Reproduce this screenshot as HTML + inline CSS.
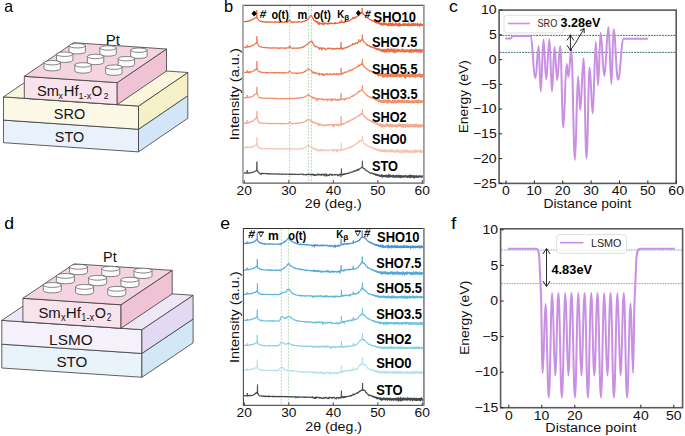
<!DOCTYPE html><html><head><meta charset="utf-8"><style>html,body{margin:0;padding:0;background:#fff;overflow:hidden}svg{display:block}text{font-family:"Liberation Sans",sans-serif}</style></head><body>
<svg width="685" height="436" viewBox="0 0 685 436">
<rect width="685" height="436" fill="#fff"/>
<polygon points="3.50,120.10 138.50,129.28 138.50,151.88 3.50,142.70" fill="#e9f1fb" stroke="#3a3a3a" stroke-width="0.8" stroke-linejoin="round" />
<polygon points="138.50,129.28 187.80,95.68 187.80,118.28 138.50,151.88" fill="#d3e6f8" stroke="#3a3a3a" stroke-width="0.8" stroke-linejoin="round" />
<polygon points="3.50,96.90 138.50,106.08 138.50,129.28 3.50,120.10" fill="#fbf9e6" stroke="#3a3a3a" stroke-width="0.8" stroke-linejoin="round" />
<polygon points="138.50,106.08 187.80,72.48 187.80,95.68 138.50,129.28" fill="#f6f0c8" stroke="#3a3a3a" stroke-width="0.8" stroke-linejoin="round" />
<polygon points="3.50,96.90 138.50,106.08 187.80,72.48 52.80,63.30" fill="#f9f6dc" stroke="#3a3a3a" stroke-width="0.8" stroke-linejoin="round" />
<polygon points="24.30,76.31 117.20,82.63 117.20,104.63 24.30,98.31" fill="#f8e2eb" stroke="#3a3a3a" stroke-width="0.8" stroke-linejoin="round" />
<polygon points="117.20,82.63 166.50,49.03 166.50,71.03 117.20,104.63" fill="#f0c3d4" stroke="#3a3a3a" stroke-width="0.8" stroke-linejoin="round" />
<polygon points="24.30,76.31 117.20,82.63 166.50,49.03 73.60,42.71" fill="#f4d4e0" stroke="#3a3a3a" stroke-width="0.8" stroke-linejoin="round" />
<path d="M69.04,45.74 L69.04,51.74 A8.20,2.20 0 0 0 85.44,51.74 L85.44,45.74 Z" fill="#fbfbfb" stroke="#555" stroke-width="0.7"/>
<ellipse cx="77.24" cy="45.74" rx="8.20" ry="2.20" fill="#ffffff" stroke="#555" stroke-width="0.7"/>
<path d="M99.87,47.97 L99.87,53.97 A8.20,2.20 0 0 0 116.27,53.97 L116.27,47.97 Z" fill="#fbfbfb" stroke="#555" stroke-width="0.7"/>
<ellipse cx="108.07" cy="47.97" rx="8.20" ry="2.20" fill="#ffffff" stroke="#555" stroke-width="0.7"/>
<path d="M130.70,50.20 L130.70,56.20 A8.20,2.20 0 0 0 147.10,56.20 L147.10,50.20 Z" fill="#fbfbfb" stroke="#555" stroke-width="0.7"/>
<ellipse cx="138.90" cy="50.20" rx="8.20" ry="2.20" fill="#ffffff" stroke="#555" stroke-width="0.7"/>
<path d="M56.52,54.22 L56.52,60.22 A8.20,2.20 0 0 0 72.92,60.22 L72.92,54.22 Z" fill="#fbfbfb" stroke="#555" stroke-width="0.7"/>
<ellipse cx="64.72" cy="54.22" rx="8.20" ry="2.20" fill="#ffffff" stroke="#555" stroke-width="0.7"/>
<path d="M87.35,56.45 L87.35,62.45 A8.20,2.20 0 0 0 103.75,62.45 L103.75,56.45 Z" fill="#fbfbfb" stroke="#555" stroke-width="0.7"/>
<ellipse cx="95.55" cy="56.45" rx="8.20" ry="2.20" fill="#ffffff" stroke="#555" stroke-width="0.7"/>
<path d="M118.18,58.68 L118.18,64.68 A8.20,2.20 0 0 0 134.58,64.68 L134.58,58.68 Z" fill="#fbfbfb" stroke="#555" stroke-width="0.7"/>
<ellipse cx="126.38" cy="58.68" rx="8.20" ry="2.20" fill="#ffffff" stroke="#555" stroke-width="0.7"/>
<path d="M44.00,62.70 L44.00,68.70 A8.20,2.20 0 0 0 60.40,68.70 L60.40,62.70 Z" fill="#fbfbfb" stroke="#555" stroke-width="0.7"/>
<ellipse cx="52.20" cy="62.70" rx="8.20" ry="2.20" fill="#ffffff" stroke="#555" stroke-width="0.7"/>
<path d="M74.83,64.93 L74.83,70.93 A8.20,2.20 0 0 0 91.23,70.93 L91.23,64.93 Z" fill="#fbfbfb" stroke="#555" stroke-width="0.7"/>
<ellipse cx="83.03" cy="64.93" rx="8.20" ry="2.20" fill="#ffffff" stroke="#555" stroke-width="0.7"/>
<path d="M105.66,67.16 L105.66,73.16 A8.20,2.20 0 0 0 122.06,73.16 L122.06,67.16 Z" fill="#fbfbfb" stroke="#555" stroke-width="0.7"/>
<ellipse cx="113.86" cy="67.16" rx="8.20" ry="2.20" fill="#ffffff" stroke="#555" stroke-width="0.7"/>
<text x="105.77" y="44.80" font-size="15.5" textLength="14.14" lengthAdjust="spacingAndGlyphs" fill="#111" >Pt</text>
<text x="36.94" y="95.70" font-size="14.5" textLength="21.93" lengthAdjust="spacingAndGlyphs" fill="#151515" >Sm</text>
<text x="58.50" y="98.90" font-size="9.8" textLength="4.39" lengthAdjust="spacingAndGlyphs" fill="#151515" >x</text>
<text x="63.79" y="95.70" font-size="14.5" textLength="14.79" lengthAdjust="spacingAndGlyphs" fill="#151515" >Hf</text>
<text x="78.61" y="98.90" font-size="9.8" textLength="12.59" lengthAdjust="spacingAndGlyphs" fill="#151515" >1-x</text>
<text x="91.55" y="95.70" font-size="14.5" textLength="10.71" lengthAdjust="spacingAndGlyphs" fill="#151515" >O</text>
<text x="103.67" y="98.90" font-size="9.8" textLength="4.76" lengthAdjust="spacingAndGlyphs" fill="#151515" >2</text>
<text x="53.84" y="119.00" font-size="15" textLength="31.35" lengthAdjust="spacingAndGlyphs" fill="#151515" >SRO</text>
<text x="54.85" y="142.20" font-size="14.5" textLength="29.33" lengthAdjust="spacingAndGlyphs" fill="#151515" >STO</text>
<text x="4.23" y="11.80" font-size="16.5" textLength="8.77" lengthAdjust="spacingAndGlyphs" fill="#000" >a</text>
<polygon points="1.80,344.20 141.90,353.45 141.90,377.25 1.80,368.00" fill="#e9f3fa" stroke="#3a3a3a" stroke-width="0.8" stroke-linejoin="round" />
<polygon points="141.90,353.45 193.10,319.05 193.10,342.85 141.90,377.25" fill="#d3e8f7" stroke="#3a3a3a" stroke-width="0.8" stroke-linejoin="round" />
<polygon points="1.80,320.40 141.90,329.65 141.90,353.45 1.80,344.20" fill="#f5f1fa" stroke="#3a3a3a" stroke-width="0.8" stroke-linejoin="round" />
<polygon points="141.90,329.65 193.10,295.25 193.10,319.05 141.90,353.45" fill="#e3d9f5" stroke="#3a3a3a" stroke-width="0.8" stroke-linejoin="round" />
<polygon points="1.80,320.40 141.90,329.65 193.10,295.25 53.00,286.00" fill="#ede7f8" stroke="#3a3a3a" stroke-width="0.8" stroke-linejoin="round" />
<polygon points="22.90,298.29 121.00,304.77 121.00,328.27 22.90,321.79" fill="#f8e2eb" stroke="#3a3a3a" stroke-width="0.8" stroke-linejoin="round" />
<polygon points="121.00,304.77 172.20,270.37 172.20,293.87 121.00,328.27" fill="#f0c3d4" stroke="#3a3a3a" stroke-width="0.8" stroke-linejoin="round" />
<polygon points="22.90,298.29 121.00,304.77 172.20,270.37 74.10,263.89" fill="#f4d4e0" stroke="#3a3a3a" stroke-width="0.8" stroke-linejoin="round" />
<path d="M69.50,266.80 L69.50,272.30 A9.00,2.40 0 0 0 87.50,272.30 L87.50,266.80 Z" fill="#fbfbfb" stroke="#555" stroke-width="0.7"/>
<ellipse cx="78.50" cy="266.80" rx="9.00" ry="2.40" fill="#ffffff" stroke="#555" stroke-width="0.7"/>
<path d="M101.75,268.70 L101.75,274.20 A9.00,2.40 0 0 0 119.75,274.20 L119.75,268.70 Z" fill="#fbfbfb" stroke="#555" stroke-width="0.7"/>
<ellipse cx="110.75" cy="268.70" rx="9.00" ry="2.40" fill="#ffffff" stroke="#555" stroke-width="0.7"/>
<path d="M134.00,270.60 L134.00,276.10 A9.00,2.40 0 0 0 152.00,276.10 L152.00,270.60 Z" fill="#fbfbfb" stroke="#555" stroke-width="0.7"/>
<ellipse cx="143.00" cy="270.60" rx="9.00" ry="2.40" fill="#ffffff" stroke="#555" stroke-width="0.7"/>
<path d="M56.40,275.90 L56.40,281.40 A9.00,2.40 0 0 0 74.40,281.40 L74.40,275.90 Z" fill="#fbfbfb" stroke="#555" stroke-width="0.7"/>
<ellipse cx="65.40" cy="275.90" rx="9.00" ry="2.40" fill="#ffffff" stroke="#555" stroke-width="0.7"/>
<path d="M88.65,277.80 L88.65,283.30 A9.00,2.40 0 0 0 106.65,283.30 L106.65,277.80 Z" fill="#fbfbfb" stroke="#555" stroke-width="0.7"/>
<ellipse cx="97.65" cy="277.80" rx="9.00" ry="2.40" fill="#ffffff" stroke="#555" stroke-width="0.7"/>
<path d="M120.90,279.70 L120.90,285.20 A9.00,2.40 0 0 0 138.90,285.20 L138.90,279.70 Z" fill="#fbfbfb" stroke="#555" stroke-width="0.7"/>
<ellipse cx="129.90" cy="279.70" rx="9.00" ry="2.40" fill="#ffffff" stroke="#555" stroke-width="0.7"/>
<path d="M43.30,285.00 L43.30,290.50 A9.00,2.40 0 0 0 61.30,290.50 L61.30,285.00 Z" fill="#fbfbfb" stroke="#555" stroke-width="0.7"/>
<ellipse cx="52.30" cy="285.00" rx="9.00" ry="2.40" fill="#ffffff" stroke="#555" stroke-width="0.7"/>
<path d="M75.55,286.90 L75.55,292.40 A9.00,2.40 0 0 0 93.55,292.40 L93.55,286.90 Z" fill="#fbfbfb" stroke="#555" stroke-width="0.7"/>
<ellipse cx="84.55" cy="286.90" rx="9.00" ry="2.40" fill="#ffffff" stroke="#555" stroke-width="0.7"/>
<path d="M107.80,288.80 L107.80,294.30 A9.00,2.40 0 0 0 125.80,294.30 L125.80,288.80 Z" fill="#fbfbfb" stroke="#555" stroke-width="0.7"/>
<ellipse cx="116.80" cy="288.80" rx="9.00" ry="2.40" fill="#ffffff" stroke="#555" stroke-width="0.7"/>
<text x="103.12" y="262.10" font-size="15.5" textLength="13.58" lengthAdjust="spacingAndGlyphs" fill="#111" >Pt</text>
<text x="38.42" y="318.30" font-size="15" textLength="22.36" lengthAdjust="spacingAndGlyphs" fill="#151515" >Sm</text>
<text x="60.90" y="321.40" font-size="10.2" textLength="4.60" lengthAdjust="spacingAndGlyphs" fill="#151515" >x</text>
<text x="65.85" y="318.30" font-size="15" textLength="15.23" lengthAdjust="spacingAndGlyphs" fill="#151515" >Hf</text>
<text x="81.30" y="321.40" font-size="10.2" textLength="12.80" lengthAdjust="spacingAndGlyphs" fill="#151515" >1-x</text>
<text x="94.82" y="318.30" font-size="15" textLength="11.17" lengthAdjust="spacingAndGlyphs" fill="#151515" >O</text>
<text x="106.68" y="321.40" font-size="10.2" textLength="4.64" lengthAdjust="spacingAndGlyphs" fill="#151515" >2</text>
<text x="49.14" y="345.40" font-size="15" textLength="43.49" lengthAdjust="spacingAndGlyphs" fill="#151515" >LSMO</text>
<text x="56.42" y="366.70" font-size="14.5" textLength="30.90" lengthAdjust="spacingAndGlyphs" fill="#151515" >STO</text>
<text x="4.26" y="229.00" font-size="16.5" textLength="9.77" lengthAdjust="spacingAndGlyphs" fill="#000" >d</text>
<line x1="289.69" y1="6.10" x2="289.69" y2="182.60" stroke="#8cc68c" stroke-width="0.7" stroke-dasharray="1.8,1.4"/>
<line x1="308.38" y1="6.10" x2="308.38" y2="182.60" stroke="#8cc68c" stroke-width="0.7" stroke-dasharray="1.8,1.4"/>
<line x1="311.41" y1="6.10" x2="311.41" y2="182.60" stroke="#8cc68c" stroke-width="0.7" stroke-dasharray="1.8,1.4"/>
<path d="M244.00,21.40 L244.35,21.68 L244.70,21.55 L245.05,21.59 L245.40,21.84 L245.75,21.42 L246.10,21.18 L246.45,21.45 L246.80,21.49 L247.15,21.35 L247.50,21.35 L247.85,20.94 L248.20,20.78 L248.55,20.87 L248.90,20.69 L249.25,20.59 L249.60,21.05 L249.95,20.54 L250.30,20.27 L250.65,20.47 L251.00,20.13 L251.35,20.15 L251.70,19.83 L252.05,19.74 L252.40,19.48 L252.75,19.37 L253.10,19.18 L253.45,18.91 L253.80,18.44 L254.15,18.52 L254.50,18.24 L254.85,18.16 L255.20,18.04 L255.55,17.93 L255.90,17.89 L256.25,17.76 L256.40,17.63 L256.80,17.60 L257.20,17.86 L257.30,17.90 L257.65,18.80 L258.00,19.15 L258.35,19.40 L258.70,20.08 L259.05,20.20 L259.40,20.57 L259.75,20.60 L260.10,21.19 L260.45,21.29 L260.80,21.30 L261.15,21.35 L261.50,21.64 L261.85,21.43 L262.20,21.63 L262.55,21.64 L262.90,21.83 L263.25,21.95 L263.60,21.73 L263.95,22.07 L264.30,22.07 L264.65,21.85 L265.00,22.05 L265.35,22.23 L265.70,21.86 L266.05,22.03 L266.40,21.79 L266.75,22.00 L267.10,21.89 L267.45,21.97 L267.80,22.23 L268.15,21.96 L268.50,21.83 L268.85,22.01 L269.20,22.05 L269.55,21.89 L269.90,22.11 L270.25,22.11 L270.60,22.04 L270.95,22.23 L271.30,22.03 L271.65,22.09 L272.00,22.06 L272.35,22.09 L272.70,21.94 L273.05,22.20 L273.40,22.20 L273.75,22.23 L274.10,22.00 L274.45,21.82 L274.80,21.83 L275.15,22.25 L275.50,21.90 L275.85,22.26 L276.20,22.05 L276.55,21.98 L276.90,22.13 L277.25,21.91 L277.60,22.13 L277.95,22.05 L278.30,22.22 L278.65,21.84 L279.00,21.98 L279.35,22.19 L279.70,21.93 L280.05,22.21 L280.40,21.99 L280.75,22.15 L281.10,22.28 L281.45,22.16 L281.80,21.91 L282.15,21.93 L282.50,22.11 L282.85,22.01 L283.20,21.97 L283.55,22.11 L283.90,22.24 L284.25,22.09 L284.60,21.86 L284.95,22.23 L285.30,22.21 L285.65,22.12 L286.00,22.01 L286.35,21.94 L286.70,21.96 L287.05,22.10 L287.40,22.05 L287.75,22.12 L288.10,21.46 L288.45,21.05 L288.80,21.06 L289.15,20.52 L289.50,19.84 L289.85,19.89 L290.20,20.18 L290.55,20.88 L290.90,21.71 L291.25,21.85 L291.60,21.89 L291.95,22.48 L292.30,21.98 L292.65,22.04 L293.00,21.87 L293.35,22.28 L293.70,21.89 L294.05,22.12 L294.40,22.09 L294.75,22.14 L295.10,22.09 L295.45,21.95 L295.80,21.97 L296.15,22.04 L296.50,22.13 L296.85,22.02 L297.20,21.99 L297.55,22.22 L297.90,21.98 L298.25,22.09 L298.60,22.11 L298.95,21.85 L299.30,21.88 L299.65,21.87 L300.00,22.13 L300.35,22.19 L300.70,22.20 L301.05,22.01 L301.40,21.78 L301.75,21.77 L302.10,22.07 L302.45,21.70 L302.80,21.71 L303.15,21.52 L303.50,21.36 L303.85,21.21 L304.20,21.50 L304.55,21.39 L304.90,21.21 L305.25,20.83 L305.60,20.67 L305.95,20.72 L306.30,20.23 L306.65,20.33 L307.00,19.95 L307.35,19.64 L307.70,19.30 L308.05,18.85 L308.40,18.72 L308.75,18.20 L309.10,17.73 L309.45,17.21 L309.80,16.69 L310.15,16.27 L310.50,15.77 L310.90,15.60 L311.30,15.75 L311.55,15.83 L311.90,16.51 L312.25,17.13 L312.60,18.14 L312.95,18.48 L313.30,18.74 L313.65,19.69 L314.00,20.54 L314.35,20.60 L314.70,20.57 L315.05,20.37 L315.40,21.55 L315.75,21.54 L316.10,21.33 L316.45,22.00 L316.80,22.34 L317.15,22.65 L317.50,21.78 L317.85,21.97 L318.20,24.04 L318.55,22.88 L318.90,22.74 L319.25,24.93 L319.60,23.36 L319.95,22.77 L320.30,23.76 L320.65,23.61 L321.00,23.52 L321.35,23.29 L321.70,24.00 L322.05,23.79 L322.40,22.96 L322.75,22.91 L323.10,25.08 L323.45,23.81 L323.80,23.06 L324.15,22.74 L324.50,24.44 L324.85,23.51 L325.20,22.99 L325.55,23.42 L325.90,23.47 L326.25,23.59 L326.60,23.75 L326.95,23.40 L327.30,23.80 L327.65,23.42 L328.00,24.51 L328.35,22.82 L328.70,23.36 L329.05,23.63 L329.40,22.81 L329.75,23.37 L330.10,23.27 L330.45,24.10 L330.80,23.18 L331.15,23.10 L331.50,23.46 L331.85,23.40 L332.20,23.32 L332.55,23.31 L332.90,23.60 L333.25,23.79 L333.60,23.58 L333.95,23.45 L334.30,22.87 L334.65,23.26 L335.00,23.62 L335.35,22.98 L335.70,23.53 L336.05,23.35 L336.40,23.34 L336.75,23.31 L337.10,23.16 L337.45,22.82 L337.80,23.08 L338.15,23.24 L338.50,23.19 L338.85,22.94 L339.20,22.46 L339.55,23.21 L339.90,22.23 L340.25,22.61 L340.60,22.00 L340.80,22.37 L341.20,22.31 L341.60,22.25 L341.65,22.76 L342.00,22.20 L342.35,21.71 L342.70,22.86 L343.05,22.10 L343.40,22.31 L343.75,21.73 L344.10,23.26 L344.45,22.02 L344.80,21.95 L345.15,21.56 L345.50,21.82 L345.85,21.48 L346.20,21.38 L346.55,21.26 L346.90,21.58 L347.25,21.10 L347.60,21.29 L347.95,20.77 L348.30,21.01 L348.65,20.78 L349.00,20.86 L349.35,20.62 L349.70,20.66 L350.05,20.44 L350.40,20.05 L350.75,19.78 L351.10,19.33 L351.45,19.24 L351.80,18.95 L352.15,19.02 L352.50,18.61 L352.90,18.40 L353.30,18.22 L353.55,17.97 L353.90,18.22 L354.25,17.67 L354.60,18.04 L354.95,17.39 L355.30,17.72 L355.65,17.44 L356.00,17.97 L356.35,16.74 L356.70,16.73 L357.05,16.27 L357.40,16.36 L357.75,15.91 L358.10,15.67 L358.45,15.27 L358.80,15.86 L359.15,14.80 L359.50,14.21 L359.85,14.26 L360.20,13.98 L360.55,13.31 L360.90,12.97 L361.25,13.43 L361.60,12.59 L361.70,12.68 L362.10,12.60 L362.50,12.77 L362.65,13.20 L363.00,13.83 L363.35,13.59 L363.70,14.08 L364.05,14.71 L364.40,15.07 L364.75,15.39 L365.10,15.70 L365.45,16.03 L365.80,16.00 L366.15,16.63 L366.50,16.94 L366.85,17.48 L367.20,17.39 L367.55,17.94 L367.90,18.06 L368.25,18.35 L368.60,18.60 L368.95,18.98 L369.30,19.18 L369.65,19.45 L370.00,19.58 L370.35,19.53 L370.70,19.54 L371.05,19.98 L371.40,20.14 L371.75,21.05 L372.10,20.46 L372.38,20.61 L372.66,20.81 L372.94,20.83 L373.22,21.13 L373.50,21.10 L373.78,21.18 L374.06,21.33 L374.34,21.68 L374.62,21.70 L374.90,21.87 L375.18,22.21 L375.46,22.24 L375.74,22.13 L376.02,22.50 L376.30,21.94 L376.58,22.43 L376.86,22.33 L377.14,21.97 L377.42,22.88 L377.70,22.51 L377.98,22.63 L378.26,22.97 L378.54,22.47 L378.82,22.85 L379.10,22.40 L379.38,23.25 L379.66,24.06 L379.94,23.98 L380.22,24.25 L380.50,22.78 L380.78,23.79 L381.06,24.28 L381.34,24.29 L381.62,24.76 L381.90,23.69 L382.18,24.98 L382.46,23.15 L382.74,24.43 L383.02,24.91 L383.30,23.85 L383.58,22.88 L383.86,24.21 L384.14,23.11 L384.42,24.45 L384.70,23.07 L384.98,24.96 L385.26,23.40 L385.54,22.92 L385.82,25.01 L386.10,23.75 L386.38,24.51 L386.66,25.15 L386.94,24.71 L387.22,25.29 L387.50,24.85 L387.78,25.42 L388.06,23.63 L388.34,24.98 L388.62,24.37 L388.90,25.23 L389.18,25.67 L389.46,24.33 L389.74,23.95 L390.02,23.04 L390.30,23.97 L390.58,24.99 L390.86,24.55 L391.14,24.57 L391.42,24.56 L391.70,25.44 L391.98,24.76 L392.26,24.00 L392.54,24.68 L392.82,25.50 L393.10,24.80 L393.38,25.02 L393.66,24.19 L393.94,25.44 L394.22,24.89 L394.50,25.43 L394.78,24.24 L395.06,25.17 L395.34,25.08 L395.62,24.14 L395.90,23.55 L396.18,24.56 L396.46,23.96 L396.74,24.75 L397.02,25.61 L397.30,24.59 L397.58,24.98 L397.86,25.17 L398.14,25.04 L398.42,25.58 L398.70,23.51 L398.98,25.58 L399.26,23.28 L399.54,24.54 L399.82,24.35 L400.10,25.32 L400.38,24.85 L400.66,24.71 L400.94,24.24 L401.22,25.61 L401.50,24.73 L401.78,25.00 L402.06,24.05 L402.34,24.57 L402.62,25.40 L402.90,25.02 L403.18,24.37 L403.46,24.14 L403.74,25.51 L404.02,25.41 L404.30,24.37 L404.58,23.90 L404.86,24.45 L405.14,25.70 L405.42,24.64 L405.70,24.76 L405.98,25.23 L406.26,25.86 L406.54,25.01 L406.82,25.67 L407.10,24.76 L407.38,25.24 L407.66,24.00 L407.94,25.13 L408.22,23.73 L408.50,24.82 L408.78,25.67 L409.06,24.93 L409.34,24.48 L409.62,25.12 L409.90,23.98 L410.18,24.62 L410.46,24.93 L410.74,25.52 L411.02,25.18 L411.30,25.12 L411.58,25.38 L411.86,24.26 L412.14,24.30 L412.42,23.79 L412.70,23.63 L412.98,25.16 L413.26,25.12 L413.54,23.96 L413.82,25.54 L414.10,23.69 L414.38,24.98 L414.66,24.04 L414.94,25.75 L415.22,24.95 L415.50,23.41 L415.78,23.80 L416.06,25.32 L416.34,23.48 L416.62,25.22 L416.90,24.29 L417.18,23.69 L417.46,24.49 L417.74,25.04 L418.02,25.13 L418.30,24.76 L418.58,25.69 L418.86,25.39 L419.14,25.48 L419.42,25.53 L419.70,25.13 L419.98,24.80 L420.26,24.82 L420.54,25.59 L420.82,25.48 L421.10,23.92 L421.38,24.58 L421.66,24.13 L421.94,24.80 L422.22,24.51 L422.50,24.44 L422.78,24.84" fill="none" stroke="#e9623a" stroke-width="1.15" stroke-linejoin="miter" stroke-miterlimit="2"/>
<path d="M372.00,20.41 L372.30,20.59 L372.60,20.76 L372.90,20.82 L373.20,20.99 L373.50,21.21 L373.80,21.19 L374.10,21.57 L374.40,21.40 L374.70,21.85 L375.00,21.64 L375.30,22.11 L375.60,22.24 L375.90,22.02 L376.20,22.53 L376.50,22.09 L376.80,22.75 L377.10,22.45 L377.40,22.60 L377.70,22.37 L378.00,22.95 L378.30,22.68 L378.60,23.22 L378.90,23.47 L379.20,23.32 L379.50,22.63 L379.80,23.97 L380.10,24.02 L380.40,23.71 L380.70,23.39 L381.00,23.74 L381.30,24.34 L381.60,23.72 L381.90,24.34 L382.20,24.07 L382.50,23.79 L382.80,24.71 L383.10,23.82 L383.40,24.19 L383.70,23.25 L384.00,24.01 L384.30,23.27 L384.60,24.46 L384.90,23.26 L385.20,23.35 L385.50,23.49 L385.80,23.56 L386.10,24.23 L386.40,23.98 L386.70,23.85 L387.00,25.11 L387.30,25.00 L387.60,24.57 L387.90,24.84 L388.20,24.88 L388.50,23.89 L388.80,24.88 L389.10,23.90 L389.40,24.47 L389.70,24.12 L390.00,23.78 L390.30,24.87 L390.60,25.11 L390.90,24.07 L391.20,25.06 L391.50,24.13 L391.80,24.68 L392.10,25.28 L392.40,24.89 L392.70,23.65 L393.00,24.31 L393.30,24.22 L393.60,24.08 L393.90,25.00 L394.20,24.34 L394.50,24.80 L394.80,24.69 L395.10,24.50 L395.40,23.69 L395.70,24.77 L396.00,25.16 L396.30,23.91 L396.60,24.73 L396.90,24.47 L397.20,24.22 L397.50,24.87 L397.80,25.33 L398.10,23.67 L398.40,25.21 L398.70,24.31 L399.00,25.10 L399.30,23.95 L399.60,24.91 L399.90,23.83 L400.20,24.25 L400.50,25.36 L400.80,24.82 L401.10,25.04 L401.40,24.48 L401.70,24.50 L402.00,24.54 L402.30,25.04 L402.60,24.95 L402.90,24.03 L403.20,24.47 L403.50,24.65 L403.80,24.70 L404.10,25.33 L404.40,25.18 L404.70,23.97 L405.00,24.37 L405.30,23.91 L405.60,23.76 L405.90,23.85 L406.20,24.04 L406.50,25.07 L406.80,24.90 L407.10,25.13 L407.40,24.24 L407.70,24.01 L408.00,25.44 L408.30,25.19 L408.60,25.40 L408.90,23.78 L409.20,24.44 L409.50,24.86 L409.80,25.04 L410.10,25.35 L410.40,24.70 L410.70,24.44 L411.00,23.77 L411.30,25.17 L411.60,25.48 L411.90,25.35 L412.20,24.93 L412.50,24.37 L412.80,24.19 L413.10,25.13 L413.40,25.41 L413.70,25.46 L414.00,24.09 L414.30,24.80 L414.60,24.68 L414.90,24.53 L415.20,25.17 L415.50,25.42 L415.80,25.05 L416.10,25.01 L416.40,25.00 L416.70,24.93 L417.00,24.73 L417.30,24.23 L417.60,25.16 L417.90,24.00 L418.20,24.92 L418.50,24.47 L418.80,24.78 L419.10,24.92 L419.40,24.63 L419.70,25.51 L420.00,24.22 L420.30,23.82 L420.60,25.47 L420.90,24.34 L421.20,24.29 L421.50,24.53 L421.80,24.84 L422.10,25.53 L422.40,25.04 L422.70,24.36" fill="none" stroke="#e9623a" stroke-width="1.2"/>
<path d="M256.45,17.92 L256.80,10.10 L257.15,18.10 M340.85,22.66 L341.20,19.80 L341.55,22.56 M352.55,18.88 L352.90,17.00 L353.25,18.54 M361.75,12.96 L362.10,8.10 L362.45,13.03 M310.55,16.03 L310.90,15.00 L311.25,16.02 " fill="none" stroke="#e9623a" stroke-width="0.85" stroke-linejoin="miter" stroke-miterlimit="10"/>
<path d="M244.00,47.28 L244.35,47.27 L244.70,47.11 L245.05,47.19 L245.40,47.36 L245.75,47.04 L246.10,47.32 L246.45,47.18 L246.80,47.02 L246.80,47.02 L247.20,46.97 L247.60,46.92 L247.85,46.84 L248.20,46.79 L248.55,46.68 L248.90,46.66 L249.25,46.85 L249.60,46.51 L249.95,46.74 L250.30,46.52 L250.65,46.25 L251.00,46.07 L251.35,45.91 L251.70,45.89 L252.05,45.80 L252.40,45.59 L252.75,45.26 L253.10,45.09 L253.45,45.21 L253.80,44.94 L254.15,44.63 L254.50,44.26 L254.85,44.10 L255.20,43.64 L255.55,43.53 L255.90,43.21 L256.25,42.87 L256.50,42.84 L256.90,42.81 L257.30,43.11 L257.65,43.82 L258.00,44.43 L258.35,45.00 L258.70,45.69 L259.05,45.84 L259.40,46.18 L259.75,46.55 L260.10,46.67 L260.45,46.87 L260.80,46.91 L261.15,46.71 L261.50,46.90 L261.85,47.07 L262.20,47.25 L262.55,47.32 L262.90,47.50 L263.25,47.52 L263.60,47.52 L263.95,47.34 L264.30,47.63 L264.65,47.55 L265.00,47.36 L265.35,47.74 L265.70,47.82 L266.05,47.48 L266.40,47.48 L266.75,47.69 L267.10,47.78 L267.45,47.77 L267.80,47.65 L268.15,47.97 L268.50,47.94 L268.85,48.01 L269.20,48.00 L269.55,47.70 L269.90,48.08 L270.25,48.09 L270.60,47.83 L270.95,48.02 L271.30,47.96 L271.65,48.08 L272.00,48.10 L272.35,48.10 L272.70,47.89 L273.05,47.85 L273.40,47.98 L273.75,47.84 L274.10,48.08 L274.45,47.92 L274.80,48.09 L275.15,47.79 L275.50,47.75 L275.85,47.90 L276.20,48.00 L276.55,48.02 L276.90,48.05 L277.25,47.97 L277.60,48.24 L277.95,47.93 L278.30,48.19 L278.65,47.84 L279.00,48.02 L279.35,48.24 L279.70,48.11 L280.05,48.09 L280.40,47.93 L280.75,48.06 L281.10,48.09 L281.45,47.89 L281.80,47.94 L282.15,47.95 L282.50,47.94 L282.85,47.95 L283.20,48.16 L283.55,48.22 L283.90,48.20 L284.25,47.98 L284.60,48.22 L284.95,48.04 L285.30,48.37 L285.65,48.18 L286.00,47.86 L286.35,48.14 L286.70,48.03 L287.05,47.93 L287.40,47.90 L287.75,47.90 L288.10,47.91 L288.45,47.97 L288.80,47.48 L289.15,46.65 L289.50,46.26 L289.85,46.34 L290.20,47.37 L290.55,47.13 L290.90,47.56 L291.25,47.96 L291.60,48.16 L291.95,48.12 L292.30,48.03 L292.65,48.24 L293.00,48.35 L293.35,48.15 L293.70,47.97 L294.05,48.21 L294.40,48.10 L294.75,48.05 L295.10,48.07 L295.45,48.24 L295.80,48.24 L296.15,48.10 L296.50,48.05 L296.85,48.08 L297.20,48.01 L297.55,48.16 L297.90,48.00 L298.25,48.11 L298.60,47.85 L298.95,48.27 L299.30,48.09 L299.65,47.87 L300.00,48.06 L300.35,47.89 L300.70,47.75 L301.05,47.64 L301.40,47.39 L301.75,47.60 L302.10,47.15 L302.45,47.26 L302.80,47.23 L303.15,46.71 L303.50,46.93 L303.85,46.35 L304.20,46.53 L304.55,45.99 L304.90,45.98 L305.25,45.79 L305.60,45.48 L305.95,45.12 L306.30,44.99 L306.65,44.91 L307.00,44.38 L307.35,44.34 L307.70,44.12 L308.05,43.79 L308.40,43.41 L308.75,43.35 L309.10,42.66 L309.45,42.42 L309.80,42.45 L310.15,41.82 L310.50,41.50 L310.85,41.31 L311.20,41.02 L311.55,41.17 L311.90,41.09 L312.25,41.88 L312.60,42.86 L312.95,43.93 L313.30,43.90 L313.65,44.27 L314.00,45.38 L314.35,46.28 L314.70,45.54 L315.05,46.52 L315.40,46.85 L315.75,46.43 L316.10,46.43 L316.45,46.71 L316.80,46.80 L317.15,46.88 L317.50,47.03 L317.85,47.42 L318.20,47.79 L318.55,47.84 L318.90,47.37 L319.25,49.79 L319.60,48.39 L319.95,48.40 L320.30,47.45 L320.65,47.91 L321.00,48.11 L321.35,48.83 L321.70,50.36 L322.05,48.76 L322.40,48.13 L322.75,48.35 L323.10,47.88 L323.45,48.13 L323.80,48.49 L324.15,48.78 L324.50,49.06 L324.85,48.50 L325.20,49.02 L325.55,49.13 L325.90,49.54 L326.25,49.10 L326.60,49.14 L326.95,48.93 L327.30,48.54 L327.65,48.46 L328.00,47.97 L328.35,48.16 L328.70,49.08 L329.05,48.14 L329.40,48.76 L329.75,48.05 L330.10,48.25 L330.45,48.17 L330.80,48.35 L331.15,48.66 L331.50,49.14 L331.85,49.17 L332.20,48.64 L332.55,48.89 L332.90,48.41 L333.25,48.61 L333.60,49.06 L333.95,48.76 L334.30,48.39 L334.65,49.67 L335.00,48.74 L335.35,48.22 L335.70,49.05 L336.05,48.47 L336.40,48.01 L336.75,49.03 L337.10,48.12 L337.45,49.10 L337.80,48.24 L338.15,48.61 L338.50,48.65 L338.85,48.65 L339.20,49.08 L339.55,48.56 L339.90,48.41 L340.25,48.04 L340.60,48.92 L340.70,48.38 L341.10,48.35 L341.50,48.31 L341.65,48.11 L342.00,48.92 L342.35,48.54 L342.70,49.99 L343.05,47.88 L343.40,48.31 L343.75,48.37 L344.10,47.45 L344.45,48.08 L344.80,47.76 L345.15,47.81 L345.50,47.82 L345.85,47.88 L346.20,47.70 L346.55,47.34 L346.90,47.51 L347.25,47.45 L347.60,46.83 L347.95,46.98 L348.30,46.50 L348.65,46.73 L349.00,46.73 L349.35,46.37 L349.70,45.86 L350.05,45.81 L350.40,45.66 L350.75,45.32 L351.10,45.19 L351.45,45.13 L351.80,44.86 L352.15,44.97 L352.40,44.57 L352.80,44.40 L353.20,44.24 L353.20,44.18 L353.55,44.05 L353.90,43.80 L354.25,44.00 L354.60,44.09 L354.95,43.76 L355.30,43.31 L355.65,43.52 L356.00,43.16 L356.35,42.96 L356.70,43.28 L357.05,43.06 L357.40,43.31 L357.75,42.54 L358.10,42.41 L358.40,42.18 L358.80,41.89 L359.20,41.55 L359.50,41.64 L359.85,41.35 L360.20,40.98 L360.55,41.34 L360.90,40.35 L361.25,40.42 L361.60,39.78 L361.95,39.67 L362.00,39.66 L362.40,39.60 L362.80,39.85 L363.00,40.45 L363.35,40.67 L363.70,41.34 L364.05,41.88 L364.40,42.30 L364.75,42.66 L365.10,42.84 L365.45,43.04 L365.80,43.45 L366.15,44.10 L366.50,44.39 L366.85,44.80 L367.20,45.69 L367.55,44.88 L367.90,45.30 L368.25,45.49 L368.60,45.42 L368.95,46.16 L369.30,45.97 L369.65,46.36 L370.00,46.40 L370.35,46.65 L370.70,47.58 L371.05,46.59 L371.40,46.84 L371.75,47.14 L372.10,47.04 L372.38,47.17 L372.66,47.31 L372.94,47.54 L373.22,47.55 L373.50,47.50 L373.78,47.86 L374.06,48.11 L374.34,47.99 L374.62,47.77 L374.90,47.78 L375.18,48.23 L375.46,48.51 L375.74,48.51 L376.02,48.42 L376.30,48.52 L376.58,48.38 L376.86,48.90 L377.14,49.15 L377.42,48.86 L377.70,50.02 L377.98,49.61 L378.26,49.09 L378.54,49.47 L378.82,49.40 L379.10,49.04 L379.38,49.05 L379.66,49.22 L379.94,50.89 L380.22,49.56 L380.50,49.66 L380.78,50.42 L381.06,49.97 L381.34,51.28 L381.62,49.49 L381.90,51.04 L382.18,49.38 L382.46,51.68 L382.74,50.84 L383.02,51.53 L383.30,48.98 L383.58,50.19 L383.86,49.89 L384.14,51.50 L384.42,50.30 L384.70,50.71 L384.98,52.03 L385.26,49.40 L385.54,50.77 L385.82,51.26 L386.10,51.95 L386.38,49.50 L386.66,49.51 L386.94,49.36 L387.22,49.41 L387.50,50.17 L387.78,51.32 L388.06,49.46 L388.34,49.61 L388.62,50.72 L388.90,51.97 L389.18,50.84 L389.46,49.51 L389.74,49.49 L390.02,50.26 L390.30,50.68 L390.58,51.90 L390.86,49.77 L391.14,48.86 L391.42,49.09 L391.70,49.72 L391.98,51.71 L392.26,49.41 L392.54,49.39 L392.82,52.22 L393.10,51.25 L393.38,49.56 L393.66,50.31 L393.94,50.52 L394.22,50.95 L394.50,49.23 L394.78,49.01 L395.06,50.67 L395.34,52.41 L395.62,52.49 L395.90,51.67 L396.18,51.88 L396.46,51.31 L396.74,51.66 L397.02,49.17 L397.30,51.40 L397.58,51.09 L397.86,51.84 L398.14,51.26 L398.42,49.85 L398.70,50.15 L398.98,49.08 L399.26,51.73 L399.54,50.63 L399.82,51.17 L400.10,50.98 L400.38,52.15 L400.66,51.00 L400.94,52.07 L401.22,50.80 L401.50,50.67 L401.78,51.15 L402.06,50.45 L402.34,49.48 L402.62,49.51 L402.90,49.41 L403.18,52.08 L403.46,50.25 L403.74,51.11 L404.02,51.55 L404.30,50.15 L404.58,50.69 L404.86,52.33 L405.14,52.26 L405.42,51.00 L405.70,49.78 L405.98,50.76 L406.26,49.82 L406.54,51.38 L406.82,51.41 L407.10,51.47 L407.38,50.84 L407.66,50.28 L407.94,49.70 L408.22,52.06 L408.50,50.12 L408.78,51.78 L409.06,50.27 L409.34,52.36 L409.62,51.96 L409.90,51.61 L410.18,51.05 L410.46,52.31 L410.74,51.73 L411.02,49.35 L411.30,49.07 L411.58,52.27 L411.86,51.13 L412.14,51.49 L412.42,51.35 L412.70,52.18 L412.98,51.27 L413.26,51.21 L413.54,50.07 L413.82,49.26 L414.10,50.30 L414.38,49.78 L414.66,52.02 L414.94,50.47 L415.22,51.14 L415.50,49.67 L415.78,50.11 L416.06,50.17 L416.34,49.15 L416.62,50.23 L416.90,50.74 L417.18,49.88 L417.46,49.22 L417.74,51.91 L418.02,51.98 L418.30,50.48 L418.58,52.37 L418.86,50.04 L419.14,50.52 L419.42,50.37 L419.70,50.15 L419.98,52.34 L420.26,49.57 L420.54,52.12 L420.82,49.02 L421.10,51.78 L421.38,52.39 L421.66,51.84 L421.94,51.88 L422.22,50.82 L422.50,49.67 L422.78,51.40" fill="none" stroke="#ec6e46" stroke-width="1.15" stroke-linejoin="miter" stroke-miterlimit="2"/>
<path d="M372.00,46.98 L372.30,47.12 L372.60,47.27 L372.90,47.32 L373.20,47.47 L373.50,47.69 L373.80,47.66 L374.10,47.84 L374.40,48.11 L374.70,48.21 L375.00,48.55 L375.30,48.33 L375.60,48.54 L375.90,48.53 L376.20,48.97 L376.50,48.96 L376.80,49.43 L377.10,48.59 L377.40,48.65 L377.70,48.95 L378.00,49.49 L378.30,49.63 L378.60,49.04 L378.90,49.22 L379.20,49.85 L379.50,49.34 L379.80,50.46 L380.10,49.16 L380.40,50.56 L380.70,49.35 L381.00,50.61 L381.30,50.85 L381.60,51.31 L381.90,51.32 L382.20,49.27 L382.50,50.80 L382.80,51.41 L383.10,51.09 L383.40,50.36 L383.70,51.08 L384.00,49.98 L384.30,51.23 L384.60,50.30 L384.90,51.65 L385.20,49.42 L385.50,50.75 L385.80,49.69 L386.10,51.21 L386.40,51.71 L386.70,50.58 L387.00,51.42 L387.30,49.98 L387.60,49.50 L387.90,51.35 L388.20,50.43 L388.50,49.66 L388.80,51.06 L389.10,51.61 L389.40,49.67 L389.70,50.93 L390.00,50.31 L390.30,49.58 L390.60,49.66 L390.90,49.60 L391.20,50.22 L391.50,50.23 L391.80,50.78 L392.10,50.98 L392.40,51.53 L392.70,51.55 L393.00,49.92 L393.30,51.01 L393.60,51.61 L393.90,50.12 L394.20,50.96 L394.50,51.88 L394.80,51.04 L395.10,51.21 L395.40,50.28 L395.70,51.91 L396.00,51.52 L396.30,50.32 L396.60,50.27 L396.90,49.57 L397.20,50.70 L397.50,51.64 L397.80,51.43 L398.10,49.92 L398.40,50.14 L398.70,49.96 L399.00,50.19 L399.30,50.06 L399.60,49.97 L399.90,50.90 L400.20,51.76 L400.50,51.62 L400.80,51.07 L401.10,50.34 L401.40,51.76 L401.70,50.10 L402.00,49.69 L402.30,50.12 L402.60,51.48 L402.90,51.27 L403.20,50.35 L403.50,50.13 L403.80,51.13 L404.10,50.83 L404.40,51.51 L404.70,50.68 L405.00,49.82 L405.30,49.79 L405.60,50.17 L405.90,50.87 L406.20,51.33 L406.50,50.95 L406.80,49.66 L407.10,51.90 L407.40,50.73 L407.70,50.92 L408.00,50.10 L408.30,50.22 L408.60,50.15 L408.90,51.09 L409.20,51.81 L409.50,50.28 L409.80,50.48 L410.10,50.33 L410.40,49.72 L410.70,49.68 L411.00,51.51 L411.30,51.98 L411.60,49.76 L411.90,49.84 L412.20,50.73 L412.50,50.38 L412.80,50.25 L413.10,51.73 L413.40,50.12 L413.70,50.13 L414.00,51.82 L414.30,51.15 L414.60,51.30 L414.90,51.26 L415.20,49.73 L415.50,52.00 L415.80,49.74 L416.10,50.21 L416.40,50.80 L416.70,51.67 L417.00,51.93 L417.30,49.70 L417.60,50.00 L417.90,49.71 L418.20,50.00 L418.50,51.85 L418.80,49.88 L419.10,50.96 L419.40,50.14 L419.70,49.70 L420.00,50.34 L420.30,50.29 L420.60,50.97 L420.90,51.76 L421.20,50.94 L421.50,50.95 L421.80,50.34 L422.10,50.11 L422.40,50.82 L422.70,50.62" fill="none" stroke="#ec6e46" stroke-width="1.2"/>
<path d="M246.85,47.32 L247.20,44.90 L247.55,47.22 M256.55,43.13 L256.90,36.30 L257.25,43.36 M340.75,48.68 L341.10,42.00 L341.45,48.62 M352.45,44.85 L352.80,43.20 L353.15,44.56 M358.45,42.45 L358.80,39.30 L359.15,41.89 M362.05,39.95 L362.40,34.60 L362.75,40.09 " fill="none" stroke="#ec6e46" stroke-width="0.85" stroke-linejoin="miter" stroke-miterlimit="10"/>
<path d="M244.00,72.65 L244.35,72.25 L244.70,72.38 L245.05,72.40 L245.40,72.54 L245.75,72.56 L246.10,72.20 L246.45,72.20 L246.80,72.29 L246.80,72.27 L247.20,72.23 L247.60,72.19 L247.85,72.02 L248.20,72.28 L248.55,72.68 L248.90,71.95 L249.25,72.06 L249.60,71.80 L249.95,71.73 L250.30,72.55 L250.65,72.34 L251.00,71.74 L251.35,71.83 L251.70,71.77 L252.05,71.77 L252.40,71.63 L252.75,71.24 L253.10,71.14 L253.45,71.07 L253.80,70.86 L254.15,70.67 L254.50,70.46 L254.85,69.95 L255.20,69.62 L255.55,69.65 L255.90,69.26 L256.25,69.38 L256.50,69.22 L256.90,69.21 L257.30,69.44 L257.65,70.00 L258.00,70.39 L258.35,70.99 L258.70,71.17 L259.05,71.47 L259.40,71.57 L259.75,71.82 L260.10,71.64 L260.45,72.01 L260.80,72.02 L261.15,72.33 L261.50,72.17 L261.85,72.35 L262.20,72.24 L262.55,72.28 L262.90,72.55 L263.25,72.50 L263.60,72.54 L263.95,72.72 L264.30,72.60 L264.65,72.39 L265.00,72.50 L265.35,72.65 L265.70,72.38 L266.05,72.49 L266.40,72.54 L266.75,73.04 L267.10,72.58 L267.45,72.51 L267.80,72.83 L268.15,72.69 L268.50,72.80 L268.85,72.85 L269.20,72.87 L269.55,72.81 L269.90,72.76 L270.25,72.68 L270.60,72.60 L270.95,72.49 L271.30,72.80 L271.65,72.66 L272.00,72.70 L272.35,72.70 L272.70,72.92 L273.05,72.61 L273.40,72.80 L273.75,72.73 L274.10,72.65 L274.45,72.89 L274.80,73.01 L275.15,72.62 L275.50,72.57 L275.85,72.86 L276.20,72.51 L276.55,72.56 L276.90,72.68 L277.25,72.55 L277.60,72.81 L277.95,72.54 L278.30,72.73 L278.65,72.61 L279.00,72.57 L279.35,72.92 L279.70,72.70 L280.05,72.89 L280.40,72.69 L280.75,72.85 L281.10,72.73 L281.45,72.60 L281.80,72.97 L282.15,72.56 L282.50,72.97 L282.85,72.97 L283.20,72.86 L283.55,72.59 L283.90,72.96 L284.25,72.82 L284.60,72.86 L284.95,72.68 L285.30,72.60 L285.65,72.76 L286.00,72.56 L286.35,72.71 L286.70,72.95 L287.05,72.81 L287.40,72.93 L287.75,72.95 L288.10,72.80 L288.45,72.59 L288.80,71.80 L289.15,71.19 L289.50,70.99 L289.85,70.99 L290.20,71.60 L290.55,71.86 L290.90,72.37 L291.25,72.85 L291.60,72.98 L291.95,72.85 L292.30,73.13 L292.65,73.19 L293.00,73.25 L293.35,73.04 L293.70,73.19 L294.05,73.24 L294.40,73.15 L294.75,72.87 L295.10,73.04 L295.45,73.14 L295.80,73.17 L296.15,73.87 L296.50,73.19 L296.85,73.19 L297.20,73.61 L297.55,73.21 L297.90,73.12 L298.25,72.92 L298.60,73.17 L298.95,73.28 L299.30,73.15 L299.65,73.02 L300.00,73.03 L300.35,72.91 L300.70,73.24 L301.05,73.15 L301.40,72.91 L301.75,72.87 L302.10,72.68 L302.45,72.72 L302.80,72.60 L303.15,72.42 L303.50,72.12 L303.85,71.85 L304.20,72.00 L304.55,71.59 L304.90,71.60 L305.25,71.22 L305.60,71.30 L305.95,70.62 L306.30,70.26 L306.65,70.22 L307.00,69.88 L307.35,69.62 L307.70,69.30 L308.05,69.04 L308.40,69.14 L308.75,69.18 L309.10,69.16 L309.45,69.41 L309.80,69.71 L310.15,69.94 L310.50,70.08 L310.85,70.13 L311.20,70.36 L311.55,70.71 L311.90,71.25 L312.25,73.16 L312.60,71.40 L312.95,72.41 L313.30,72.81 L313.65,72.36 L314.00,72.17 L314.35,73.04 L314.70,72.76 L315.05,72.65 L315.40,72.66 L315.75,73.36 L316.10,73.73 L316.45,72.87 L316.80,73.33 L317.15,73.51 L317.50,73.55 L317.85,73.20 L318.20,73.28 L318.55,74.14 L318.90,74.05 L319.25,75.53 L319.60,73.48 L319.95,73.71 L320.30,74.06 L320.65,74.09 L321.00,73.46 L321.35,74.37 L321.70,74.28 L322.05,73.53 L322.40,74.56 L322.75,74.18 L323.10,74.62 L323.45,74.32 L323.80,75.86 L324.15,74.33 L324.50,74.50 L324.85,74.70 L325.20,73.89 L325.55,74.48 L325.90,74.21 L326.25,74.67 L326.60,73.80 L326.95,73.54 L327.30,74.54 L327.65,74.06 L328.00,74.90 L328.35,74.68 L328.70,74.43 L329.05,74.14 L329.40,74.00 L329.75,73.53 L330.10,74.21 L330.45,74.06 L330.80,74.09 L331.15,74.46 L331.50,74.62 L331.85,73.72 L332.20,74.71 L332.55,74.47 L332.90,74.29 L333.25,73.62 L333.60,73.86 L333.95,73.85 L334.30,74.19 L334.65,73.79 L335.00,74.48 L335.35,73.64 L335.70,74.32 L336.05,74.53 L336.40,73.66 L336.75,73.50 L337.10,74.71 L337.45,74.12 L337.80,75.11 L338.15,74.36 L338.50,73.46 L338.85,73.91 L339.20,74.37 L339.55,74.29 L339.90,73.66 L340.25,74.41 L340.60,74.20 L340.70,73.84 L341.10,73.76 L341.50,73.65 L341.65,74.17 L342.00,73.94 L342.35,74.12 L342.70,73.59 L343.05,73.15 L343.40,73.72 L343.75,73.03 L344.10,72.37 L344.45,72.07 L344.80,72.35 L345.15,72.40 L345.50,72.38 L345.85,72.51 L346.20,71.97 L346.55,71.90 L346.90,71.99 L347.25,71.64 L347.60,71.24 L347.95,70.96 L348.30,70.95 L348.65,70.70 L349.00,70.55 L349.35,70.41 L349.70,70.33 L350.05,71.21 L350.40,70.41 L350.75,70.18 L351.10,69.85 L351.45,69.93 L351.80,69.80 L352.15,70.55 L352.50,69.36 L352.85,69.44 L353.20,69.13 L353.55,69.04 L353.90,68.83 L354.25,68.45 L354.60,68.27 L354.95,68.02 L355.30,67.97 L355.65,67.86 L356.00,67.89 L356.35,67.19 L356.70,67.09 L357.05,66.89 L357.40,66.96 L357.75,66.55 L358.10,66.42 L358.40,66.23 L358.80,66.00 L359.20,65.74 L359.50,65.83 L359.85,65.60 L360.20,65.26 L360.55,64.99 L360.90,64.38 L361.25,64.49 L361.60,63.88 L361.95,63.96 L362.00,63.85 L362.40,63.80 L362.80,64.09 L363.00,64.65 L363.35,65.66 L363.70,65.54 L364.05,66.42 L364.40,66.94 L364.75,67.09 L365.10,67.58 L365.45,67.69 L365.80,68.15 L366.15,68.29 L366.50,68.97 L366.85,69.17 L367.20,69.16 L367.55,69.36 L367.90,69.60 L368.25,70.13 L368.60,70.31 L368.95,70.13 L369.30,70.54 L369.65,70.91 L370.00,71.10 L370.35,70.79 L370.70,71.22 L371.05,71.01 L371.40,71.63 L371.75,71.94 L372.10,71.52 L372.38,71.69 L372.66,71.75 L372.94,71.78 L373.22,72.18 L373.50,72.05 L373.78,72.54 L374.06,72.10 L374.34,72.33 L374.62,72.47 L374.90,72.95 L375.18,73.02 L375.46,73.64 L375.74,73.31 L376.02,72.66 L376.30,72.93 L376.58,73.46 L376.86,73.81 L377.14,74.52 L377.42,73.10 L377.70,74.48 L377.98,74.00 L378.26,73.98 L378.54,76.51 L378.82,75.49 L379.10,74.41 L379.38,74.49 L379.66,73.65 L379.94,74.67 L380.22,73.90 L380.50,74.19 L380.78,73.50 L381.06,74.76 L381.34,76.11 L381.62,73.44 L381.90,75.87 L382.18,74.51 L382.46,73.18 L382.74,74.62 L383.02,73.71 L383.30,76.07 L383.58,77.63 L383.86,75.23 L384.14,75.03 L384.42,75.62 L384.70,76.81 L384.98,73.21 L385.26,76.83 L385.54,74.19 L385.82,73.41 L386.10,73.92 L386.38,74.12 L386.66,74.42 L386.94,76.00 L387.22,73.63 L387.50,76.48 L387.78,73.46 L388.06,76.88 L388.34,74.12 L388.62,76.93 L388.90,76.05 L389.18,76.48 L389.46,75.79 L389.74,74.42 L390.02,74.34 L390.30,76.32 L390.58,76.29 L390.86,73.80 L391.14,74.21 L391.42,75.12 L391.70,75.60 L391.98,76.17 L392.26,76.88 L392.54,74.95 L392.82,74.29 L393.10,76.60 L393.38,75.50 L393.66,74.96 L393.94,75.91 L394.22,76.47 L394.50,74.79 L394.78,76.28 L395.06,74.45 L395.34,74.90 L395.62,74.02 L395.90,75.38 L396.18,73.60 L396.46,75.61 L396.74,77.03 L397.02,74.60 L397.30,73.46 L397.58,75.23 L397.86,76.80 L398.14,75.13 L398.42,75.26 L398.70,75.61 L398.98,74.97 L399.26,76.49 L399.54,76.94 L399.82,76.96 L400.10,75.03 L400.38,77.14 L400.66,75.77 L400.94,74.25 L401.22,74.18 L401.50,77.08 L401.78,74.18 L402.06,76.83 L402.34,73.66 L402.62,75.03 L402.90,76.70 L403.18,75.44 L403.46,76.32 L403.74,74.18 L404.02,75.10 L404.30,74.85 L404.58,77.59 L404.86,76.77 L405.14,76.56 L405.42,78.70 L405.70,74.67 L405.98,76.63 L406.26,77.10 L406.54,76.79 L406.82,74.42 L407.10,74.01 L407.38,75.02 L407.66,74.16 L407.94,75.83 L408.22,76.62 L408.50,76.61 L408.78,75.40 L409.06,76.93 L409.34,74.07 L409.62,76.28 L409.90,76.03 L410.18,75.41 L410.46,76.21 L410.74,75.27 L411.02,75.02 L411.30,75.99 L411.58,76.95 L411.86,76.45 L412.14,74.17 L412.42,74.63 L412.70,76.23 L412.98,74.49 L413.26,76.06 L413.54,77.20 L413.82,74.80 L414.10,77.09 L414.38,75.87 L414.66,74.73 L414.94,73.86 L415.22,77.19 L415.50,76.49 L415.78,75.90 L416.06,77.26 L416.34,75.42 L416.62,76.42 L416.90,75.79 L417.18,76.37 L417.46,75.12 L417.74,75.77 L418.02,75.88 L418.30,74.69 L418.58,75.72 L418.86,76.21 L419.14,75.09 L419.42,74.67 L419.70,76.46 L419.98,76.92 L420.26,76.12 L420.54,77.48 L420.82,74.99 L421.10,77.16 L421.38,74.98 L421.66,74.93 L421.94,77.16 L422.22,76.40 L422.50,74.58 L422.78,74.74" fill="none" stroke="#ee7d56" stroke-width="1.15" stroke-linejoin="miter" stroke-miterlimit="2"/>
<path d="M372.00,71.46 L372.30,71.66 L372.60,71.72 L372.90,71.86 L373.20,72.17 L373.50,72.18 L373.80,72.36 L374.10,72.58 L374.40,72.41 L374.70,72.70 L375.00,72.52 L375.30,72.58 L375.60,73.56 L375.90,73.47 L376.20,73.51 L376.50,73.14 L376.80,73.35 L377.10,74.30 L377.40,74.56 L377.70,74.18 L378.00,74.75 L378.30,74.00 L378.60,74.88 L378.90,74.79 L379.20,73.93 L379.50,75.39 L379.80,73.62 L380.10,74.20 L380.40,74.75 L380.70,75.85 L381.00,74.55 L381.30,74.01 L381.60,75.62 L381.90,75.57 L382.20,74.14 L382.50,75.66 L382.80,74.87 L383.10,74.96 L383.40,76.35 L383.70,76.07 L384.00,76.46 L384.30,75.74 L384.60,74.91 L384.90,74.88 L385.20,74.27 L385.50,74.08 L385.80,75.27 L386.10,74.34 L386.40,75.47 L386.70,74.49 L387.00,75.27 L387.30,76.33 L387.60,75.18 L387.90,76.41 L388.20,74.76 L388.50,74.32 L388.80,75.85 L389.10,75.13 L389.40,75.76 L389.70,75.53 L390.00,75.15 L390.30,74.96 L390.60,74.58 L390.90,76.65 L391.20,74.56 L391.50,75.25 L391.80,76.40 L392.10,76.20 L392.40,76.65 L392.70,75.70 L393.00,74.80 L393.30,76.36 L393.60,74.23 L393.90,76.57 L394.20,75.26 L394.50,75.88 L394.80,76.45 L395.10,75.46 L395.40,76.27 L395.70,76.32 L396.00,75.45 L396.30,76.52 L396.60,74.76 L396.90,74.52 L397.20,75.99 L397.50,76.30 L397.80,75.21 L398.10,74.20 L398.40,75.27 L398.70,74.73 L399.00,74.32 L399.30,74.57 L399.60,75.74 L399.90,75.15 L400.20,76.26 L400.50,74.73 L400.80,75.76 L401.10,74.87 L401.40,74.91 L401.70,74.56 L402.00,76.14 L402.30,74.92 L402.60,75.95 L402.90,76.01 L403.20,75.65 L403.50,75.94 L403.80,76.00 L404.10,74.44 L404.40,76.24 L404.70,75.57 L405.00,76.36 L405.30,74.49 L405.60,74.35 L405.90,75.92 L406.20,75.02 L406.50,76.82 L406.80,75.02 L407.10,75.41 L407.40,75.13 L407.70,75.70 L408.00,74.78 L408.30,76.77 L408.60,74.95 L408.90,76.67 L409.20,76.84 L409.50,75.12 L409.80,76.40 L410.10,76.61 L410.40,74.32 L410.70,76.81 L411.00,75.25 L411.30,75.14 L411.60,76.37 L411.90,74.68 L412.20,74.31 L412.50,76.81 L412.80,74.29 L413.10,75.94 L413.40,75.76 L413.70,75.36 L414.00,76.44 L414.30,76.42 L414.60,74.31 L414.90,75.89 L415.20,76.53 L415.50,75.28 L415.80,74.58 L416.10,75.78 L416.40,74.30 L416.70,75.27 L417.00,75.58 L417.30,74.83 L417.60,75.81 L417.90,76.46 L418.20,75.51 L418.50,75.70 L418.80,74.76 L419.10,74.28 L419.40,75.51 L419.70,74.92 L420.00,75.94 L420.30,74.53 L420.60,75.46 L420.90,75.63 L421.20,76.34 L421.50,74.40 L421.80,76.63 L422.10,74.67 L422.40,76.70 L422.70,76.42" fill="none" stroke="#ee7d56" stroke-width="1.2"/>
<path d="M246.85,72.56 L247.20,70.10 L247.55,72.49 M256.55,69.52 L256.90,61.00 L257.25,69.70 M340.75,74.13 L341.10,67.80 L341.45,73.96 M358.45,66.50 L358.80,64.40 L359.15,66.08 M362.05,64.14 L362.40,59.30 L362.75,64.32 " fill="none" stroke="#ee7d56" stroke-width="0.85" stroke-linejoin="miter" stroke-miterlimit="10"/>
<path d="M244.00,98.04 L244.35,97.68 L244.70,97.90 L245.05,97.91 L245.40,97.68 L245.75,97.96 L246.10,97.57 L246.45,97.63 L246.80,97.48 L246.80,97.61 L247.20,97.55 L247.60,97.49 L247.85,97.66 L248.20,97.39 L248.55,97.40 L248.90,97.17 L249.25,97.59 L249.60,97.24 L249.95,97.25 L250.30,96.89 L250.65,96.76 L251.00,96.84 L251.35,96.79 L251.70,96.67 L252.05,96.63 L252.40,96.32 L252.75,96.29 L253.10,96.18 L253.45,95.82 L253.80,95.24 L254.15,95.14 L254.50,94.70 L254.85,94.30 L255.20,94.25 L255.55,93.92 L255.90,93.85 L256.25,93.67 L256.50,93.43 L256.90,93.42 L257.30,93.87 L257.65,94.80 L258.00,95.59 L258.35,96.17 L258.70,96.81 L259.05,97.31 L259.40,97.63 L259.75,97.60 L260.10,97.55 L260.45,97.92 L260.80,97.72 L261.15,98.01 L261.50,98.16 L261.85,97.82 L262.20,98.07 L262.55,97.87 L262.90,97.95 L263.25,98.13 L263.60,98.29 L263.95,98.24 L264.30,98.26 L264.65,98.41 L265.00,97.99 L265.35,98.04 L265.70,98.30 L266.05,98.27 L266.40,98.44 L266.75,98.44 L267.10,98.15 L267.45,98.13 L267.80,98.27 L268.15,98.50 L268.50,98.25 L268.85,98.22 L269.20,98.24 L269.55,98.48 L269.90,98.54 L270.25,98.50 L270.60,98.58 L270.95,98.19 L271.30,98.36 L271.65,98.21 L272.00,98.35 L272.35,98.18 L272.70,98.40 L273.05,98.29 L273.40,98.45 L273.75,98.44 L274.10,98.50 L274.45,98.54 L274.80,98.55 L275.15,98.26 L275.50,98.68 L275.85,98.26 L276.20,98.58 L276.55,98.62 L276.90,98.53 L277.25,98.56 L277.60,98.36 L277.95,98.39 L278.30,98.51 L278.65,98.64 L279.00,98.67 L279.35,98.67 L279.70,98.58 L280.05,98.74 L280.40,98.48 L280.75,98.67 L281.10,98.48 L281.45,98.76 L281.80,98.69 L282.15,98.46 L282.50,98.64 L282.85,98.48 L283.20,98.64 L283.55,98.71 L283.90,98.71 L284.25,98.77 L284.60,98.36 L284.95,98.42 L285.30,98.51 L285.65,98.78 L286.00,98.77 L286.35,98.70 L286.70,98.50 L287.05,98.68 L287.40,98.76 L287.75,98.35 L288.10,98.52 L288.45,98.37 L288.80,98.57 L289.15,98.56 L289.50,98.53 L289.85,98.73 L290.20,98.43 L290.55,98.50 L290.90,98.41 L291.25,98.38 L291.60,98.41 L291.95,98.32 L292.30,98.70 L292.65,98.33 L293.00,98.24 L293.35,98.27 L293.70,98.40 L294.05,98.39 L294.40,98.64 L294.75,98.48 L295.10,98.30 L295.45,98.26 L295.80,98.05 L296.15,98.04 L296.50,98.76 L296.85,98.05 L297.20,97.99 L297.55,98.12 L297.90,97.89 L298.25,98.23 L298.60,97.98 L298.95,98.12 L299.30,97.90 L299.65,97.81 L300.00,97.68 L300.35,97.89 L300.70,98.00 L301.05,97.90 L301.40,97.69 L301.75,97.49 L302.10,97.76 L302.45,97.61 L302.80,97.52 L303.15,97.30 L303.50,97.23 L303.85,97.11 L304.20,97.19 L304.55,96.84 L304.90,96.96 L305.25,96.74 L305.60,96.63 L305.95,96.48 L306.30,95.90 L306.65,95.86 L307.00,95.68 L307.35,95.17 L307.70,95.19 L308.05,95.22 L308.40,94.94 L308.75,94.94 L309.10,95.36 L309.45,95.22 L309.80,95.77 L310.15,95.75 L310.50,96.27 L310.85,96.41 L311.20,96.64 L311.55,96.97 L311.90,97.24 L312.25,98.03 L312.60,97.59 L312.95,97.14 L313.30,97.60 L313.65,98.05 L314.00,97.40 L314.35,97.98 L314.70,97.93 L315.05,98.75 L315.40,98.77 L315.75,97.93 L316.10,98.91 L316.45,100.34 L316.80,98.31 L317.15,100.92 L317.50,98.46 L317.85,99.00 L318.20,98.75 L318.55,98.22 L318.90,99.35 L319.25,98.48 L319.60,98.98 L319.95,98.75 L320.30,99.43 L320.65,98.74 L321.00,99.29 L321.35,99.41 L321.70,99.19 L322.05,98.70 L322.40,99.27 L322.75,99.16 L323.10,99.33 L323.45,100.37 L323.80,99.87 L324.15,100.42 L324.50,99.69 L324.85,98.89 L325.20,99.81 L325.55,98.87 L325.90,99.92 L326.25,99.30 L326.60,99.03 L326.95,99.47 L327.30,101.14 L327.65,98.91 L328.00,99.58 L328.35,99.26 L328.70,99.81 L329.05,99.33 L329.40,99.31 L329.75,99.55 L330.10,99.34 L330.45,99.87 L330.80,99.56 L331.15,101.44 L331.50,98.96 L331.85,98.75 L332.20,98.80 L332.55,100.55 L332.90,99.27 L333.25,99.70 L333.60,99.88 L333.95,99.25 L334.30,99.12 L334.65,99.48 L335.00,98.93 L335.35,99.05 L335.70,100.73 L336.05,99.38 L336.40,99.77 L336.75,100.07 L337.10,99.06 L337.45,99.86 L337.80,99.97 L338.15,100.79 L338.50,99.81 L338.85,99.81 L339.20,98.91 L339.55,99.48 L339.90,99.22 L340.25,99.88 L340.60,99.71 L340.70,99.19 L341.10,99.18 L341.50,99.17 L341.65,98.82 L342.00,99.26 L342.35,99.55 L342.70,99.22 L343.05,99.25 L343.40,99.03 L343.75,98.79 L344.10,98.83 L344.45,100.61 L344.80,99.45 L345.15,99.27 L345.50,98.65 L345.85,98.89 L346.20,98.85 L346.55,98.41 L346.90,98.43 L347.25,98.24 L347.60,98.32 L347.95,98.42 L348.30,98.00 L348.65,97.95 L349.00,97.94 L349.35,97.95 L349.70,98.13 L350.05,97.42 L350.40,97.26 L350.75,97.27 L351.10,96.74 L351.45,96.37 L351.80,96.34 L352.15,96.02 L352.50,96.23 L352.85,95.84 L353.20,96.10 L353.55,95.37 L353.90,95.31 L354.25,95.11 L354.60,94.88 L354.95,94.79 L355.30,94.70 L355.65,94.41 L356.00,93.76 L356.35,93.65 L356.70,93.66 L357.05,93.41 L357.40,92.98 L357.75,92.68 L358.10,92.23 L358.40,92.14 L358.80,91.90 L359.20,91.65 L359.50,91.47 L359.85,91.43 L360.20,91.18 L360.55,90.81 L360.90,90.41 L361.25,90.55 L361.60,90.04 L361.95,90.12 L362.00,90.04 L362.40,90.00 L362.80,90.27 L363.00,90.73 L363.35,91.22 L363.70,91.84 L364.05,92.22 L364.40,92.76 L364.75,93.10 L365.10,93.68 L365.45,93.73 L365.80,94.24 L366.15,94.41 L366.50,94.81 L366.85,95.06 L367.20,95.54 L367.55,95.76 L367.90,96.42 L368.25,96.10 L368.60,96.25 L368.95,96.39 L369.30,96.51 L369.65,96.63 L370.00,97.22 L370.35,97.12 L370.70,97.51 L371.05,97.88 L371.40,97.29 L371.75,97.79 L372.10,97.69 L372.38,97.78 L372.66,97.92 L372.94,98.00 L373.22,98.20 L373.50,98.17 L373.78,98.23 L374.06,98.54 L374.34,98.83 L374.62,98.95 L374.90,98.57 L375.18,99.14 L375.46,98.89 L375.74,99.66 L376.02,99.55 L376.30,99.64 L376.58,99.99 L376.86,99.45 L377.14,100.32 L377.42,99.45 L377.70,99.99 L377.98,100.16 L378.26,101.16 L378.54,101.23 L378.82,100.78 L379.10,101.37 L379.38,101.18 L379.66,101.73 L379.94,100.62 L380.22,101.37 L380.50,102.47 L380.78,99.97 L381.06,102.26 L381.34,101.92 L381.62,102.43 L381.90,101.40 L382.18,100.82 L382.46,102.54 L382.74,102.14 L383.02,102.53 L383.30,100.88 L383.58,99.90 L383.86,102.68 L384.14,100.58 L384.42,101.87 L384.70,102.67 L384.98,102.23 L385.26,101.15 L385.54,100.91 L385.82,100.85 L386.10,99.55 L386.38,102.19 L386.66,100.00 L386.94,100.50 L387.22,102.78 L387.50,103.57 L387.78,101.09 L388.06,101.94 L388.34,102.72 L388.62,101.49 L388.90,99.84 L389.18,102.20 L389.46,100.51 L389.74,102.36 L390.02,100.76 L390.30,102.04 L390.58,100.82 L390.86,102.85 L391.14,102.47 L391.42,102.12 L391.70,101.56 L391.98,102.95 L392.26,102.21 L392.54,102.59 L392.82,102.67 L393.10,100.06 L393.38,103.26 L393.66,102.12 L393.94,100.88 L394.22,101.70 L394.50,102.72 L394.78,101.67 L395.06,103.53 L395.34,102.08 L395.62,99.79 L395.90,101.20 L396.18,102.10 L396.46,102.56 L396.74,101.44 L397.02,103.03 L397.30,100.03 L397.58,102.39 L397.86,102.45 L398.14,102.01 L398.42,100.97 L398.70,101.83 L398.98,103.00 L399.26,101.90 L399.54,100.05 L399.82,101.72 L400.10,101.02 L400.38,100.41 L400.66,101.22 L400.94,100.66 L401.22,99.81 L401.50,101.93 L401.78,101.06 L402.06,102.65 L402.34,101.94 L402.62,101.25 L402.90,102.97 L403.18,102.03 L403.46,100.72 L403.74,102.01 L404.02,101.47 L404.30,100.65 L404.58,102.13 L404.86,102.94 L405.14,101.84 L405.42,100.10 L405.70,101.96 L405.98,101.15 L406.26,101.45 L406.54,99.76 L406.82,102.96 L407.10,100.40 L407.38,102.66 L407.66,102.19 L407.94,100.85 L408.22,101.98 L408.50,101.33 L408.78,102.70 L409.06,100.98 L409.34,101.37 L409.62,102.99 L409.90,100.59 L410.18,103.06 L410.46,101.72 L410.74,102.92 L411.02,103.17 L411.30,101.24 L411.58,102.34 L411.86,100.82 L412.14,103.16 L412.42,100.97 L412.70,102.35 L412.98,103.02 L413.26,101.01 L413.54,101.28 L413.82,101.71 L414.10,100.73 L414.38,101.83 L414.66,100.85 L414.94,101.50 L415.22,102.52 L415.50,101.78 L415.78,100.31 L416.06,101.39 L416.34,100.77 L416.62,102.48 L416.90,102.79 L417.18,102.50 L417.46,100.36 L417.74,102.29 L418.02,102.63 L418.30,102.80 L418.58,101.50 L418.86,100.91 L419.14,102.80 L419.42,102.30 L419.70,101.73 L419.98,100.02 L420.26,101.44 L420.54,100.75 L420.82,100.86 L421.10,101.22 L421.38,102.85 L421.66,102.29 L421.94,102.00 L422.22,102.28 L422.50,101.14 L422.78,101.42" fill="none" stroke="#f0906c" stroke-width="1.15" stroke-linejoin="miter" stroke-miterlimit="2"/>
<path d="M372.00,97.63 L372.30,97.80 L372.60,97.97 L372.90,98.11 L373.20,98.26 L373.50,98.22 L373.80,98.42 L374.10,98.44 L374.40,98.75 L374.70,98.85 L375.00,98.94 L375.30,99.52 L375.60,99.20 L375.90,99.74 L376.20,99.34 L376.50,99.34 L376.80,99.64 L377.10,99.77 L377.40,100.02 L377.70,99.56 L378.00,100.42 L378.30,101.02 L378.60,99.81 L378.90,101.03 L379.20,100.39 L379.50,99.99 L379.80,101.25 L380.10,101.72 L380.40,101.33 L380.70,101.57 L381.00,101.75 L381.30,101.78 L381.60,101.06 L381.90,101.16 L382.20,100.23 L382.50,101.84 L382.80,102.21 L383.10,102.33 L383.40,102.33 L383.70,101.17 L384.00,101.88 L384.30,101.01 L384.60,102.12 L384.90,100.56 L385.20,100.26 L385.50,100.59 L385.80,100.79 L386.10,100.56 L386.40,101.32 L386.70,101.92 L387.00,101.41 L387.30,102.34 L387.60,100.54 L387.90,100.20 L388.20,100.91 L388.50,101.84 L388.80,100.63 L389.10,100.25 L389.40,100.89 L389.70,102.34 L390.00,100.89 L390.30,100.63 L390.60,100.94 L390.90,101.44 L391.20,102.13 L391.50,101.83 L391.80,102.31 L392.10,101.32 L392.40,100.76 L392.70,100.72 L393.00,100.39 L393.30,101.71 L393.60,101.06 L393.90,101.13 L394.20,101.20 L394.50,100.40 L394.80,101.24 L395.10,100.67 L395.40,100.67 L395.70,102.44 L396.00,100.74 L396.30,101.97 L396.60,101.42 L396.90,101.15 L397.20,102.64 L397.50,101.56 L397.80,102.53 L398.10,100.86 L398.40,101.64 L398.70,100.92 L399.00,102.26 L399.30,100.51 L399.60,100.93 L399.90,102.62 L400.20,101.64 L400.50,101.47 L400.80,101.17 L401.10,102.70 L401.40,102.70 L401.70,101.55 L402.00,101.55 L402.30,100.70 L402.60,101.40 L402.90,100.84 L403.20,101.73 L403.50,101.30 L403.80,102.48 L404.10,102.01 L404.40,102.32 L404.70,102.07 L405.00,100.99 L405.30,101.57 L405.60,101.23 L405.90,101.48 L406.20,100.61 L406.50,102.47 L406.80,102.73 L407.10,102.67 L407.40,100.81 L407.70,100.56 L408.00,101.56 L408.30,102.47 L408.60,101.89 L408.90,101.97 L409.20,100.54 L409.50,100.53 L409.80,102.67 L410.10,101.58 L410.40,101.54 L410.70,101.56 L411.00,101.47 L411.30,101.42 L411.60,100.70 L411.90,101.14 L412.20,101.01 L412.50,100.71 L412.80,101.48 L413.10,102.04 L413.40,102.62 L413.70,102.26 L414.00,102.36 L414.30,101.20 L414.60,101.97 L414.90,100.80 L415.20,101.21 L415.50,101.21 L415.80,101.87 L416.10,102.82 L416.40,100.56 L416.70,100.94 L417.00,101.58 L417.30,102.20 L417.60,102.48 L417.90,101.01 L418.20,100.48 L418.50,102.70 L418.80,100.74 L419.10,101.49 L419.40,101.08 L419.70,100.81 L420.00,102.14 L420.30,101.68 L420.60,101.37 L420.90,101.30 L421.20,102.64 L421.50,102.54 L421.80,100.60 L422.10,102.48 L422.40,100.87 L422.70,101.03" fill="none" stroke="#f0906c" stroke-width="1.2"/>
<path d="M246.85,97.90 L247.20,94.90 L247.55,97.80 M256.55,93.72 L256.90,86.90 L257.25,94.09 M340.75,99.49 L341.10,93.20 L341.45,99.47 M358.45,92.41 L358.80,90.50 L359.15,91.98 M362.05,90.33 L362.40,85.40 L362.75,90.51 " fill="none" stroke="#f0906c" stroke-width="0.85" stroke-linejoin="miter" stroke-miterlimit="10"/>
<path d="M244.00,123.06 L244.35,123.08 L244.70,123.27 L245.05,123.09 L245.40,123.23 L245.75,122.95 L246.10,123.49 L246.45,122.89 L246.80,123.02 L246.80,122.78 L247.20,122.71 L247.60,122.64 L247.85,122.57 L248.20,122.80 L248.55,122.70 L248.90,122.37 L249.25,122.56 L249.60,122.26 L249.95,122.11 L250.30,122.28 L250.65,121.78 L251.00,121.78 L251.35,121.67 L251.70,121.75 L252.05,121.71 L252.40,121.41 L252.75,121.03 L253.10,120.91 L253.45,120.61 L253.80,120.31 L254.15,119.98 L254.50,119.74 L254.85,119.28 L255.20,118.99 L255.55,118.79 L255.90,118.47 L256.25,117.99 L256.50,118.03 L256.90,118.02 L257.30,118.55 L257.65,119.64 L258.00,120.88 L258.35,121.31 L258.70,121.99 L259.05,122.64 L259.40,122.77 L259.75,122.54 L260.10,122.88 L260.45,123.14 L260.80,122.97 L261.15,123.02 L261.50,123.04 L261.85,123.40 L262.20,123.39 L262.55,123.25 L262.90,123.40 L263.25,123.18 L263.60,123.27 L263.95,123.54 L264.30,123.31 L264.65,123.49 L265.00,123.54 L265.35,123.50 L265.70,123.19 L266.05,123.29 L266.40,123.28 L266.75,123.28 L267.10,123.34 L267.45,123.41 L267.80,123.54 L268.15,123.23 L268.50,123.52 L268.85,123.32 L269.20,123.50 L269.55,123.47 L269.90,123.56 L270.25,123.56 L270.60,123.46 L270.95,123.66 L271.30,123.30 L271.65,123.61 L272.00,123.36 L272.35,123.61 L272.70,123.67 L273.05,123.65 L273.40,123.57 L273.75,123.59 L274.10,123.36 L274.45,123.57 L274.80,123.49 L275.15,123.73 L275.50,123.59 L275.85,123.41 L276.20,123.38 L276.55,123.34 L276.90,123.35 L277.25,123.62 L277.60,123.45 L277.95,123.56 L278.30,123.46 L278.65,123.54 L279.00,123.40 L279.35,123.64 L279.70,123.57 L280.05,123.35 L280.40,123.62 L280.75,123.54 L281.10,123.99 L281.45,123.37 L281.80,123.41 L282.15,123.59 L282.50,123.64 L282.85,123.56 L283.20,123.72 L283.55,123.56 L283.90,123.73 L284.25,123.42 L284.60,123.38 L284.95,123.75 L285.30,123.60 L285.65,123.60 L286.00,123.54 L286.35,123.54 L286.70,123.58 L287.05,123.48 L287.40,123.72 L287.75,124.33 L288.10,123.65 L288.45,123.46 L288.80,122.87 L289.15,122.35 L289.50,122.02 L289.85,121.93 L290.20,122.18 L290.55,122.71 L290.90,123.39 L291.25,123.77 L291.60,123.50 L291.95,123.59 L292.30,123.47 L292.65,123.87 L293.00,123.60 L293.35,123.75 L293.70,123.73 L294.05,123.76 L294.40,123.37 L294.75,123.36 L295.10,123.47 L295.45,123.44 L295.80,123.58 L296.15,123.57 L296.50,123.31 L296.85,123.35 L297.20,123.47 L297.55,123.19 L297.90,123.42 L298.25,123.07 L298.60,123.26 L298.95,123.07 L299.30,123.13 L299.65,122.94 L300.00,122.99 L300.35,122.96 L300.70,122.78 L301.05,122.71 L301.40,123.03 L301.75,122.72 L302.10,122.40 L302.45,122.59 L302.80,122.36 L303.15,122.25 L303.50,122.04 L303.85,122.15 L304.20,121.69 L304.55,121.70 L304.90,121.50 L305.25,121.27 L305.60,121.19 L305.95,121.19 L306.30,120.79 L306.65,120.41 L307.00,120.27 L307.35,119.75 L307.70,119.81 L308.05,119.65 L308.40,119.79 L308.75,119.92 L309.10,119.77 L309.45,119.74 L309.80,120.25 L310.15,120.29 L310.50,120.39 L310.85,120.69 L311.20,121.15 L311.55,121.17 L311.90,121.16 L312.25,121.34 L312.60,122.81 L312.95,121.63 L313.30,122.62 L313.65,122.57 L314.00,122.21 L314.35,122.50 L314.70,123.02 L315.05,122.54 L315.40,122.74 L315.75,122.75 L316.10,123.93 L316.45,123.10 L316.80,124.10 L317.15,123.41 L317.50,123.32 L317.85,123.82 L318.20,123.74 L318.55,126.08 L318.90,124.11 L319.25,123.86 L319.60,124.68 L319.95,124.43 L320.30,124.26 L320.65,124.51 L321.00,124.24 L321.35,124.54 L321.70,124.68 L322.05,125.18 L322.40,125.99 L322.75,124.59 L323.10,125.01 L323.45,125.26 L323.80,126.01 L324.15,125.44 L324.50,125.54 L324.85,125.62 L325.20,124.57 L325.55,125.40 L325.90,124.99 L326.25,124.74 L326.60,125.21 L326.95,125.29 L327.30,125.33 L327.65,124.66 L328.00,124.82 L328.35,124.80 L328.70,124.82 L329.05,125.21 L329.40,124.40 L329.75,125.54 L330.10,124.85 L330.45,124.35 L330.80,124.49 L331.15,125.01 L331.50,124.91 L331.85,125.02 L332.20,124.97 L332.55,125.20 L332.90,126.89 L333.25,124.55 L333.60,124.72 L333.95,126.62 L334.30,124.35 L334.65,124.36 L335.00,124.92 L335.35,124.83 L335.70,124.79 L336.05,124.49 L336.40,125.15 L336.75,124.89 L337.10,124.56 L337.45,124.95 L337.80,124.45 L338.15,125.13 L338.50,124.67 L338.85,125.46 L339.20,125.02 L339.55,124.78 L339.90,124.88 L340.25,125.39 L340.60,124.90 L340.70,124.72 L341.10,124.62 L341.50,124.48 L341.65,125.00 L342.00,124.37 L342.35,123.99 L342.70,124.63 L343.05,123.97 L343.40,123.38 L343.75,123.31 L344.10,123.65 L344.45,123.21 L344.80,123.52 L345.15,123.15 L345.50,122.77 L345.85,122.50 L346.20,122.27 L346.55,122.28 L346.90,122.09 L347.25,121.98 L347.60,121.76 L347.95,122.44 L348.30,121.48 L348.65,121.41 L349.00,120.94 L349.35,121.09 L349.70,120.74 L350.05,120.60 L350.40,120.37 L350.75,120.27 L351.10,119.85 L351.45,119.78 L351.80,120.04 L352.15,119.88 L352.50,119.29 L352.85,119.06 L353.20,119.13 L353.55,119.11 L353.90,118.45 L354.25,118.44 L354.60,118.46 L354.95,117.87 L355.30,117.92 L355.65,117.39 L356.00,117.63 L356.35,117.00 L356.70,117.01 L357.05,116.66 L357.40,116.55 L357.75,116.37 L358.10,116.03 L358.45,115.75 L358.80,115.97 L359.15,115.30 L359.50,115.04 L359.85,115.55 L360.20,115.05 L360.55,114.25 L360.90,114.30 L361.25,113.80 L361.60,113.68 L361.95,113.92 L362.00,113.65 L362.40,113.60 L362.80,113.89 L363.00,114.35 L363.35,115.06 L363.70,115.92 L364.05,115.91 L364.40,116.78 L364.75,116.60 L365.10,117.37 L365.45,117.46 L365.80,117.83 L366.15,117.97 L366.50,118.53 L366.85,118.71 L367.20,118.74 L367.55,118.99 L367.90,119.70 L368.25,119.82 L368.60,119.71 L368.95,120.14 L369.30,120.41 L369.65,120.40 L370.00,120.74 L370.35,120.57 L370.70,121.12 L371.05,120.87 L371.40,121.35 L371.75,122.12 L372.10,121.39 L372.38,121.60 L372.66,121.58 L372.94,121.68 L373.22,122.11 L373.50,121.97 L373.78,122.43 L374.06,122.07 L374.34,122.63 L374.62,122.97 L374.90,122.82 L375.18,123.01 L375.46,123.57 L375.74,122.75 L376.02,122.95 L376.30,123.54 L376.58,123.45 L376.86,123.54 L377.14,123.87 L377.42,123.43 L377.70,124.49 L377.98,124.55 L378.26,123.76 L378.54,124.70 L378.82,124.67 L379.10,123.88 L379.38,124.94 L379.66,124.18 L379.94,123.72 L380.22,124.72 L380.50,125.75 L380.78,125.90 L381.06,123.92 L381.34,124.67 L381.62,124.34 L381.90,126.71 L382.18,125.80 L382.46,124.76 L382.74,125.40 L383.02,124.29 L383.30,125.60 L383.58,125.97 L383.86,125.22 L384.14,126.73 L384.42,125.24 L384.70,125.49 L384.98,126.15 L385.26,126.34 L385.54,124.45 L385.82,126.08 L386.10,124.90 L386.38,124.19 L386.66,123.91 L386.94,125.05 L387.22,124.16 L387.50,123.96 L387.78,125.33 L388.06,125.40 L388.34,125.63 L388.62,125.82 L388.90,124.10 L389.18,125.58 L389.46,125.11 L389.74,124.47 L390.02,125.58 L390.30,126.54 L390.58,126.36 L390.86,126.33 L391.14,124.65 L391.42,124.60 L391.70,125.63 L391.98,125.46 L392.26,124.67 L392.54,125.01 L392.82,126.56 L393.10,126.11 L393.38,124.55 L393.66,125.41 L393.94,126.45 L394.22,125.84 L394.50,125.13 L394.78,126.89 L395.06,126.41 L395.34,126.45 L395.62,126.21 L395.90,124.97 L396.18,126.00 L396.46,125.52 L396.74,126.93 L397.02,125.29 L397.30,126.47 L397.58,126.68 L397.86,125.90 L398.14,125.74 L398.42,125.08 L398.70,124.81 L398.98,124.43 L399.26,125.03 L399.54,124.18 L399.82,125.25 L400.10,126.54 L400.38,125.73 L400.66,124.25 L400.94,125.68 L401.22,125.51 L401.50,125.64 L401.78,124.33 L402.06,125.41 L402.34,126.38 L402.62,127.16 L402.90,126.66 L403.18,126.82 L403.46,124.40 L403.74,124.97 L404.02,124.04 L404.30,125.61 L404.58,125.31 L404.86,124.37 L405.14,125.08 L405.42,127.09 L405.70,126.77 L405.98,125.42 L406.26,126.59 L406.54,126.45 L406.82,126.33 L407.10,127.12 L407.38,124.83 L407.66,124.97 L407.94,126.52 L408.22,126.36 L408.50,126.80 L408.78,126.86 L409.06,126.72 L409.34,124.48 L409.62,124.32 L409.90,124.93 L410.18,125.52 L410.46,125.20 L410.74,126.95 L411.02,124.57 L411.30,124.66 L411.58,125.40 L411.86,126.14 L412.14,125.94 L412.42,125.67 L412.70,125.95 L412.98,127.21 L413.26,125.19 L413.54,125.32 L413.82,124.51 L414.10,124.71 L414.38,125.25 L414.66,127.03 L414.94,126.26 L415.22,126.93 L415.50,127.10 L415.78,124.32 L416.06,123.99 L416.34,125.24 L416.62,126.31 L416.90,125.46 L417.18,127.17 L417.46,126.80 L417.74,126.56 L418.02,125.86 L418.30,126.03 L418.58,124.32 L418.86,125.88 L419.14,124.49 L419.42,126.57 L419.70,124.09 L419.98,127.24 L420.26,127.20 L420.54,126.53 L420.82,125.60 L421.10,126.47 L421.38,126.40 L421.66,125.85 L421.94,126.38 L422.22,124.23 L422.50,126.75 L422.78,126.33" fill="none" stroke="#f2a88c" stroke-width="1.15" stroke-linejoin="miter" stroke-miterlimit="2"/>
<path d="M372.00,121.32 L372.30,121.49 L372.60,121.60 L372.90,121.83 L373.20,121.90 L373.50,121.98 L373.80,122.30 L374.10,122.26 L374.40,122.61 L374.70,122.69 L375.00,123.03 L375.30,122.81 L375.60,123.46 L375.90,123.34 L376.20,123.74 L376.50,123.77 L376.80,123.31 L377.10,123.54 L377.40,123.78 L377.70,124.03 L378.00,124.02 L378.30,124.73 L378.60,124.78 L378.90,123.77 L379.20,125.35 L379.50,125.13 L379.80,124.93 L380.10,125.51 L380.40,124.00 L380.70,125.10 L381.00,125.59 L381.30,125.98 L381.60,124.74 L381.90,126.29 L382.20,125.58 L382.50,126.42 L382.80,125.42 L383.10,126.25 L383.40,125.50 L383.70,125.34 L384.00,126.17 L384.30,125.79 L384.60,125.48 L384.90,125.37 L385.20,125.31 L385.50,125.02 L385.80,125.18 L386.10,125.81 L386.40,124.48 L386.70,126.16 L387.00,126.13 L387.30,124.75 L387.60,125.91 L387.90,125.68 L388.20,125.66 L388.50,124.44 L388.80,126.61 L389.10,124.83 L389.40,126.35 L389.70,126.62 L390.00,126.17 L390.30,125.22 L390.60,124.47 L390.90,124.48 L391.20,126.13 L391.50,126.40 L391.80,126.42 L392.10,126.12 L392.40,125.04 L392.70,126.42 L393.00,125.74 L393.30,126.02 L393.60,124.66 L393.90,126.39 L394.20,125.23 L394.50,125.51 L394.80,126.13 L395.10,125.41 L395.40,126.08 L395.70,126.52 L396.00,126.62 L396.30,124.53 L396.60,126.20 L396.90,126.74 L397.20,126.48 L397.50,126.03 L397.80,124.91 L398.10,124.68 L398.40,125.88 L398.70,126.23 L399.00,125.92 L399.30,124.57 L399.60,124.96 L399.90,126.49 L400.20,124.67 L400.50,125.45 L400.80,125.16 L401.10,125.51 L401.40,126.67 L401.70,126.60 L402.00,125.59 L402.30,124.71 L402.60,125.04 L402.90,124.63 L403.20,125.51 L403.50,126.50 L403.80,125.58 L404.10,124.98 L404.40,125.02 L404.70,124.79 L405.00,126.19 L405.30,125.42 L405.60,126.72 L405.90,126.16 L406.20,125.82 L406.50,125.88 L406.80,124.62 L407.10,125.24 L407.40,125.43 L407.70,124.67 L408.00,126.90 L408.30,125.59 L408.60,125.46 L408.90,126.17 L409.20,126.51 L409.50,125.69 L409.80,126.27 L410.10,126.34 L410.40,124.88 L410.70,126.32 L411.00,126.39 L411.30,126.66 L411.60,125.11 L411.90,125.42 L412.20,125.63 L412.50,126.26 L412.80,126.43 L413.10,124.77 L413.40,124.86 L413.70,125.36 L414.00,126.83 L414.30,126.51 L414.60,125.48 L414.90,124.84 L415.20,125.35 L415.50,125.67 L415.80,125.03 L416.10,125.97 L416.40,125.88 L416.70,125.11 L417.00,126.89 L417.30,125.41 L417.60,126.03 L417.90,126.00 L418.20,125.60 L418.50,126.96 L418.80,126.17 L419.10,125.53 L419.40,125.97 L419.70,125.53 L420.00,125.31 L420.30,125.48 L420.60,126.59 L420.90,124.98 L421.20,125.90 L421.50,125.35 L421.80,126.65 L422.10,124.88 L422.40,125.79 L422.70,125.47" fill="none" stroke="#f2a88c" stroke-width="1.2"/>
<path d="M246.85,123.07 L247.20,120.10 L247.55,122.95 M256.55,118.32 L256.90,111.00 L257.25,118.75 M340.75,125.01 L341.10,116.10 L341.45,124.80 M362.05,113.94 L362.40,109.30 L362.75,114.13 " fill="none" stroke="#f2a88c" stroke-width="0.85" stroke-linejoin="miter" stroke-miterlimit="10"/>
<path d="M244.00,147.72 L244.35,147.84 L244.70,147.97 L245.05,147.55 L245.40,147.77 L245.75,147.57 L246.10,147.64 L246.45,147.61 L246.80,147.67 L246.80,147.56 L247.20,147.52 L247.60,147.48 L247.85,147.48 L248.20,147.36 L248.55,147.37 L248.90,147.16 L249.25,147.42 L249.60,147.40 L249.95,147.41 L250.30,147.77 L250.65,146.93 L251.00,146.84 L251.35,146.98 L251.70,146.97 L252.05,146.94 L252.40,146.57 L252.75,147.16 L253.10,146.56 L253.45,146.38 L253.80,146.40 L254.15,146.16 L254.50,145.69 L254.85,145.41 L255.20,145.48 L255.55,145.16 L255.90,145.28 L256.25,145.21 L256.50,144.92 L256.90,144.92 L257.30,145.24 L257.65,145.83 L258.00,146.63 L258.35,147.13 L258.70,147.70 L259.05,148.26 L259.40,147.76 L259.75,148.07 L260.10,148.04 L260.45,148.34 L260.80,148.18 L261.15,148.48 L261.50,148.79 L261.85,148.20 L262.20,148.57 L262.55,148.61 L262.90,148.71 L263.25,148.86 L263.60,148.71 L263.95,148.58 L264.30,148.64 L264.65,148.73 L265.00,148.69 L265.35,148.60 L265.70,148.71 L266.05,148.50 L266.40,148.81 L266.75,148.55 L267.10,148.51 L267.45,148.46 L267.80,148.78 L268.15,148.61 L268.50,148.71 L268.85,148.49 L269.20,148.54 L269.55,149.35 L269.90,148.73 L270.25,148.70 L270.60,148.76 L270.95,148.82 L271.30,148.74 L271.65,148.85 L272.00,148.64 L272.35,148.66 L272.70,148.67 L273.05,148.77 L273.40,148.60 L273.75,148.96 L274.10,149.00 L274.45,148.73 L274.80,148.89 L275.15,148.97 L275.50,149.03 L275.85,148.81 L276.20,148.98 L276.55,148.78 L276.90,148.68 L277.25,148.93 L277.60,148.94 L277.95,149.06 L278.30,148.67 L278.65,149.06 L279.00,148.96 L279.35,148.99 L279.70,148.86 L280.05,148.79 L280.40,148.69 L280.75,148.76 L281.10,148.67 L281.45,148.68 L281.80,148.97 L282.15,148.94 L282.50,149.04 L282.85,149.09 L283.20,149.09 L283.55,149.10 L283.90,148.76 L284.25,149.00 L284.60,148.99 L284.95,148.76 L285.30,149.08 L285.65,148.80 L286.00,148.97 L286.35,148.97 L286.70,148.85 L287.05,149.12 L287.40,148.96 L287.75,149.09 L288.10,149.11 L288.45,149.05 L288.80,148.87 L289.15,149.10 L289.50,149.14 L289.85,148.88 L290.20,148.75 L290.55,148.87 L290.90,148.86 L291.25,149.15 L291.60,149.02 L291.95,148.94 L292.30,149.01 L292.65,148.73 L293.00,148.74 L293.35,148.90 L293.70,149.33 L294.05,148.83 L294.40,148.82 L294.75,148.83 L295.10,149.07 L295.45,149.13 L295.80,148.98 L296.15,149.15 L296.50,148.75 L296.85,148.75 L297.20,149.15 L297.55,148.93 L297.90,149.06 L298.25,149.19 L298.60,149.14 L298.95,149.19 L299.30,149.09 L299.65,148.74 L300.00,148.80 L300.35,148.87 L300.70,148.73 L301.05,148.65 L301.40,148.60 L301.75,148.68 L302.10,148.65 L302.45,148.46 L302.80,148.43 L303.15,148.35 L303.50,148.10 L303.85,147.90 L304.20,147.86 L304.55,147.83 L304.90,147.75 L305.25,147.51 L305.60,147.39 L305.95,147.16 L306.30,146.72 L306.65,146.47 L307.00,145.92 L307.35,145.70 L307.70,145.67 L308.10,145.60 L308.50,145.63 L308.75,145.96 L309.10,145.68 L309.45,145.91 L309.80,146.23 L310.15,146.44 L310.50,146.52 L310.85,146.75 L311.20,146.73 L311.55,146.81 L311.90,147.07 L312.25,147.38 L312.60,147.59 L312.95,148.01 L313.30,149.45 L313.65,148.22 L314.00,149.15 L314.35,149.30 L314.70,149.49 L315.05,148.45 L315.40,149.41 L315.75,148.67 L316.10,148.74 L316.45,149.38 L316.80,149.55 L317.15,151.18 L317.50,150.17 L317.85,149.67 L318.20,149.57 L318.55,149.84 L318.90,151.36 L319.25,149.87 L319.60,150.41 L319.95,150.19 L320.30,150.19 L320.65,149.41 L321.00,150.14 L321.35,151.74 L321.70,149.47 L322.05,149.57 L322.40,149.84 L322.75,149.64 L323.10,149.69 L323.45,150.41 L323.80,150.84 L324.15,150.11 L324.50,150.20 L324.85,150.33 L325.20,150.33 L325.55,151.19 L325.90,149.77 L326.25,150.23 L326.60,149.87 L326.95,150.56 L327.30,149.67 L327.65,150.56 L328.00,150.30 L328.35,150.61 L328.70,150.65 L329.05,150.59 L329.40,150.21 L329.75,150.07 L330.10,150.28 L330.45,150.18 L330.80,150.10 L331.15,150.42 L331.50,150.43 L331.85,150.37 L332.20,149.77 L332.55,149.66 L332.90,151.22 L333.25,151.08 L333.60,150.94 L333.95,149.81 L334.30,150.07 L334.65,149.85 L335.00,150.55 L335.35,149.75 L335.70,149.53 L336.05,150.38 L336.40,151.87 L336.75,149.62 L337.10,149.65 L337.45,152.53 L337.80,149.70 L338.15,150.87 L338.50,150.58 L338.85,149.92 L339.20,150.36 L339.55,150.05 L339.90,149.88 L340.25,149.47 L340.60,151.10 L340.95,149.71 L341.00,149.84 L341.40,149.78 L341.80,149.71 L342.00,150.49 L342.35,150.09 L342.70,149.89 L343.05,149.46 L343.40,149.56 L343.75,149.04 L344.10,149.09 L344.45,149.53 L344.80,148.84 L345.15,148.84 L345.50,148.68 L345.85,148.73 L346.20,148.58 L346.55,148.39 L346.90,148.57 L347.25,148.60 L347.60,148.40 L347.95,147.98 L348.30,148.05 L348.65,147.92 L349.00,148.18 L349.35,147.30 L349.70,147.67 L350.05,147.08 L350.40,146.99 L350.75,147.22 L351.10,147.39 L351.45,146.78 L351.80,147.26 L352.15,146.24 L352.40,146.10 L352.80,145.90 L353.20,145.69 L353.20,146.23 L353.55,145.57 L353.90,145.20 L354.25,145.14 L354.60,145.04 L354.95,144.47 L355.30,144.64 L355.65,144.35 L356.00,143.86 L356.35,143.78 L356.70,143.10 L357.05,143.09 L357.40,142.88 L357.75,142.76 L358.10,142.53 L358.40,142.14 L358.80,141.90 L359.20,141.65 L359.50,141.36 L359.85,141.53 L360.20,141.09 L360.55,141.08 L360.90,140.30 L361.25,140.58 L361.60,140.08 L361.95,139.93 L362.00,140.04 L362.40,140.00 L362.80,140.37 L363.00,140.79 L363.35,141.39 L363.70,142.70 L364.05,143.30 L364.40,143.87 L364.75,143.74 L365.10,143.89 L365.45,145.01 L365.80,144.86 L366.15,144.95 L366.50,144.89 L366.85,145.54 L367.20,145.38 L367.55,145.46 L367.90,146.20 L368.25,146.14 L368.60,146.29 L368.95,146.52 L369.30,146.90 L369.65,146.76 L370.00,146.67 L370.35,147.19 L370.70,146.99 L371.05,147.19 L371.40,147.40 L371.75,147.47 L372.10,147.64 L372.38,147.79 L372.66,147.89 L372.94,147.91 L373.22,148.16 L373.50,148.30 L373.78,148.28 L374.06,148.59 L374.34,148.63 L374.62,148.87 L374.90,148.75 L375.18,149.03 L375.46,148.72 L375.74,149.31 L376.02,148.87 L376.30,149.46 L376.58,149.53 L376.86,150.02 L377.14,150.22 L377.42,149.79 L377.70,149.73 L377.98,150.11 L378.26,149.69 L378.54,150.78 L378.82,150.29 L379.10,150.37 L379.38,150.28 L379.66,151.10 L379.94,149.58 L380.22,149.94 L380.50,151.36 L380.78,150.44 L381.06,150.70 L381.34,151.42 L381.62,150.08 L381.90,149.55 L382.18,150.84 L382.46,150.85 L382.74,149.94 L383.02,150.52 L383.30,150.72 L383.58,150.32 L383.86,151.77 L384.14,149.69 L384.42,150.18 L384.70,151.48 L384.98,151.37 L385.26,151.36 L385.54,151.33 L385.82,151.12 L386.10,150.82 L386.38,150.30 L386.66,151.22 L386.94,151.11 L387.22,151.89 L387.50,151.13 L387.78,151.78 L388.06,151.79 L388.34,150.26 L388.62,151.43 L388.90,151.30 L389.18,150.30 L389.46,151.76 L389.74,150.89 L390.02,150.92 L390.30,150.00 L390.58,151.14 L390.86,149.73 L391.14,151.91 L391.42,151.31 L391.70,150.39 L391.98,149.86 L392.26,151.38 L392.54,150.21 L392.82,152.09 L393.10,151.75 L393.38,150.01 L393.66,151.05 L393.94,151.31 L394.22,150.66 L394.50,151.31 L394.78,150.64 L395.06,152.09 L395.34,150.34 L395.62,151.37 L395.90,152.18 L396.18,150.95 L396.46,150.38 L396.74,152.19 L397.02,150.59 L397.30,150.34 L397.58,150.13 L397.86,151.61 L398.14,151.25 L398.42,152.19 L398.70,150.08 L398.98,150.32 L399.26,152.01 L399.54,151.17 L399.82,150.59 L400.10,151.29 L400.38,151.16 L400.66,150.74 L400.94,151.28 L401.22,152.08 L401.50,151.33 L401.78,151.30 L402.06,151.53 L402.34,151.37 L402.62,152.28 L402.90,152.08 L403.18,151.72 L403.46,150.49 L403.74,151.27 L404.02,150.69 L404.30,151.32 L404.58,151.08 L404.86,152.03 L405.14,150.72 L405.42,150.36 L405.70,152.05 L405.98,151.93 L406.26,150.62 L406.54,150.49 L406.82,152.08 L407.10,151.26 L407.38,150.53 L407.66,151.11 L407.94,152.26 L408.22,152.13 L408.50,151.55 L408.78,151.86 L409.06,152.55 L409.34,152.25 L409.62,151.11 L409.90,150.61 L410.18,152.12 L410.46,151.25 L410.74,151.44 L411.02,151.95 L411.30,151.56 L411.58,152.21 L411.86,150.47 L412.14,151.78 L412.42,151.63 L412.70,151.66 L412.98,153.31 L413.26,152.25 L413.54,151.14 L413.82,151.59 L414.10,150.29 L414.38,152.05 L414.66,152.25 L414.94,152.09 L415.22,151.83 L415.50,150.35 L415.78,152.11 L416.06,151.02 L416.34,152.39 L416.62,151.17 L416.90,150.29 L417.18,151.65 L417.46,152.14 L417.74,150.96 L418.02,152.32 L418.30,151.75 L418.58,150.65 L418.86,150.97 L419.14,152.23 L419.42,150.35 L419.70,151.26 L419.98,150.65 L420.26,151.24 L420.54,150.91 L420.82,150.29 L421.10,150.46 L421.38,151.12 L421.66,151.74 L421.94,150.81 L422.22,151.83 L422.50,151.63 L422.78,150.92" fill="none" stroke="#f5c4b2" stroke-width="1.15" stroke-linejoin="miter" stroke-miterlimit="2"/>
<path d="M372.00,147.60 L372.30,147.73 L372.60,147.92 L372.90,147.95 L373.20,148.14 L373.50,148.34 L373.80,148.24 L374.10,148.47 L374.40,148.70 L374.70,148.71 L375.00,149.06 L375.30,148.76 L375.60,149.31 L375.90,149.17 L376.20,149.57 L376.50,149.40 L376.80,149.47 L377.10,149.29 L377.40,149.48 L377.70,150.05 L378.00,149.68 L378.30,149.73 L378.60,150.40 L378.90,150.55 L379.20,149.96 L379.50,150.22 L379.80,150.68 L380.10,150.28 L380.40,150.66 L380.70,150.05 L381.00,150.87 L381.30,151.36 L381.60,151.21 L381.90,150.36 L382.20,150.37 L382.50,151.30 L382.80,151.42 L383.10,150.10 L383.40,151.63 L383.70,150.34 L384.00,150.74 L384.30,151.29 L384.60,151.47 L384.90,150.57 L385.20,151.62 L385.50,150.77 L385.80,150.20 L386.10,150.37 L386.40,151.68 L386.70,150.47 L387.00,150.68 L387.30,151.48 L387.60,151.06 L387.90,151.72 L388.20,151.48 L388.50,150.40 L388.80,150.89 L389.10,151.44 L389.40,151.41 L389.70,151.80 L390.00,150.21 L390.30,150.59 L390.60,150.69 L390.90,150.35 L391.20,151.69 L391.50,150.53 L391.80,150.98 L392.10,150.58 L392.40,150.26 L392.70,151.53 L393.00,151.63 L393.30,151.01 L393.60,150.99 L393.90,151.32 L394.20,150.97 L394.50,150.89 L394.80,151.85 L395.10,150.41 L395.40,151.75 L395.70,151.38 L396.00,150.94 L396.30,150.46 L396.60,151.71 L396.90,151.58 L397.20,150.89 L397.50,150.97 L397.80,151.13 L398.10,151.88 L398.40,151.40 L398.70,151.70 L399.00,150.56 L399.30,150.68 L399.60,151.57 L399.90,150.36 L400.20,152.01 L400.50,151.55 L400.80,151.89 L401.10,151.17 L401.40,150.94 L401.70,151.84 L402.00,150.52 L402.30,150.72 L402.60,151.54 L402.90,151.42 L403.20,151.30 L403.50,151.75 L403.80,150.81 L404.10,151.58 L404.40,150.55 L404.70,151.71 L405.00,152.01 L405.30,151.10 L405.60,151.83 L405.90,151.34 L406.20,150.67 L406.50,151.18 L406.80,150.80 L407.10,150.94 L407.40,151.35 L407.70,151.67 L408.00,150.64 L408.30,151.34 L408.60,151.09 L408.90,151.64 L409.20,151.82 L409.50,152.11 L409.80,151.87 L410.10,150.50 L410.40,151.64 L410.70,150.50 L411.00,152.04 L411.30,151.06 L411.60,150.52 L411.90,151.23 L412.20,151.67 L412.50,151.22 L412.80,151.30 L413.10,151.37 L413.40,151.14 L413.70,151.72 L414.00,150.89 L414.30,150.60 L414.60,152.04 L414.90,151.78 L415.20,151.00 L415.50,151.57 L415.80,150.56 L416.10,151.54 L416.40,151.01 L416.70,150.83 L417.00,151.19 L417.30,150.87 L417.60,150.95 L417.90,150.48 L418.20,150.83 L418.50,151.16 L418.80,150.98 L419.10,151.16 L419.40,151.30 L419.70,151.48 L420.00,151.78 L420.30,150.51 L420.60,151.23 L420.90,152.03 L421.20,151.20 L421.50,151.82 L421.80,150.85 L422.10,151.09 L422.40,151.21 L422.70,152.08" fill="none" stroke="#f5c4b2" stroke-width="1.2"/>
<path d="M246.85,147.86 L247.20,145.90 L247.55,147.79 M256.55,145.21 L256.90,137.30 L257.25,145.48 M307.75,145.95 L308.10,144.70 L308.45,145.92 M341.05,150.13 L341.40,142.90 L341.75,150.02 M352.45,146.37 L352.80,145.30 L353.15,146.02 M358.45,142.41 L358.80,139.90 L359.15,141.98 M362.05,140.33 L362.40,135.80 L362.75,140.59 " fill="none" stroke="#f5c4b2" stroke-width="0.85" stroke-linejoin="miter" stroke-miterlimit="10"/>
<path d="M244.00,173.24 L244.35,173.19 L244.70,172.95 L245.05,173.27 L245.40,172.94 L245.75,172.94 L246.10,172.94 L246.45,172.99 L246.80,172.93 L246.80,173.03 L247.20,173.00 L247.60,172.98 L247.85,172.93 L248.20,173.53 L248.55,172.89 L248.90,173.04 L249.25,173.08 L249.60,172.90 L249.95,172.92 L250.30,172.94 L250.65,172.82 L251.00,172.92 L251.35,172.80 L251.70,172.74 L252.05,172.34 L252.40,172.49 L252.75,172.44 L253.10,172.18 L253.45,172.15 L253.80,172.09 L254.15,171.68 L254.50,171.46 L254.85,171.30 L255.20,171.09 L255.55,171.02 L255.90,170.94 L256.25,170.76 L256.50,170.63 L256.90,170.61 L257.30,170.81 L257.65,171.26 L258.00,171.58 L258.35,172.22 L258.70,172.38 L259.05,172.99 L259.40,173.00 L259.75,173.41 L260.10,173.99 L260.45,173.45 L260.80,173.52 L261.15,174.05 L261.50,173.47 L261.85,173.53 L262.20,173.70 L262.55,173.32 L262.90,173.42 L263.25,173.42 L263.60,173.68 L263.95,173.54 L264.30,173.51 L264.65,173.53 L265.00,173.55 L265.35,173.46 L265.70,173.69 L266.05,173.55 L266.40,173.70 L266.75,173.82 L267.10,173.79 L267.45,173.72 L267.80,173.95 L268.15,173.72 L268.50,173.57 L268.85,173.63 L269.20,173.61 L269.55,174.01 L269.90,173.92 L270.25,173.95 L270.60,174.08 L270.95,173.66 L271.30,173.80 L271.65,173.97 L272.00,173.81 L272.35,173.81 L272.70,173.87 L273.05,174.09 L273.40,173.85 L273.75,173.98 L274.10,174.00 L274.45,173.97 L274.80,174.19 L275.15,173.93 L275.50,174.03 L275.85,174.05 L276.20,174.00 L276.55,173.94 L276.90,174.03 L277.25,174.22 L277.60,173.98 L277.95,174.06 L278.30,174.23 L278.65,174.18 L279.00,174.34 L279.35,173.94 L279.70,174.01 L280.05,174.01 L280.40,173.98 L280.75,174.10 L281.10,173.94 L281.45,173.90 L281.80,174.30 L282.15,174.23 L282.50,174.28 L282.85,174.08 L283.20,174.12 L283.55,174.15 L283.90,174.16 L284.25,174.20 L284.60,174.10 L284.95,174.26 L285.30,174.14 L285.65,174.03 L286.00,173.98 L286.35,174.25 L286.70,174.40 L287.05,174.31 L287.40,174.23 L287.75,174.05 L288.10,174.30 L288.45,174.35 L288.80,174.27 L289.15,174.07 L289.50,174.09 L289.85,174.45 L290.20,174.24 L290.55,174.29 L290.90,174.12 L291.25,174.19 L291.60,174.43 L291.95,174.11 L292.30,174.18 L292.65,174.15 L293.00,174.51 L293.35,174.43 L293.70,174.29 L294.05,174.35 L294.40,174.53 L294.75,174.33 L295.10,174.31 L295.45,174.18 L295.80,174.35 L296.15,174.33 L296.50,174.44 L296.85,174.49 L297.20,174.50 L297.55,174.41 L297.90,174.44 L298.25,174.53 L298.60,174.32 L298.95,174.39 L299.30,174.43 L299.65,174.48 L300.00,174.22 L300.35,174.22 L300.70,174.20 L301.05,174.40 L301.40,174.23 L301.75,174.19 L302.10,174.19 L302.45,174.23 L302.80,174.52 L303.15,174.35 L303.50,174.63 L303.85,174.26 L304.20,174.44 L304.55,174.67 L304.90,174.63 L305.25,174.54 L305.60,174.59 L305.95,174.96 L306.30,174.32 L306.65,174.31 L307.00,174.34 L307.35,174.56 L307.70,174.40 L308.05,174.59 L308.40,174.27 L308.75,174.51 L309.10,174.33 L309.45,174.54 L309.80,174.53 L310.15,174.26 L310.50,174.83 L310.85,174.50 L311.20,174.55 L311.55,174.70 L311.90,174.45 L312.25,175.26 L312.60,174.30 L312.95,174.20 L313.30,174.57 L313.65,174.82 L314.00,175.14 L314.35,175.77 L314.70,174.20 L315.05,174.57 L315.40,175.31 L315.75,175.03 L316.10,175.28 L316.45,174.77 L316.80,175.64 L317.15,174.35 L317.50,174.14 L317.85,175.06 L318.20,174.14 L318.55,174.68 L318.90,174.09 L319.25,175.21 L319.60,174.31 L319.95,174.34 L320.30,174.56 L320.65,174.96 L321.00,174.58 L321.35,175.00 L321.70,175.24 L322.05,174.14 L322.40,174.14 L322.75,174.35 L323.10,174.89 L323.45,175.06 L323.80,174.77 L324.15,174.12 L324.50,174.27 L324.85,176.48 L325.20,174.40 L325.55,174.13 L325.90,174.39 L326.25,174.17 L326.60,176.32 L326.95,175.07 L327.30,174.85 L327.65,175.00 L328.00,175.31 L328.35,175.93 L328.70,174.79 L329.05,174.84 L329.40,175.23 L329.75,174.26 L330.10,174.48 L330.45,174.18 L330.80,174.37 L331.15,174.94 L331.50,175.38 L331.85,174.19 L332.20,175.39 L332.55,174.72 L332.90,175.26 L333.25,174.36 L333.60,175.41 L333.95,174.30 L334.30,175.44 L334.65,174.21 L335.00,175.30 L335.35,174.15 L335.70,175.38 L336.05,174.46 L336.40,174.76 L336.75,174.73 L337.10,174.77 L337.45,175.32 L337.80,174.87 L338.15,174.43 L338.50,176.09 L338.85,175.07 L339.20,175.09 L339.55,174.34 L339.90,174.37 L340.25,174.43 L340.60,174.26 L340.95,176.97 L341.00,174.56 L341.40,174.52 L341.80,174.47 L342.00,174.40 L342.35,174.96 L342.70,174.68 L343.05,174.77 L343.40,173.96 L343.75,174.26 L344.10,174.09 L344.45,173.89 L344.80,174.74 L345.15,173.87 L345.50,173.69 L345.85,173.68 L346.20,173.75 L346.55,173.50 L346.90,173.39 L347.25,173.58 L347.60,173.48 L347.95,173.08 L348.30,173.38 L348.65,173.22 L349.00,173.08 L349.35,173.15 L349.70,172.85 L350.05,172.37 L350.40,172.41 L350.75,172.31 L351.10,172.10 L351.45,172.10 L351.80,172.00 L352.15,172.10 L352.50,171.81 L352.85,171.80 L353.20,171.53 L353.55,171.36 L353.90,171.91 L354.25,170.94 L354.60,171.21 L354.95,170.88 L355.30,170.96 L355.65,170.77 L356.00,170.93 L356.35,170.08 L356.70,170.85 L357.05,169.93 L357.40,170.11 L357.75,169.64 L358.10,169.31 L358.45,170.53 L358.80,169.39 L359.15,169.19 L359.50,168.82 L359.85,168.89 L360.20,168.65 L360.55,168.34 L360.90,167.96 L361.25,167.70 L361.60,167.47 L361.95,167.35 L362.00,167.54 L362.40,167.50 L362.80,167.62 L363.00,168.13 L363.35,168.23 L363.70,168.47 L364.05,168.58 L364.40,168.75 L364.75,169.35 L365.10,169.27 L365.45,170.12 L365.80,170.25 L366.15,170.35 L366.50,170.82 L366.85,170.92 L367.20,171.18 L367.55,171.19 L367.90,171.52 L368.25,171.55 L368.60,171.74 L368.95,172.28 L369.30,172.46 L369.65,172.62 L370.00,172.81 L370.35,173.42 L370.70,173.16 L371.05,173.40 L371.40,172.96 L371.75,173.01 L372.10,173.29 L372.38,173.37 L372.66,173.47 L372.94,173.69 L373.22,173.72 L373.50,173.83 L373.78,173.78 L374.06,173.99 L374.34,174.00 L374.62,174.06 L374.90,174.51 L375.18,174.39 L375.46,174.64 L375.74,174.36 L376.02,174.89 L376.30,174.53 L376.58,174.93 L376.86,174.82 L377.14,174.77 L377.42,175.46 L377.70,174.74 L377.98,175.17 L378.26,175.17 L378.54,175.35 L378.82,175.79 L379.10,175.85 L379.38,175.38 L379.66,175.38 L379.94,175.97 L380.22,175.35 L380.50,176.26 L380.78,175.21 L381.06,176.32 L381.34,175.70 L381.62,176.22 L381.90,176.50 L382.18,176.82 L382.46,175.69 L382.74,175.61 L383.02,176.24 L383.30,175.12 L383.58,176.85 L383.86,176.42 L384.14,175.61 L384.42,176.49 L384.70,175.82 L384.98,176.92 L385.26,175.91 L385.54,176.21 L385.82,176.45 L386.10,176.63 L386.38,176.83 L386.66,175.14 L386.94,175.19 L387.22,175.84 L387.50,176.68 L387.78,176.14 L388.06,176.46 L388.34,176.65 L388.62,175.57 L388.90,176.50 L389.18,176.80 L389.46,175.67 L389.74,175.47 L390.02,176.43 L390.30,176.01 L390.58,176.70 L390.86,176.01 L391.14,176.46 L391.42,176.66 L391.70,176.08 L391.98,175.42 L392.26,176.00 L392.54,176.25 L392.82,176.00 L393.10,176.01 L393.38,175.37 L393.66,175.91 L393.94,176.12 L394.22,176.18 L394.50,176.74 L394.78,176.67 L395.06,176.11 L395.34,176.04 L395.62,176.08 L395.90,175.59 L396.18,176.84 L396.46,175.52 L396.74,177.08 L397.02,176.98 L397.30,175.87 L397.58,175.85 L397.86,176.26 L398.14,175.32 L398.42,176.83 L398.70,176.68 L398.98,176.03 L399.26,176.94 L399.54,177.15 L399.82,175.52 L400.10,176.90 L400.38,176.26 L400.66,176.22 L400.94,175.52 L401.22,176.64 L401.50,176.39 L401.78,177.05 L402.06,176.51 L402.34,175.96 L402.62,177.07 L402.90,175.89 L403.18,176.58 L403.46,176.01 L403.74,176.24 L404.02,176.36 L404.30,176.51 L404.58,177.03 L404.86,176.96 L405.14,176.08 L405.42,175.57 L405.70,175.99 L405.98,176.19 L406.26,176.69 L406.54,176.36 L406.82,176.60 L407.10,176.40 L407.38,177.87 L407.66,175.89 L407.94,177.02 L408.22,176.71 L408.50,175.73 L408.78,176.38 L409.06,176.60 L409.34,175.89 L409.62,175.64 L409.90,176.80 L410.18,176.41 L410.46,176.39 L410.74,176.21 L411.02,175.66 L411.30,177.13 L411.58,176.91 L411.86,176.31 L412.14,177.16 L412.42,176.59 L412.70,176.81 L412.98,176.14 L413.26,176.83 L413.54,175.62 L413.82,176.32 L414.10,178.04 L414.38,178.05 L414.66,176.18 L414.94,175.43 L415.22,176.82 L415.50,176.73 L415.78,176.31 L416.06,176.74 L416.34,177.28 L416.62,175.69 L416.90,176.28 L417.18,175.80 L417.46,177.07 L417.74,176.69 L418.02,176.64 L418.30,176.89 L418.58,177.17 L418.86,176.71 L419.14,175.96 L419.42,176.25 L419.70,176.64 L419.98,177.25 L420.26,175.59 L420.54,176.43 L420.82,176.86 L421.10,176.08 L421.38,176.68 L421.66,176.43 L421.94,175.76 L422.22,176.90 L422.50,177.06 L422.78,176.86" fill="none" stroke="#464b4e" stroke-width="1.15" stroke-linejoin="miter" stroke-miterlimit="2"/>
<path d="M372.00,173.24 L372.30,173.37 L372.60,173.51 L372.90,173.59 L373.20,173.79 L373.50,173.75 L373.80,173.91 L374.10,174.03 L374.40,174.16 L374.70,174.23 L375.00,174.20 L375.30,174.63 L375.60,174.66 L375.90,174.42 L376.20,174.89 L376.50,174.90 L376.80,174.93 L377.10,175.26 L377.40,175.09 L377.70,174.91 L378.00,175.44 L378.30,175.34 L378.60,175.09 L378.90,175.66 L379.20,175.60 L379.50,176.08 L379.80,175.63 L380.10,176.00 L380.40,176.01 L380.70,175.45 L381.00,175.95 L381.30,175.40 L381.60,176.48 L381.90,176.56 L382.20,175.45 L382.50,175.88 L382.80,176.54 L383.10,175.69 L383.40,176.19 L383.70,176.26 L384.00,176.56 L384.30,175.98 L384.60,176.30 L384.90,175.66 L385.20,175.69 L385.50,175.57 L385.80,175.99 L386.10,176.57 L386.40,176.28 L386.70,175.85 L387.00,176.74 L387.30,175.63 L387.60,175.84 L387.90,176.65 L388.20,176.69 L388.50,175.50 L388.80,176.40 L389.10,175.56 L389.40,176.71 L389.70,176.40 L390.00,176.21 L390.30,175.65 L390.60,176.71 L390.90,176.49 L391.20,176.14 L391.50,175.97 L391.80,175.89 L392.10,176.34 L392.40,175.86 L392.70,176.81 L393.00,176.44 L393.30,176.71 L393.60,175.80 L393.90,176.67 L394.20,176.72 L394.50,175.98 L394.80,175.82 L395.10,176.87 L395.40,176.23 L395.70,176.50 L396.00,176.83 L396.30,176.50 L396.60,175.64 L396.90,176.08 L397.20,175.69 L397.50,176.62 L397.80,176.06 L398.10,176.27 L398.40,176.30 L398.70,176.34 L399.00,175.74 L399.30,176.90 L399.60,176.93 L399.90,175.85 L400.20,175.74 L400.50,176.91 L400.80,176.17 L401.10,176.72 L401.40,176.00 L401.70,176.02 L402.00,176.66 L402.30,176.17 L402.60,176.34 L402.90,176.85 L403.20,176.36 L403.50,176.14 L403.80,176.78 L404.10,176.26 L404.40,176.08 L404.70,176.24 L405.00,176.46 L405.30,175.83 L405.60,176.00 L405.90,176.20 L406.20,175.83 L406.50,175.97 L406.80,176.38 L407.10,176.39 L407.40,176.59 L407.70,176.30 L408.00,176.22 L408.30,176.72 L408.60,176.06 L408.90,176.43 L409.20,175.98 L409.50,176.88 L409.80,176.37 L410.10,176.51 L410.40,176.99 L410.70,175.81 L411.00,176.61 L411.30,175.81 L411.60,176.04 L411.90,175.93 L412.20,176.53 L412.50,176.02 L412.80,176.66 L413.10,175.95 L413.40,176.28 L413.70,176.77 L414.00,176.35 L414.30,177.03 L414.60,176.94 L414.90,176.41 L415.20,176.49 L415.50,176.51 L415.80,176.72 L416.10,177.10 L416.40,176.83 L416.70,176.12 L417.00,176.86 L417.30,176.45 L417.60,176.84 L417.90,177.00 L418.20,177.06 L418.50,176.47 L418.80,175.97 L419.10,176.10 L419.40,176.06 L419.70,176.25 L420.00,176.58 L420.30,176.61 L420.60,176.22 L420.90,176.72 L421.20,176.74 L421.50,177.06 L421.80,176.47 L422.10,175.97 L422.40,176.24 L422.70,176.14" fill="none" stroke="#464b4e" stroke-width="1.2"/>
<path d="M246.85,173.32 L247.20,170.00 L247.55,173.28 M256.55,170.92 L256.90,161.70 L257.25,171.07 M341.05,174.85 L341.40,168.60 L341.75,174.78 M362.05,167.83 L362.40,160.80 L362.75,167.89 " fill="none" stroke="#464b4e" stroke-width="0.85" stroke-linejoin="miter" stroke-miterlimit="10"/>
<line x1="242.90" y1="5.30" x2="423.90" y2="5.30" stroke="#333" stroke-width="1.0" />
<line x1="242.90" y1="183.10" x2="423.90" y2="183.10" stroke="#333" stroke-width="1.0" />
<line x1="243.00" y1="4.80" x2="243.00" y2="183.60" stroke="#a6a6a6" stroke-width="1.8" />
<line x1="423.90" y1="4.80" x2="423.90" y2="183.60" stroke="#9a9a9a" stroke-width="1.8" />
<line x1="244.30" y1="183.10" x2="244.30" y2="180.10" stroke="#333" stroke-width="0.9" />
<line x1="288.80" y1="183.10" x2="288.80" y2="180.10" stroke="#333" stroke-width="0.9" />
<line x1="333.30" y1="183.10" x2="333.30" y2="180.10" stroke="#333" stroke-width="0.9" />
<line x1="377.80" y1="183.10" x2="377.80" y2="180.10" stroke="#333" stroke-width="0.9" />
<line x1="422.30" y1="183.10" x2="422.30" y2="180.10" stroke="#333" stroke-width="0.9" />
<text x="236.58" y="194.60" font-size="12.5" textLength="15.29" lengthAdjust="spacingAndGlyphs" fill="#111" >20</text>
<text x="281.16" y="194.60" font-size="12.5" textLength="15.29" lengthAdjust="spacingAndGlyphs" fill="#111" >30</text>
<text x="325.76" y="194.60" font-size="12.5" textLength="15.29" lengthAdjust="spacingAndGlyphs" fill="#111" >40</text>
<text x="370.15" y="194.60" font-size="12.5" textLength="15.29" lengthAdjust="spacingAndGlyphs" fill="#111" >50</text>
<text x="414.57" y="194.60" font-size="12.5" textLength="15.29" lengthAdjust="spacingAndGlyphs" fill="#111" >60</text>
<text x="304.89" y="208.40" font-size="12.5" textLength="56.79" lengthAdjust="spacingAndGlyphs" fill="#111" >2θ (deg.)</text>
<text transform="translate(238.70,138.90) rotate(-90)" x="-1.34" y="0" font-size="12" textLength="91.94" lengthAdjust="spacingAndGlyphs" fill="#111">Intensity (a.u.)</text>
<text x="373.53" y="21.50" font-size="13.8" font-weight="bold" textLength="42.40" lengthAdjust="spacingAndGlyphs" fill="#000" >SHO10</text>
<text x="372.03" y="47.00" font-size="13.8" font-weight="bold" textLength="45.32" lengthAdjust="spacingAndGlyphs" fill="#000" >SHO7.5</text>
<text x="372.03" y="73.60" font-size="13.8" font-weight="bold" textLength="45.52" lengthAdjust="spacingAndGlyphs" fill="#000" >SHO5.5</text>
<text x="372.03" y="98.70" font-size="13.8" font-weight="bold" textLength="45.52" lengthAdjust="spacingAndGlyphs" fill="#000" >SHO3.5</text>
<text x="372.03" y="121.70" font-size="13.8" font-weight="bold" textLength="34.57" lengthAdjust="spacingAndGlyphs" fill="#000" >SHO2</text>
<text x="372.03" y="144.20" font-size="13.8" font-weight="bold" textLength="34.59" lengthAdjust="spacingAndGlyphs" fill="#000" >SHO0</text>
<text x="372.04" y="171.20" font-size="13.8" font-weight="bold" textLength="26.00" lengthAdjust="spacingAndGlyphs" fill="#000" >STO</text>
<text x="224.04" y="11.70" font-size="16.5" textLength="9.15" lengthAdjust="spacingAndGlyphs" fill="#000" >b</text>
<path d="M254.2,10.6 L256.9,13.5 L254.2,16.4 L251.5,13.5 Z" fill="#000"/>
<path d="M358.4,10.1 L360.9,13.0 L358.4,15.9 L355.9,13.0 Z" fill="#000"/>
<text x="259.80" y="18.10" font-size="11.5" font-weight="bold" textLength="6.49" lengthAdjust="spacingAndGlyphs" fill="#000" transform="skewX(-8) translate(2.05,0)">#</text>
<text x="364.82" y="17.80" font-size="11.5" font-weight="bold" textLength="5.96" lengthAdjust="spacingAndGlyphs" fill="#000" transform="skewX(-8) translate(2.01,0)">#</text>
<text x="271.38" y="19.30" font-size="12" font-weight="bold" textLength="17.36" lengthAdjust="spacingAndGlyphs" fill="#000" >o(t)</text>
<text x="297.47" y="19.30" font-size="12" font-weight="bold" textLength="9.81" lengthAdjust="spacingAndGlyphs" fill="#000" >m</text>
<text x="313.48" y="19.30" font-size="12" font-weight="bold" textLength="17.46" lengthAdjust="spacingAndGlyphs" fill="#000" >o(t)</text>
<text x="337.26" y="18.20" font-size="10.8" font-weight="bold" textLength="6.93" lengthAdjust="spacingAndGlyphs" fill="#000" >K</text>
<text x="344.34" y="19.90" font-size="6.5" font-weight="bold" textLength="4.93" lengthAdjust="spacingAndGlyphs" fill="#000" >β</text>
<line x1="281.24" y1="229.30" x2="281.24" y2="404.80" stroke="#8cc68c" stroke-width="0.7" stroke-dasharray="1.8,1.4"/>
<line x1="288.36" y1="229.30" x2="288.36" y2="404.80" stroke="#8cc68c" stroke-width="0.7" stroke-dasharray="1.8,1.4"/>
<path d="M244.00,243.77 L244.35,243.36 L244.70,243.71 L245.05,243.62 L245.40,243.57 L245.75,243.53 L246.10,243.43 L246.45,243.53 L246.80,243.59 L246.80,243.32 L247.20,243.27 L247.60,243.21 L247.85,243.21 L248.20,243.26 L248.55,243.04 L248.90,243.23 L249.25,243.01 L249.60,242.70 L249.95,242.68 L250.30,242.99 L250.65,242.54 L251.00,242.74 L251.35,242.71 L251.70,242.57 L252.05,242.57 L252.40,242.10 L252.75,242.23 L253.10,242.01 L253.45,242.04 L253.80,241.83 L254.15,241.67 L254.50,241.28 L254.85,241.27 L255.20,240.86 L255.55,240.55 L255.90,240.11 L256.25,239.75 L256.60,239.58 L256.90,239.74 L257.30,240.24 L257.70,240.85 L258.00,241.36 L258.35,241.58 L258.70,241.90 L259.05,241.98 L259.40,242.51 L259.75,242.30 L260.10,242.76 L260.45,242.68 L260.80,242.78 L261.15,243.03 L261.50,243.44 L261.85,243.41 L262.20,243.41 L262.55,243.80 L262.90,244.04 L263.25,243.64 L263.60,243.65 L263.95,243.65 L264.30,243.66 L264.65,244.04 L265.00,243.77 L265.35,244.49 L265.70,243.99 L266.05,244.00 L266.40,243.79 L266.75,243.76 L267.10,244.10 L267.45,244.17 L267.80,244.17 L268.15,244.00 L268.50,244.10 L268.85,243.85 L269.20,244.21 L269.55,244.09 L269.90,244.07 L270.25,244.27 L270.60,244.12 L270.95,243.87 L271.30,243.93 L271.65,243.89 L272.00,243.92 L272.35,244.11 L272.70,244.31 L273.05,244.00 L273.40,244.01 L273.75,244.19 L274.10,244.23 L274.45,244.10 L274.80,244.18 L275.15,243.97 L275.50,244.03 L275.85,244.01 L276.20,244.03 L276.55,244.14 L276.90,244.22 L277.25,244.34 L277.60,244.27 L277.95,244.17 L278.30,243.96 L278.65,244.18 L279.00,243.98 L279.35,244.11 L279.70,244.36 L280.05,244.07 L280.40,244.51 L280.75,243.87 L281.10,244.09 L281.45,243.57 L281.80,243.58 L282.15,243.30 L282.50,243.05 L282.85,242.99 L283.20,242.67 L283.55,242.50 L283.90,242.35 L284.25,242.25 L284.60,241.68 L284.95,241.37 L285.30,241.33 L285.65,241.47 L286.00,240.79 L286.35,240.33 L286.70,239.91 L287.05,239.39 L287.40,239.07 L287.75,238.85 L288.10,238.59 L288.45,238.16 L288.80,238.20 L289.15,238.60 L289.50,238.91 L289.85,239.13 L290.20,240.00 L290.55,240.19 L290.90,240.40 L291.25,241.07 L291.60,240.94 L291.95,241.23 L292.30,241.67 L292.65,241.82 L293.00,242.05 L293.35,242.34 L293.70,242.42 L294.05,242.48 L294.40,242.73 L294.75,242.84 L295.10,243.13 L295.45,242.95 L295.80,243.01 L296.15,243.50 L296.50,243.43 L296.85,243.48 L297.20,243.81 L297.55,243.69 L297.90,243.72 L298.25,243.95 L298.60,244.11 L298.95,244.08 L299.30,244.17 L299.65,244.51 L300.00,244.32 L300.35,244.34 L300.70,244.11 L301.05,244.47 L301.40,244.59 L301.75,244.27 L302.10,244.60 L302.45,244.61 L302.80,244.39 L303.15,244.39 L303.50,244.55 L303.85,244.64 L304.20,244.50 L304.55,244.77 L304.90,244.83 L305.25,244.81 L305.60,244.80 L305.95,244.64 L306.30,244.55 L306.65,244.90 L307.00,244.91 L307.35,244.78 L307.70,244.97 L308.05,244.69 L308.40,244.82 L308.75,245.15 L309.10,245.11 L309.45,244.94 L309.80,244.91 L310.15,244.86 L310.50,244.96 L310.85,245.16 L311.20,245.14 L311.55,245.07 L311.90,245.09 L312.25,246.75 L312.60,245.03 L312.95,245.64 L313.30,245.36 L313.65,244.86 L314.00,244.87 L314.35,247.31 L314.70,245.08 L315.05,245.85 L315.40,244.83 L315.75,245.00 L316.10,245.83 L316.45,245.47 L316.80,245.51 L317.15,244.91 L317.50,245.16 L317.85,245.72 L318.20,245.74 L318.55,245.22 L318.90,245.16 L319.25,245.93 L319.60,245.63 L319.95,245.71 L320.30,245.88 L320.65,245.74 L321.00,245.15 L321.35,245.66 L321.70,245.31 L322.05,246.05 L322.40,245.44 L322.75,245.07 L323.10,245.64 L323.45,245.32 L323.80,246.01 L324.15,245.44 L324.50,245.19 L324.85,245.40 L325.20,245.73 L325.55,245.33 L325.90,245.05 L326.25,245.20 L326.60,245.49 L326.95,245.40 L327.30,245.28 L327.65,245.41 L328.00,246.25 L328.35,246.10 L328.70,246.02 L329.05,245.69 L329.40,245.46 L329.75,245.82 L330.10,246.34 L330.45,245.66 L330.80,245.47 L331.15,245.84 L331.50,245.77 L331.85,246.36 L332.20,245.68 L332.55,245.97 L332.90,246.39 L333.25,246.32 L333.60,246.86 L333.95,246.34 L334.30,245.57 L334.65,245.31 L335.00,245.25 L335.35,247.61 L335.70,245.45 L336.05,245.86 L336.40,246.16 L336.75,246.34 L337.10,245.82 L337.45,246.28 L337.80,245.78 L338.15,245.68 L338.50,245.18 L338.85,245.54 L339.20,246.07 L339.55,245.78 L339.90,245.91 L340.25,244.72 L340.60,245.25 L340.70,244.85 L341.10,244.69 L341.50,244.53 L341.65,244.50 L342.00,244.45 L342.35,244.30 L342.70,244.75 L343.05,244.25 L343.40,244.59 L343.75,243.85 L344.10,244.43 L344.45,243.52 L344.80,243.72 L345.15,244.02 L345.50,244.02 L345.85,244.05 L346.20,243.63 L346.55,244.08 L346.90,244.09 L347.25,243.61 L347.60,243.84 L347.95,244.07 L348.30,244.01 L348.65,243.61 L349.00,243.90 L349.35,243.53 L349.70,243.67 L350.05,243.53 L350.40,243.51 L350.75,243.25 L351.10,243.27 L351.45,243.16 L351.80,243.28 L352.15,243.19 L352.50,242.90 L352.85,243.10 L352.90,242.88 L353.30,242.76 L353.70,242.64 L353.90,242.63 L354.25,242.45 L354.60,242.27 L354.95,242.28 L355.30,242.14 L355.65,241.91 L356.00,241.95 L356.35,241.58 L356.70,241.68 L357.05,241.52 L357.40,241.05 L357.75,241.64 L358.10,240.63 L358.45,240.47 L358.80,240.47 L359.15,240.05 L359.50,240.50 L359.85,239.30 L360.20,239.24 L360.55,238.39 L360.90,238.32 L361.25,237.57 L361.60,237.56 L361.80,237.20 L362.20,237.20 L362.60,237.20 L362.65,237.17 L363.00,237.55 L363.35,237.41 L363.70,237.34 L364.05,237.31 L364.40,237.76 L364.75,237.36 L365.10,237.81 L365.45,238.52 L365.80,238.65 L366.15,238.94 L366.50,239.60 L366.85,239.79 L367.20,241.15 L367.55,240.76 L367.90,240.88 L368.25,241.36 L368.60,241.62 L368.95,241.92 L369.30,241.70 L369.65,241.96 L370.00,242.27 L370.35,242.63 L370.70,243.47 L371.05,242.65 L371.40,243.02 L371.75,243.10 L372.10,243.28 L372.38,243.41 L372.66,243.60 L372.94,243.61 L373.22,243.78 L373.50,243.97 L373.78,244.17 L374.06,244.39 L374.34,244.55 L374.62,244.58 L374.90,244.64 L375.18,244.58 L375.46,244.62 L375.74,244.95 L376.02,244.45 L376.30,245.28 L376.58,245.17 L376.86,245.58 L377.14,245.46 L377.42,245.19 L377.70,244.91 L377.98,244.89 L378.26,245.38 L378.54,245.59 L378.82,246.20 L379.10,245.76 L379.38,246.32 L379.66,245.75 L379.94,245.72 L380.22,246.07 L380.50,245.92 L380.78,246.75 L381.06,246.36 L381.34,246.34 L381.62,246.64 L381.90,247.09 L382.18,246.44 L382.46,246.22 L382.74,246.21 L383.02,245.81 L383.30,247.16 L383.58,246.92 L383.86,247.01 L384.14,246.52 L384.42,246.78 L384.70,246.84 L384.98,247.08 L385.26,246.78 L385.54,246.57 L385.82,247.29 L386.10,246.38 L386.38,247.23 L386.66,246.83 L386.94,245.78 L387.22,246.80 L387.50,247.38 L387.78,246.39 L388.06,247.07 L388.34,246.35 L388.62,246.33 L388.90,246.92 L389.18,246.46 L389.46,247.47 L389.74,246.47 L390.02,246.78 L390.30,246.92 L390.58,247.34 L390.86,246.96 L391.14,245.67 L391.42,245.88 L391.70,246.42 L391.98,247.09 L392.26,247.27 L392.54,245.81 L392.82,246.51 L393.10,246.60 L393.38,246.13 L393.66,247.42 L393.94,246.67 L394.22,247.52 L394.50,246.97 L394.78,246.18 L395.06,246.06 L395.34,247.31 L395.62,247.14 L395.90,246.32 L396.18,246.88 L396.46,247.35 L396.74,246.12 L397.02,247.30 L397.30,246.22 L397.58,246.25 L397.86,246.93 L398.14,246.09 L398.42,246.73 L398.70,246.14 L398.98,247.14 L399.26,247.39 L399.54,247.30 L399.82,246.22 L400.10,245.66 L400.38,247.29 L400.66,246.18 L400.94,248.27 L401.22,246.44 L401.50,246.77 L401.78,247.61 L402.06,247.36 L402.34,246.74 L402.62,245.90 L402.90,246.80 L403.18,247.37 L403.46,247.36 L403.74,245.81 L404.02,246.27 L404.30,246.08 L404.58,246.79 L404.86,245.86 L405.14,247.35 L405.42,246.33 L405.70,247.11 L405.98,247.13 L406.26,246.17 L406.54,245.84 L406.82,246.05 L407.10,246.89 L407.38,247.69 L407.66,247.09 L407.94,247.67 L408.22,246.28 L408.50,246.47 L408.78,247.28 L409.06,247.34 L409.34,247.31 L409.62,247.21 L409.90,246.50 L410.18,247.13 L410.46,246.11 L410.74,247.59 L411.02,247.51 L411.30,246.53 L411.58,247.57 L411.86,246.05 L412.14,247.04 L412.42,246.38 L412.70,246.06 L412.98,246.80 L413.26,247.20 L413.54,246.61 L413.82,247.20 L414.10,246.30 L414.38,247.89 L414.66,246.70 L414.94,247.40 L415.22,246.48 L415.50,247.63 L415.78,247.51 L416.06,246.29 L416.34,247.15 L416.62,247.00 L416.90,246.94 L417.18,246.86 L417.46,246.12 L417.74,246.64 L418.02,247.06 L418.30,246.47 L418.58,246.63 L418.86,246.21 L419.14,247.69 L419.42,246.28 L419.70,246.12 L419.98,247.23 L420.26,247.28 L420.54,247.12 L420.82,246.72 L421.10,246.25 L421.38,246.49 L421.66,246.42 L421.94,247.49 L422.22,246.79 L422.50,247.54 L422.78,247.78" fill="none" stroke="#4892d3" stroke-width="1.15" stroke-linejoin="miter" stroke-miterlimit="2"/>
<path d="M372.00,243.23 L372.30,243.37 L372.60,243.53 L372.90,243.67 L373.20,243.81 L373.50,243.89 L373.80,243.94 L374.10,244.01 L374.40,244.41 L374.70,244.52 L375.00,244.47 L375.30,244.40 L375.60,244.86 L375.90,244.79 L376.20,244.87 L376.50,245.07 L376.80,244.85 L377.10,244.96 L377.40,245.49 L377.70,245.52 L378.00,245.82 L378.30,245.44 L378.60,246.01 L378.90,246.02 L379.20,245.72 L379.50,246.19 L379.80,245.47 L380.10,245.41 L380.40,246.33 L380.70,245.58 L381.00,246.09 L381.30,246.43 L381.60,246.42 L381.90,245.85 L382.20,246.67 L382.50,245.65 L382.80,246.39 L383.10,246.88 L383.40,246.41 L383.70,246.08 L384.00,247.07 L384.30,246.71 L384.60,246.82 L384.90,246.98 L385.20,247.05 L385.50,246.56 L385.80,246.92 L386.10,246.48 L386.40,246.15 L386.70,246.20 L387.00,246.18 L387.30,245.86 L387.60,246.71 L387.90,246.41 L388.20,247.13 L388.50,245.94 L388.80,246.97 L389.10,246.15 L389.40,246.34 L389.70,246.30 L390.00,247.24 L390.30,246.81 L390.60,246.56 L390.90,246.17 L391.20,245.99 L391.50,246.44 L391.80,247.29 L392.10,246.56 L392.40,246.89 L392.70,247.18 L393.00,246.02 L393.30,246.40 L393.60,246.55 L393.90,246.28 L394.20,246.51 L394.50,246.93 L394.80,246.17 L395.10,246.96 L395.40,246.40 L395.70,246.91 L396.00,246.24 L396.30,247.11 L396.60,246.59 L396.90,247.17 L397.20,247.37 L397.50,246.83 L397.80,246.05 L398.10,246.54 L398.40,247.40 L398.70,246.95 L399.00,247.10 L399.30,246.71 L399.60,247.36 L399.90,247.32 L400.20,246.91 L400.50,246.88 L400.80,246.21 L401.10,246.08 L401.40,246.36 L401.70,247.08 L402.00,247.26 L402.30,247.16 L402.60,247.32 L402.90,246.13 L403.20,246.13 L403.50,246.45 L403.80,246.12 L404.10,246.92 L404.40,247.40 L404.70,247.36 L405.00,246.26 L405.30,247.04 L405.60,247.05 L405.90,247.04 L406.20,246.70 L406.50,246.45 L406.80,247.37 L407.10,247.39 L407.40,247.13 L407.70,246.89 L408.00,246.18 L408.30,246.53 L408.60,246.48 L408.90,246.48 L409.20,246.45 L409.50,247.08 L409.80,247.10 L410.10,246.40 L410.40,247.42 L410.70,246.16 L411.00,247.50 L411.30,246.98 L411.60,247.07 L411.90,246.56 L412.20,247.13 L412.50,247.40 L412.80,246.46 L413.10,246.36 L413.40,247.28 L413.70,246.52 L414.00,246.32 L414.30,246.87 L414.60,246.44 L414.90,246.48 L415.20,246.58 L415.50,246.30 L415.80,247.33 L416.10,246.98 L416.40,247.10 L416.70,246.60 L417.00,247.27 L417.30,247.54 L417.60,247.59 L417.90,246.25 L418.20,246.63 L418.50,246.32 L418.80,246.86 L419.10,247.12 L419.40,247.05 L419.70,246.69 L420.00,247.55 L420.30,247.07 L420.60,247.59 L420.90,246.79 L421.20,247.10 L421.50,246.34 L421.80,246.95 L422.10,247.10 L422.40,246.53 L422.70,247.07" fill="none" stroke="#4892d3" stroke-width="1.2"/>
<path d="M246.85,243.61 L247.20,241.50 L247.55,243.52 M256.95,240.09 L257.30,232.60 L257.65,241.07 M340.75,245.13 L341.10,238.90 L341.45,244.84 M352.95,243.16 L353.30,240.40 L353.65,242.95 M361.85,237.50 L362.20,230.40 L362.55,237.50 " fill="none" stroke="#4892d3" stroke-width="0.85" stroke-linejoin="miter" stroke-miterlimit="10"/>
<path d="M244.00,269.79 L244.35,270.01 L244.70,269.81 L245.05,269.90 L245.40,269.91 L245.75,269.85 L246.10,269.73 L246.45,269.85 L246.80,269.59 L246.80,269.75 L247.20,269.70 L247.60,269.64 L247.85,269.46 L248.20,269.51 L248.55,269.74 L248.90,269.34 L249.25,269.19 L249.60,269.16 L249.95,269.30 L250.30,269.38 L250.65,269.20 L251.00,269.20 L251.35,269.07 L251.70,268.94 L252.05,268.77 L252.40,268.78 L252.75,268.66 L253.10,268.52 L253.45,268.36 L253.80,267.94 L254.15,268.17 L254.50,267.85 L254.85,267.76 L255.20,267.57 L255.55,267.05 L255.90,266.87 L256.25,266.86 L256.60,266.43 L256.90,266.62 L257.30,267.02 L257.70,267.51 L258.00,268.02 L258.35,268.34 L258.70,268.41 L259.05,268.50 L259.40,268.60 L259.75,268.83 L260.10,269.06 L260.45,269.25 L260.80,269.19 L261.15,269.40 L261.50,269.60 L261.85,269.48 L262.20,269.77 L262.55,269.75 L262.90,269.70 L263.25,269.70 L263.60,270.01 L263.95,269.98 L264.30,270.03 L264.65,269.99 L265.00,270.03 L265.35,270.03 L265.70,269.92 L266.05,270.05 L266.40,270.05 L266.75,269.87 L267.10,270.20 L267.45,270.15 L267.80,270.04 L268.15,269.87 L268.50,270.09 L268.85,269.90 L269.20,269.87 L269.55,270.00 L269.90,270.31 L270.25,270.12 L270.60,270.13 L270.95,270.61 L271.30,270.17 L271.65,270.18 L272.00,269.99 L272.35,270.33 L272.70,270.04 L273.05,270.04 L273.40,270.04 L273.75,270.14 L274.10,270.27 L274.45,270.28 L274.80,270.44 L275.15,270.29 L275.50,270.13 L275.85,270.45 L276.20,270.05 L276.55,270.12 L276.90,270.12 L277.25,270.38 L277.60,270.31 L277.95,270.30 L278.30,270.18 L278.65,270.15 L279.00,270.41 L279.35,270.37 L279.70,270.25 L280.05,270.72 L280.40,270.33 L280.75,270.31 L281.10,269.93 L281.45,269.94 L281.80,269.67 L282.15,269.31 L282.50,269.15 L282.85,269.06 L283.20,268.82 L283.55,268.62 L283.90,268.02 L284.25,267.86 L284.60,267.84 L284.95,267.43 L285.30,267.28 L285.65,266.90 L286.00,266.61 L286.35,266.17 L286.70,265.69 L287.05,265.25 L287.40,264.70 L287.75,264.39 L288.10,263.93 L288.45,263.94 L288.80,263.99 L289.15,263.76 L289.50,264.30 L289.85,264.84 L290.20,265.74 L290.55,265.87 L290.90,266.00 L291.25,266.17 L291.60,266.18 L291.95,266.67 L292.30,266.71 L292.65,266.89 L293.00,267.11 L293.35,267.55 L293.70,267.73 L294.05,267.96 L294.40,267.73 L294.75,268.04 L295.10,268.11 L295.45,268.52 L295.80,268.48 L296.15,268.46 L296.50,268.57 L296.85,268.69 L297.20,268.71 L297.55,268.97 L297.90,268.87 L298.25,269.15 L298.60,268.94 L298.95,269.27 L299.30,269.11 L299.65,269.12 L300.00,269.16 L300.35,269.40 L300.70,269.21 L301.05,269.65 L301.40,269.63 L301.75,269.40 L302.10,269.39 L302.45,269.64 L302.80,269.79 L303.15,269.59 L303.50,269.75 L303.85,269.86 L304.20,269.78 L304.55,270.14 L304.90,269.95 L305.25,270.15 L305.60,270.03 L305.95,269.89 L306.30,270.16 L306.65,270.71 L307.00,270.27 L307.35,270.23 L307.70,270.47 L308.05,270.27 L308.40,270.47 L308.75,270.50 L309.10,270.46 L309.45,270.82 L309.80,270.58 L310.15,270.51 L310.50,270.76 L310.85,270.51 L311.20,270.66 L311.55,270.81 L311.90,270.72 L312.25,271.08 L312.60,270.82 L312.95,270.27 L313.30,270.49 L313.65,271.18 L314.00,270.87 L314.35,271.97 L314.70,270.64 L315.05,270.95 L315.40,271.49 L315.75,270.73 L316.10,271.20 L316.45,271.43 L316.80,271.41 L317.15,270.89 L317.50,271.53 L317.85,271.27 L318.20,270.62 L318.55,271.02 L318.90,271.69 L319.25,271.15 L319.60,270.81 L319.95,270.65 L320.30,271.47 L320.65,271.91 L321.00,272.20 L321.35,271.37 L321.70,272.21 L322.05,271.34 L322.40,271.70 L322.75,270.83 L323.10,271.63 L323.45,271.60 L323.80,271.71 L324.15,271.84 L324.50,271.54 L324.85,271.75 L325.20,271.38 L325.55,271.33 L325.90,271.98 L326.25,271.00 L326.60,271.09 L326.95,270.88 L327.30,271.35 L327.65,271.06 L328.00,272.59 L328.35,271.04 L328.70,271.24 L329.05,271.00 L329.40,271.85 L329.75,272.51 L330.10,271.86 L330.45,272.62 L330.80,271.20 L331.15,272.18 L331.50,271.79 L331.85,271.60 L332.20,271.82 L332.55,270.95 L332.90,271.23 L333.25,271.54 L333.60,272.60 L333.95,271.73 L334.30,271.25 L334.65,272.18 L335.00,271.63 L335.35,271.56 L335.70,271.35 L336.05,271.52 L336.40,271.74 L336.75,272.14 L337.10,271.39 L337.45,272.00 L337.80,272.52 L338.15,271.21 L338.50,271.38 L338.85,271.32 L339.20,270.99 L339.55,271.91 L339.90,273.52 L340.25,270.90 L340.60,270.46 L340.70,270.84 L341.10,270.71 L341.50,270.58 L341.65,270.19 L342.00,270.57 L342.35,271.03 L342.70,270.79 L343.05,270.67 L343.40,270.69 L343.75,270.86 L344.10,269.68 L344.45,269.92 L344.80,270.68 L345.15,270.00 L345.50,270.02 L345.85,270.04 L346.20,269.63 L346.55,269.72 L346.90,269.56 L347.25,269.59 L347.60,269.40 L347.95,269.59 L348.30,269.38 L348.65,269.75 L349.00,269.79 L349.35,269.47 L349.70,269.95 L350.05,269.48 L350.40,269.32 L350.75,269.39 L351.10,269.29 L351.45,269.23 L351.80,269.37 L352.15,269.40 L352.50,268.80 L352.85,269.74 L352.90,268.96 L353.30,268.91 L353.70,268.85 L353.90,268.94 L354.25,269.14 L354.60,268.95 L354.95,268.75 L355.30,268.83 L355.65,268.76 L356.00,268.51 L356.35,268.20 L356.70,268.19 L357.05,267.98 L357.40,267.77 L357.75,267.46 L358.10,267.03 L358.45,266.88 L358.80,266.30 L359.15,265.92 L359.50,265.37 L359.85,265.32 L360.20,264.80 L360.55,264.22 L360.90,263.66 L361.25,262.99 L361.60,262.97 L361.80,262.70 L362.20,262.73 L362.60,262.80 L362.65,263.07 L363.00,262.77 L363.35,263.12 L363.70,263.05 L364.05,263.31 L364.40,263.45 L364.75,263.64 L365.10,264.32 L365.45,264.41 L365.80,265.52 L366.15,265.72 L366.50,265.87 L366.85,266.36 L367.20,266.88 L367.55,267.80 L367.90,267.44 L368.25,267.72 L368.60,267.94 L368.95,268.17 L369.30,268.45 L369.65,268.44 L370.00,268.50 L370.35,268.90 L370.70,269.01 L371.05,269.59 L371.40,269.45 L371.75,269.65 L372.10,269.58 L372.38,269.76 L372.66,269.89 L372.94,270.07 L373.22,270.03 L373.50,270.14 L373.78,270.52 L374.06,270.62 L374.34,270.71 L374.62,270.76 L374.90,270.73 L375.18,270.84 L375.46,271.37 L375.74,271.48 L376.02,271.47 L376.30,271.12 L376.58,271.59 L376.86,271.60 L377.14,272.08 L377.42,271.40 L377.70,271.95 L377.98,272.35 L378.26,271.98 L378.54,271.80 L378.82,272.28 L379.10,272.54 L379.38,271.83 L379.66,272.35 L379.94,271.89 L380.22,272.86 L380.50,273.17 L380.78,272.74 L381.06,273.27 L381.34,273.53 L381.62,274.32 L381.90,272.63 L382.18,272.57 L382.46,272.19 L382.74,272.71 L383.02,272.73 L383.30,272.96 L383.58,272.02 L383.86,273.50 L384.14,273.90 L384.42,272.67 L384.70,273.96 L384.98,272.03 L385.26,272.16 L385.54,273.58 L385.82,273.20 L386.10,272.98 L386.38,272.47 L386.66,273.95 L386.94,272.27 L387.22,273.56 L387.50,272.47 L387.78,273.71 L388.06,274.34 L388.34,272.76 L388.62,274.06 L388.90,273.76 L389.18,273.65 L389.46,272.39 L389.74,274.07 L390.02,272.96 L390.30,273.82 L390.58,272.20 L390.86,273.40 L391.14,271.85 L391.42,273.34 L391.70,273.46 L391.98,272.95 L392.26,273.79 L392.54,272.06 L392.82,273.56 L393.10,272.90 L393.38,272.59 L393.66,271.98 L393.94,272.50 L394.22,274.13 L394.50,272.37 L394.78,272.90 L395.06,272.62 L395.34,274.13 L395.62,272.44 L395.90,272.16 L396.18,273.37 L396.46,273.12 L396.74,272.29 L397.02,272.02 L397.30,271.82 L397.58,274.10 L397.86,272.67 L398.14,271.91 L398.42,273.22 L398.70,273.13 L398.98,273.01 L399.26,271.95 L399.54,273.87 L399.82,274.15 L400.10,274.19 L400.38,272.74 L400.66,272.33 L400.94,273.88 L401.22,273.75 L401.50,273.94 L401.78,272.81 L402.06,274.06 L402.34,272.68 L402.62,272.60 L402.90,272.43 L403.18,273.81 L403.46,274.22 L403.74,272.79 L404.02,273.67 L404.30,273.00 L404.58,274.10 L404.86,273.58 L405.14,272.68 L405.42,273.16 L405.70,273.46 L405.98,273.99 L406.26,273.68 L406.54,273.03 L406.82,272.67 L407.10,274.05 L407.38,272.63 L407.66,273.70 L407.94,273.06 L408.22,273.79 L408.50,273.03 L408.78,272.95 L409.06,273.58 L409.34,272.86 L409.62,273.49 L409.90,273.96 L410.18,273.35 L410.46,273.95 L410.74,273.31 L411.02,273.84 L411.30,274.21 L411.58,273.23 L411.86,274.50 L412.14,274.88 L412.42,272.79 L412.70,272.10 L412.98,272.95 L413.26,273.91 L413.54,272.42 L413.82,274.14 L414.10,273.68 L414.38,272.81 L414.66,273.96 L414.94,272.53 L415.22,272.12 L415.50,273.39 L415.78,273.54 L416.06,273.25 L416.34,273.90 L416.62,274.22 L416.90,272.52 L417.18,272.73 L417.46,272.59 L417.74,274.03 L418.02,273.66 L418.30,273.57 L418.58,273.84 L418.86,273.35 L419.14,272.96 L419.42,273.66 L419.70,273.88 L419.98,272.58 L420.26,274.07 L420.54,272.07 L420.82,272.51 L421.10,274.11 L421.38,274.09 L421.66,272.32 L421.94,272.60 L422.22,273.73 L422.50,273.74 L422.78,274.09" fill="none" stroke="#52a7d8" stroke-width="1.15" stroke-linejoin="miter" stroke-miterlimit="2"/>
<path d="M372.00,269.52 L372.30,269.69 L372.60,269.78 L372.90,270.05 L373.20,270.13 L373.50,270.28 L373.80,270.30 L374.10,270.63 L374.40,270.57 L374.70,270.78 L375.00,270.65 L375.30,271.09 L375.60,271.32 L375.90,271.30 L376.20,271.56 L376.50,271.50 L376.80,271.60 L377.10,271.95 L377.40,271.48 L377.70,271.76 L378.00,272.26 L378.30,272.30 L378.60,272.59 L378.90,272.48 L379.20,272.49 L379.50,272.53 L379.80,272.06 L380.10,272.85 L380.40,272.98 L380.70,272.19 L381.00,272.45 L381.30,272.59 L381.60,273.13 L381.90,272.09 L382.20,272.20 L382.50,273.55 L382.80,273.30 L383.10,272.71 L383.40,272.32 L383.70,272.05 L384.00,272.31 L384.30,273.56 L384.60,272.21 L384.90,273.51 L385.20,272.39 L385.50,273.45 L385.80,272.49 L386.10,273.30 L386.40,273.41 L386.70,273.00 L387.00,272.54 L387.30,272.97 L387.60,272.56 L387.90,273.78 L388.20,272.93 L388.50,273.12 L388.80,272.70 L389.10,272.90 L389.40,273.68 L389.70,273.67 L390.00,273.57 L390.30,273.78 L390.60,273.85 L390.90,272.22 L391.20,272.68 L391.50,272.35 L391.80,273.61 L392.10,272.45 L392.40,273.54 L392.70,272.53 L393.00,272.55 L393.30,272.76 L393.60,273.72 L393.90,272.64 L394.20,272.54 L394.50,273.54 L394.80,272.67 L395.10,273.21 L395.40,273.04 L395.70,273.43 L396.00,273.07 L396.30,272.63 L396.60,272.47 L396.90,273.66 L397.20,272.63 L397.50,272.68 L397.80,273.23 L398.10,273.86 L398.40,272.87 L398.70,272.81 L399.00,272.85 L399.30,273.04 L399.60,273.81 L399.90,273.25 L400.20,273.21 L400.50,272.81 L400.80,272.86 L401.10,273.05 L401.40,273.64 L401.70,273.81 L402.00,273.66 L402.30,272.66 L402.60,273.87 L402.90,272.81 L403.20,272.85 L403.50,273.10 L403.80,272.48 L404.10,273.18 L404.40,273.90 L404.70,272.51 L405.00,273.94 L405.30,273.01 L405.60,272.74 L405.90,273.23 L406.20,272.49 L406.50,272.89 L406.80,273.61 L407.10,272.83 L407.40,273.57 L407.70,272.81 L408.00,273.60 L408.30,273.55 L408.60,273.31 L408.90,273.12 L409.20,272.72 L409.50,272.52 L409.80,273.21 L410.10,272.93 L410.40,273.77 L410.70,272.54 L411.00,272.50 L411.30,272.92 L411.60,273.27 L411.90,273.60 L412.20,273.42 L412.50,272.79 L412.80,272.49 L413.10,273.48 L413.40,272.56 L413.70,273.68 L414.00,273.41 L414.30,273.88 L414.60,273.10 L414.90,273.14 L415.20,273.44 L415.50,272.55 L415.80,273.80 L416.10,273.37 L416.40,273.53 L416.70,272.49 L417.00,272.85 L417.30,272.63 L417.60,272.92 L417.90,273.02 L418.20,273.94 L418.50,273.16 L418.80,273.32 L419.10,273.08 L419.40,273.07 L419.70,272.49 L420.00,273.52 L420.30,273.20 L420.60,272.72 L420.90,273.65 L421.20,272.41 L421.50,273.86 L421.80,273.29 L422.10,273.78 L422.40,273.22 L422.70,272.60" fill="none" stroke="#52a7d8" stroke-width="1.2"/>
<path d="M246.85,270.05 L247.20,267.60 L247.55,269.95 M256.95,266.96 L257.30,259.00 L257.65,267.75 M340.75,271.13 L341.10,265.30 L341.45,270.90 M352.95,269.25 L353.30,265.80 L353.65,269.16 M361.85,263.00 L362.20,256.60 L362.55,263.09 " fill="none" stroke="#52a7d8" stroke-width="0.85" stroke-linejoin="miter" stroke-miterlimit="10"/>
<path d="M244.00,294.15 L244.35,294.62 L244.70,294.30 L245.05,294.09 L245.40,294.10 L245.75,294.32 L246.10,294.26 L246.45,294.29 L246.80,293.85 L246.80,294.01 L247.20,293.97 L247.60,293.94 L247.85,293.92 L248.20,293.77 L248.55,294.10 L248.90,293.86 L249.25,293.63 L249.60,293.71 L249.95,293.69 L250.30,293.46 L250.65,293.74 L251.00,294.02 L251.35,293.30 L251.70,293.31 L252.05,293.29 L252.40,293.11 L252.75,293.33 L253.10,293.06 L253.45,292.82 L253.80,293.00 L254.15,292.69 L254.50,292.51 L254.85,292.27 L255.20,292.32 L255.55,292.26 L255.90,291.52 L256.25,291.58 L256.60,291.24 L256.95,292.03 L257.00,291.37 L257.40,291.77 L257.80,292.22 L258.00,292.28 L258.35,292.96 L258.70,292.84 L259.05,293.32 L259.40,293.50 L259.75,293.76 L260.10,293.98 L260.45,293.99 L260.80,294.35 L261.15,294.12 L261.50,294.30 L261.85,294.12 L262.20,294.32 L262.55,294.69 L262.90,294.20 L263.25,294.38 L263.60,294.33 L263.95,294.43 L264.30,294.55 L264.65,294.29 L265.00,294.31 L265.35,294.40 L265.70,294.28 L266.05,294.54 L266.40,294.54 L266.75,294.37 L267.10,294.55 L267.45,294.47 L267.80,294.39 L268.15,294.66 L268.50,294.67 L268.85,294.47 L269.20,294.72 L269.55,294.75 L269.90,294.54 L270.25,294.35 L270.60,294.36 L270.95,294.37 L271.30,294.56 L271.65,294.69 L272.00,294.68 L272.35,294.69 L272.70,294.70 L273.05,294.63 L273.40,294.34 L273.75,294.55 L274.10,294.44 L274.45,294.59 L274.80,294.34 L275.15,294.41 L275.50,294.38 L275.85,294.68 L276.20,294.67 L276.55,294.62 L276.90,294.72 L277.25,294.78 L277.60,294.53 L277.95,294.62 L278.30,294.48 L278.65,294.53 L279.00,294.40 L279.35,294.50 L279.70,294.09 L280.05,293.86 L280.40,293.97 L280.75,293.41 L281.10,293.28 L281.45,292.99 L281.80,292.91 L282.15,292.79 L282.50,292.95 L282.85,292.75 L283.20,292.67 L283.55,292.44 L283.90,292.40 L284.25,292.51 L284.60,292.41 L284.95,292.28 L285.30,292.14 L285.65,291.74 L286.00,291.84 L286.35,291.35 L286.70,290.80 L287.05,290.11 L287.40,289.63 L287.75,289.33 L288.10,289.25 L288.45,289.03 L288.80,289.13 L289.15,289.66 L289.50,289.58 L289.85,290.40 L290.20,290.93 L290.55,291.13 L290.90,291.65 L291.25,292.13 L291.60,292.73 L291.95,292.75 L292.30,293.32 L292.65,293.32 L293.00,293.78 L293.35,293.87 L293.70,294.07 L294.05,293.97 L294.40,294.30 L294.75,294.43 L295.10,294.46 L295.45,294.56 L295.80,294.94 L296.15,294.97 L296.50,295.02 L296.85,295.04 L297.20,295.12 L297.55,295.27 L297.90,295.63 L298.25,295.41 L298.60,295.47 L298.95,295.48 L299.30,295.31 L299.65,295.29 L300.00,295.32 L300.35,295.43 L300.70,296.15 L301.05,295.68 L301.40,295.42 L301.75,295.75 L302.10,295.52 L302.45,295.47 L302.80,295.63 L303.15,295.66 L303.50,295.92 L303.85,295.59 L304.20,295.67 L304.55,295.92 L304.90,295.84 L305.25,295.90 L305.60,295.86 L305.95,296.47 L306.30,296.02 L306.65,295.89 L307.00,295.79 L307.35,295.66 L307.70,295.70 L308.05,295.74 L308.40,295.92 L308.75,296.02 L309.10,296.10 L309.45,295.91 L309.80,295.82 L310.15,295.85 L310.50,295.87 L310.85,295.85 L311.20,296.08 L311.55,295.73 L311.90,296.01 L312.25,296.72 L312.60,295.76 L312.95,297.94 L313.30,296.03 L313.65,296.04 L314.00,295.57 L314.35,296.65 L314.70,296.73 L315.05,296.35 L315.40,296.40 L315.75,296.50 L316.10,296.03 L316.45,295.49 L316.80,296.28 L317.15,296.55 L317.50,296.50 L317.85,295.90 L318.20,295.85 L318.55,296.58 L318.90,296.65 L319.25,296.13 L319.60,295.90 L319.95,295.66 L320.30,296.12 L320.65,296.01 L321.00,296.37 L321.35,295.85 L321.70,296.24 L322.05,296.08 L322.40,296.87 L322.75,296.52 L323.10,296.54 L323.45,296.66 L323.80,296.55 L324.15,295.70 L324.50,296.54 L324.85,296.65 L325.20,296.85 L325.55,295.90 L325.90,295.69 L326.25,296.95 L326.60,296.37 L326.95,296.69 L327.30,296.07 L327.65,296.61 L328.00,296.65 L328.35,296.65 L328.70,296.54 L329.05,297.16 L329.40,296.36 L329.75,296.39 L330.10,296.47 L330.45,295.97 L330.80,296.74 L331.15,296.00 L331.50,296.70 L331.85,296.21 L332.20,296.37 L332.55,296.41 L332.90,296.78 L333.25,296.75 L333.60,295.94 L333.95,296.95 L334.30,297.34 L334.65,296.46 L335.00,296.11 L335.35,296.47 L335.70,296.99 L336.05,296.09 L336.40,296.06 L336.75,296.86 L337.10,296.34 L337.45,296.59 L337.80,296.28 L338.15,296.18 L338.50,296.73 L338.85,296.78 L339.20,296.90 L339.55,296.51 L339.90,296.50 L340.25,296.63 L340.60,296.89 L340.95,296.83 L341.00,296.00 L341.40,295.94 L341.80,295.88 L342.00,295.64 L342.35,296.33 L342.70,295.30 L343.05,296.49 L343.40,295.28 L343.75,296.16 L344.10,295.25 L344.45,295.20 L344.80,296.03 L345.15,295.46 L345.50,295.75 L345.85,295.28 L346.20,295.34 L346.55,295.53 L346.90,295.22 L347.25,295.33 L347.60,295.26 L347.95,295.25 L348.30,295.25 L348.65,295.66 L349.00,294.99 L349.35,295.24 L349.70,294.85 L350.05,295.69 L350.40,295.77 L350.75,294.93 L351.10,294.57 L351.45,294.29 L351.80,294.21 L352.15,294.17 L352.50,294.51 L352.85,294.24 L352.90,294.23 L353.30,294.15 L353.70,294.07 L353.90,293.88 L354.25,293.88 L354.60,293.74 L354.95,294.44 L355.30,293.67 L355.65,293.73 L356.00,293.73 L356.35,294.30 L356.70,293.47 L357.05,293.10 L357.40,293.17 L357.75,293.07 L358.10,293.10 L358.45,293.22 L358.80,292.12 L359.15,291.73 L359.50,291.86 L359.85,291.19 L360.20,290.75 L360.55,290.28 L360.90,290.16 L361.25,288.87 L361.60,288.40 L361.95,288.20 L362.00,288.33 L362.40,288.44 L362.80,288.61 L363.00,289.48 L363.35,289.26 L363.70,289.03 L364.05,289.40 L364.40,289.84 L364.75,290.23 L365.10,290.47 L365.45,290.34 L365.80,291.15 L366.15,291.50 L366.50,291.68 L366.85,292.12 L367.20,292.25 L367.55,292.94 L367.90,293.20 L368.25,293.71 L368.60,293.60 L368.95,293.60 L369.30,293.86 L369.65,294.07 L370.00,294.12 L370.35,294.32 L370.70,294.02 L371.05,294.54 L371.40,294.74 L371.75,294.66 L372.10,294.72 L372.38,294.80 L372.66,294.88 L372.94,295.10 L373.22,295.04 L373.50,295.24 L373.78,295.40 L374.06,295.23 L374.34,295.31 L374.62,295.47 L374.90,295.44 L375.18,295.65 L375.46,296.02 L375.74,295.67 L376.02,295.88 L376.30,296.16 L376.58,296.25 L376.86,295.80 L377.14,296.45 L377.42,295.99 L377.70,296.42 L377.98,295.97 L378.26,296.92 L378.54,296.72 L378.82,296.75 L379.10,296.36 L379.38,296.44 L379.66,296.71 L379.94,297.02 L380.22,296.67 L380.50,297.38 L380.78,296.85 L381.06,297.14 L381.34,296.68 L381.62,296.96 L381.90,297.33 L382.18,296.44 L382.46,296.18 L382.74,296.32 L383.02,296.94 L383.30,296.45 L383.58,296.09 L383.86,297.48 L384.14,297.05 L384.42,296.67 L384.70,296.06 L384.98,297.67 L385.26,297.02 L385.54,296.69 L385.82,297.75 L386.10,297.00 L386.38,296.20 L386.66,297.50 L386.94,297.71 L387.22,297.40 L387.50,297.40 L387.78,296.81 L388.06,296.09 L388.34,297.47 L388.62,296.93 L388.90,297.22 L389.18,296.99 L389.46,297.54 L389.74,296.23 L390.02,298.22 L390.30,297.79 L390.58,297.52 L390.86,297.42 L391.14,296.30 L391.42,297.52 L391.70,297.23 L391.98,296.55 L392.26,296.48 L392.54,297.06 L392.82,296.99 L393.10,297.00 L393.38,297.52 L393.66,296.18 L393.94,296.50 L394.22,296.85 L394.50,296.66 L394.78,296.79 L395.06,297.46 L395.34,297.48 L395.62,297.53 L395.90,297.39 L396.18,296.74 L396.46,297.82 L396.74,297.61 L397.02,297.38 L397.30,297.49 L397.58,297.43 L397.86,297.66 L398.14,297.41 L398.42,297.13 L398.70,297.46 L398.98,296.40 L399.26,297.72 L399.54,296.84 L399.82,297.79 L400.10,296.38 L400.38,297.11 L400.66,297.35 L400.94,297.01 L401.22,296.47 L401.50,296.90 L401.78,297.70 L402.06,297.85 L402.34,297.51 L402.62,297.44 L402.90,297.23 L403.18,297.20 L403.46,297.85 L403.74,298.01 L404.02,297.10 L404.30,298.48 L404.58,297.86 L404.86,296.27 L405.14,296.45 L405.42,297.19 L405.70,297.48 L405.98,297.24 L406.26,297.83 L406.54,297.72 L406.82,297.80 L407.10,297.57 L407.38,296.66 L407.66,297.17 L407.94,297.20 L408.22,297.29 L408.50,297.56 L408.78,296.93 L409.06,297.82 L409.34,296.71 L409.62,297.19 L409.90,297.38 L410.18,296.68 L410.46,297.43 L410.74,296.51 L411.02,297.71 L411.30,297.88 L411.58,296.64 L411.86,297.10 L412.14,297.22 L412.42,296.28 L412.70,296.43 L412.98,296.41 L413.26,296.53 L413.54,297.43 L413.82,297.53 L414.10,296.65 L414.38,297.85 L414.66,297.65 L414.94,296.87 L415.22,296.37 L415.50,297.56 L415.78,296.38 L416.06,296.87 L416.34,296.35 L416.62,297.16 L416.90,296.81 L417.18,297.29 L417.46,297.10 L417.74,297.33 L418.02,297.81 L418.30,296.55 L418.58,297.29 L418.86,296.79 L419.14,297.01 L419.42,296.42 L419.70,297.55 L419.98,296.59 L420.26,297.52 L420.54,297.48 L420.82,296.78 L421.10,297.31 L421.38,297.02 L421.66,297.02 L421.94,297.63 L422.22,297.42 L422.50,296.49 L422.78,297.01" fill="none" stroke="#5cb5dc" stroke-width="1.15" stroke-linejoin="miter" stroke-miterlimit="2"/>
<path d="M372.00,294.67 L372.30,294.80 L372.60,294.90 L372.90,294.99 L373.20,295.15 L373.50,295.30 L373.80,295.40 L374.10,295.35 L374.40,295.55 L374.70,295.54 L375.00,295.73 L375.30,295.59 L375.60,295.96 L375.90,295.89 L376.20,296.13 L376.50,296.29 L376.80,295.95 L377.10,296.44 L377.40,296.59 L377.70,296.18 L378.00,296.54 L378.30,296.77 L378.60,296.19 L378.90,296.73 L379.20,296.48 L379.50,296.67 L379.80,296.42 L380.10,296.66 L380.40,297.18 L380.70,296.59 L381.00,296.76 L381.30,296.48 L381.60,296.77 L381.90,296.60 L382.20,296.79 L382.50,296.86 L382.80,297.00 L383.10,297.11 L383.40,297.11 L383.70,296.40 L384.00,296.96 L384.30,297.57 L384.60,297.42 L384.90,297.16 L385.20,297.21 L385.50,296.79 L385.80,296.44 L386.10,296.69 L386.40,297.52 L386.70,296.88 L387.00,296.98 L387.30,296.77 L387.60,296.44 L387.90,297.07 L388.20,296.52 L388.50,297.39 L388.80,297.11 L389.10,296.57 L389.40,296.69 L389.70,296.50 L390.00,296.63 L390.30,296.79 L390.60,296.90 L390.90,296.92 L391.20,296.51 L391.50,297.57 L391.80,296.93 L392.10,297.63 L392.40,296.67 L392.70,297.26 L393.00,297.48 L393.30,296.93 L393.60,297.35 L393.90,296.78 L394.20,297.31 L394.50,296.67 L394.80,297.48 L395.10,297.57 L395.40,296.81 L395.70,296.78 L396.00,297.32 L396.30,296.87 L396.60,297.19 L396.90,296.96 L397.20,297.59 L397.50,297.22 L397.80,297.52 L398.10,297.11 L398.40,297.17 L398.70,297.45 L399.00,297.51 L399.30,297.38 L399.60,297.01 L399.90,297.25 L400.20,297.37 L400.50,296.74 L400.80,296.64 L401.10,297.23 L401.40,296.81 L401.70,297.37 L402.00,296.52 L402.30,297.32 L402.60,296.56 L402.90,296.53 L403.20,296.71 L403.50,296.92 L403.80,296.66 L404.10,297.22 L404.40,297.54 L404.70,297.25 L405.00,296.75 L405.30,297.58 L405.60,297.68 L405.90,297.00 L406.20,297.67 L406.50,297.24 L406.80,296.53 L407.10,296.56 L407.40,296.71 L407.70,297.68 L408.00,296.75 L408.30,297.59 L408.60,297.40 L408.90,297.63 L409.20,297.29 L409.50,296.82 L409.80,297.46 L410.10,296.57 L410.40,296.94 L410.70,296.94 L411.00,297.46 L411.30,297.03 L411.60,296.70 L411.90,296.69 L412.20,296.76 L412.50,297.01 L412.80,297.16 L413.10,296.54 L413.40,297.69 L413.70,297.25 L414.00,296.85 L414.30,297.26 L414.60,297.72 L414.90,296.71 L415.20,296.62 L415.50,296.84 L415.80,297.23 L416.10,297.62 L416.40,297.18 L416.70,296.66 L417.00,297.36 L417.30,297.66 L417.60,297.33 L417.90,296.77 L418.20,297.24 L418.50,297.27 L418.80,297.31 L419.10,296.92 L419.40,297.20 L419.70,297.06 L420.00,297.42 L420.30,296.71 L420.60,297.39 L420.90,297.64 L421.20,297.04 L421.50,296.85 L421.80,296.84 L422.10,296.92 L422.40,297.28 L422.70,297.16" fill="none" stroke="#5cb5dc" stroke-width="1.2"/>
<path d="M246.85,294.30 L247.20,292.30 L247.55,294.24 M257.05,291.71 L257.40,283.40 L257.75,292.47 M341.05,296.30 L341.40,289.90 L341.75,296.19 M352.95,294.52 L353.30,291.70 L353.65,294.38 M362.05,288.64 L362.40,282.50 L362.75,288.89 " fill="none" stroke="#5cb5dc" stroke-width="0.85" stroke-linejoin="miter" stroke-miterlimit="10"/>
<path d="M244.00,320.31 L244.35,320.35 L244.70,320.40 L245.05,320.43 L245.40,320.23 L245.75,320.47 L246.10,320.27 L246.45,320.43 L246.80,320.37 L246.80,320.25 L247.20,320.20 L247.60,320.14 L247.85,320.07 L248.20,319.94 L248.55,319.98 L248.90,319.93 L249.25,320.05 L249.60,319.96 L249.95,319.74 L250.30,319.57 L250.65,319.41 L251.00,319.51 L251.35,319.21 L251.70,319.41 L252.05,319.17 L252.40,319.03 L252.75,318.92 L253.10,318.86 L253.45,318.71 L253.80,318.50 L254.15,318.74 L254.50,318.20 L254.85,318.05 L255.20,318.20 L255.55,317.65 L255.90,317.50 L256.25,317.12 L256.60,316.95 L256.80,316.96 L257.20,317.34 L257.60,317.90 L257.65,318.14 L258.00,318.44 L258.35,318.95 L258.70,319.26 L259.05,319.68 L259.40,319.87 L259.75,319.99 L260.10,319.98 L260.45,320.40 L260.80,320.69 L261.15,320.23 L261.50,320.59 L261.85,320.64 L262.20,320.68 L262.55,320.60 L262.90,320.61 L263.25,320.80 L263.60,320.79 L263.95,320.88 L264.30,321.01 L264.65,321.07 L265.00,321.03 L265.35,320.87 L265.70,320.92 L266.05,320.73 L266.40,320.76 L266.75,320.94 L267.10,320.98 L267.45,320.99 L267.80,321.11 L268.15,320.97 L268.50,320.79 L268.85,320.85 L269.20,320.88 L269.55,321.20 L269.90,320.89 L270.25,320.90 L270.60,320.96 L270.95,321.17 L271.30,320.88 L271.65,320.82 L272.00,321.14 L272.35,320.82 L272.70,321.17 L273.05,320.83 L273.40,321.16 L273.75,320.84 L274.10,320.85 L274.45,320.99 L274.80,320.89 L275.15,321.16 L275.50,320.86 L275.85,320.98 L276.20,320.97 L276.55,321.06 L276.90,320.87 L277.25,320.97 L277.60,320.90 L277.95,321.07 L278.30,321.26 L278.65,321.25 L279.00,321.18 L279.35,320.86 L279.70,320.13 L280.05,319.58 L280.40,319.16 L280.75,317.70 L281.10,317.40 L281.45,316.73 L281.80,316.54 L282.15,316.54 L282.50,316.71 L282.85,317.11 L283.20,317.31 L283.55,317.88 L283.90,317.94 L284.25,318.27 L284.60,318.22 L284.95,318.47 L285.30,318.51 L285.65,318.06 L286.00,318.24 L286.35,317.96 L286.70,317.50 L287.05,317.59 L287.40,316.97 L287.75,316.95 L288.10,316.56 L288.45,316.39 L288.80,316.29 L289.15,316.42 L289.50,316.48 L289.85,316.46 L290.20,317.08 L290.55,317.21 L290.90,317.29 L291.25,318.24 L291.60,318.27 L291.95,318.31 L292.30,318.65 L292.65,318.75 L293.00,318.90 L293.35,319.10 L293.70,319.30 L294.05,319.42 L294.40,319.70 L294.75,320.20 L295.10,320.20 L295.45,320.09 L295.80,320.23 L296.15,320.59 L296.50,320.63 L296.85,320.69 L297.20,320.98 L297.55,320.66 L297.90,320.94 L298.25,320.84 L298.60,321.19 L298.95,321.31 L299.30,321.15 L299.65,321.12 L300.00,321.37 L300.35,321.52 L300.70,321.42 L301.05,321.37 L301.40,321.63 L301.75,321.43 L302.10,321.47 L302.45,321.48 L302.80,321.47 L303.15,321.47 L303.50,321.73 L303.85,321.88 L304.20,321.93 L304.55,321.87 L304.90,321.60 L305.25,321.97 L305.60,321.61 L305.95,321.83 L306.30,321.99 L306.65,321.78 L307.00,322.02 L307.35,322.10 L307.70,321.84 L308.05,321.74 L308.40,322.15 L308.75,321.81 L309.10,321.79 L309.45,321.81 L309.80,322.03 L310.15,321.96 L310.50,322.13 L310.85,322.12 L311.20,322.24 L311.55,321.98 L311.90,322.20 L312.25,322.49 L312.60,322.39 L312.95,322.44 L313.30,322.78 L313.65,322.67 L314.00,322.01 L314.35,322.18 L314.70,322.95 L315.05,321.91 L315.40,322.84 L315.75,322.86 L316.10,322.22 L316.45,322.77 L316.80,322.22 L317.15,322.88 L317.50,322.12 L317.85,321.94 L318.20,322.83 L318.55,322.24 L318.90,321.99 L319.25,322.44 L319.60,323.02 L319.95,322.10 L320.30,322.46 L320.65,322.73 L321.00,322.37 L321.35,322.15 L321.70,322.85 L322.05,321.96 L322.40,322.39 L322.75,324.68 L323.10,321.98 L323.45,322.71 L323.80,322.24 L324.15,323.28 L324.50,322.16 L324.85,322.19 L325.20,322.93 L325.55,323.41 L325.90,322.91 L326.25,322.91 L326.60,322.95 L326.95,322.58 L327.30,322.23 L327.65,322.77 L328.00,322.41 L328.35,323.19 L328.70,322.63 L329.05,322.38 L329.40,322.25 L329.75,323.28 L330.10,322.29 L330.45,322.22 L330.80,323.08 L331.15,322.38 L331.50,322.70 L331.85,323.52 L332.20,323.25 L332.55,322.80 L332.90,323.26 L333.25,323.44 L333.60,323.39 L333.95,323.42 L334.30,323.40 L334.65,323.61 L335.00,323.46 L335.35,323.11 L335.70,322.64 L336.05,323.46 L336.40,323.20 L336.75,322.75 L337.10,323.53 L337.45,323.81 L337.80,323.10 L338.15,323.36 L338.50,323.65 L338.85,322.63 L339.20,324.05 L339.55,322.73 L339.90,322.79 L340.25,322.97 L340.60,322.85 L340.95,322.93 L341.00,322.17 L341.40,322.04 L341.80,321.91 L342.00,321.86 L342.35,322.39 L342.70,322.03 L343.05,322.39 L343.40,321.21 L343.75,322.27 L344.10,321.55 L344.45,323.55 L344.80,321.16 L345.15,321.12 L345.50,321.37 L345.85,321.34 L346.20,321.31 L346.55,320.92 L346.90,320.95 L347.25,321.20 L347.60,321.15 L347.95,320.57 L348.30,320.74 L348.65,320.95 L349.00,321.40 L349.35,320.34 L349.70,320.43 L350.05,320.42 L350.40,320.30 L350.75,321.09 L351.10,320.04 L351.45,320.11 L351.80,321.14 L352.15,320.68 L352.50,320.01 L352.85,320.32 L352.90,319.93 L353.30,319.86 L353.70,319.79 L353.90,319.73 L354.25,319.90 L354.60,319.91 L354.95,319.31 L355.30,319.42 L355.65,319.46 L356.00,319.19 L356.35,319.21 L356.70,318.98 L357.05,318.87 L357.40,318.70 L357.75,318.41 L358.10,317.87 L358.45,317.28 L358.80,316.83 L359.15,316.59 L359.50,316.43 L359.85,315.86 L360.20,315.40 L360.55,315.50 L360.90,314.82 L361.25,314.80 L361.60,314.00 L361.95,314.39 L362.00,314.03 L362.40,314.14 L362.80,314.31 L363.00,314.59 L363.35,314.62 L363.70,315.02 L364.05,315.96 L364.40,315.14 L364.75,315.58 L365.10,316.02 L365.45,316.60 L365.80,316.56 L366.15,317.05 L366.50,317.55 L366.85,317.95 L367.20,317.81 L367.55,318.17 L367.90,318.69 L368.25,318.57 L368.60,318.73 L368.95,319.11 L369.30,319.13 L369.65,319.51 L370.00,319.54 L370.35,319.70 L370.70,320.06 L371.05,319.96 L371.40,320.06 L371.75,320.21 L372.10,320.45 L372.38,320.58 L372.66,320.74 L372.94,320.85 L373.22,320.91 L373.50,321.09 L373.78,321.16 L374.06,321.44 L374.34,321.30 L374.62,321.22 L374.90,321.50 L375.18,321.49 L375.46,321.85 L375.74,321.72 L376.02,321.85 L376.30,322.33 L376.58,322.46 L376.86,322.19 L377.14,322.39 L377.42,321.90 L377.70,322.78 L377.98,321.99 L378.26,322.70 L378.54,322.28 L378.82,322.48 L379.10,322.68 L379.38,322.82 L379.66,323.40 L379.94,322.46 L380.22,322.43 L380.50,322.25 L380.78,323.38 L381.06,322.83 L381.34,323.44 L381.62,323.01 L381.90,323.18 L382.18,322.48 L382.46,323.09 L382.74,323.86 L383.02,323.00 L383.30,323.79 L383.58,322.98 L383.86,323.42 L384.14,323.77 L384.42,323.06 L384.70,322.76 L384.98,323.25 L385.26,323.32 L385.54,323.24 L385.82,322.49 L386.10,322.28 L386.38,323.78 L386.66,323.97 L386.94,322.55 L387.22,323.62 L387.50,323.52 L387.78,323.11 L388.06,323.65 L388.34,323.92 L388.62,323.51 L388.90,323.13 L389.18,323.05 L389.46,322.92 L389.74,323.00 L390.02,323.55 L390.30,323.21 L390.58,323.58 L390.86,323.64 L391.14,323.19 L391.42,323.84 L391.70,322.78 L391.98,322.62 L392.26,322.89 L392.54,323.15 L392.82,323.32 L393.10,323.57 L393.38,323.08 L393.66,323.87 L393.94,323.21 L394.22,322.83 L394.50,323.46 L394.78,323.69 L395.06,323.95 L395.34,322.37 L395.62,324.10 L395.90,323.64 L396.18,323.57 L396.46,322.47 L396.74,322.83 L397.02,322.93 L397.30,322.84 L397.58,323.91 L397.86,322.83 L398.14,322.52 L398.42,322.65 L398.70,323.72 L398.98,323.29 L399.26,324.08 L399.54,322.85 L399.82,324.08 L400.10,323.58 L400.38,323.24 L400.66,323.81 L400.94,323.30 L401.22,323.89 L401.50,322.68 L401.78,323.82 L402.06,323.69 L402.34,322.58 L402.62,323.31 L402.90,322.60 L403.18,322.37 L403.46,323.05 L403.74,323.39 L404.02,323.02 L404.30,323.39 L404.58,323.20 L404.86,323.66 L405.14,323.12 L405.42,322.60 L405.70,323.74 L405.98,323.51 L406.26,322.46 L406.54,323.42 L406.82,323.20 L407.10,323.67 L407.38,322.79 L407.66,322.53 L407.94,323.32 L408.22,324.05 L408.50,323.28 L408.78,324.07 L409.06,322.76 L409.34,323.74 L409.62,324.15 L409.90,323.57 L410.18,323.73 L410.46,323.65 L410.74,323.36 L411.02,323.79 L411.30,323.89 L411.58,323.64 L411.86,324.03 L412.14,323.78 L412.42,323.73 L412.70,323.43 L412.98,322.89 L413.26,323.01 L413.54,324.16 L413.82,323.64 L414.10,322.76 L414.38,324.13 L414.66,323.49 L414.94,322.94 L415.22,323.87 L415.50,323.59 L415.78,323.41 L416.06,323.09 L416.34,324.03 L416.62,323.69 L416.90,323.94 L417.18,324.02 L417.46,323.04 L417.74,323.94 L418.02,324.90 L418.30,323.25 L418.58,323.82 L418.86,323.38 L419.14,324.02 L419.42,324.12 L419.70,323.69 L419.98,323.21 L420.26,322.43 L420.54,323.10 L420.82,323.98 L421.10,323.95 L421.38,323.37 L421.66,323.48 L421.94,324.06 L422.22,324.40 L422.50,323.02 L422.78,323.88" fill="none" stroke="#6cc1e2" stroke-width="1.15" stroke-linejoin="miter" stroke-miterlimit="2"/>
<path d="M372.00,320.41 L372.30,320.52 L372.60,320.65 L372.90,320.74 L373.20,320.95 L373.50,320.96 L373.80,321.10 L374.10,321.33 L374.40,321.21 L374.70,321.51 L375.00,321.37 L375.30,321.81 L375.60,321.61 L375.90,322.03 L376.20,321.88 L376.50,322.18 L376.80,322.29 L377.10,322.19 L377.40,322.14 L377.70,322.42 L378.00,322.57 L378.30,322.23 L378.60,322.29 L378.90,322.96 L379.20,322.36 L379.50,322.53 L379.80,322.57 L380.10,323.17 L380.40,322.42 L380.70,323.17 L381.00,322.54 L381.30,322.66 L381.60,323.00 L381.90,323.26 L382.20,323.14 L382.50,322.81 L382.80,323.39 L383.10,323.13 L383.40,323.77 L383.70,322.78 L384.00,323.12 L384.30,323.47 L384.60,323.64 L384.90,322.93 L385.20,323.56 L385.50,322.87 L385.80,322.81 L386.10,323.40 L386.40,323.80 L386.70,323.62 L387.00,322.62 L387.30,323.11 L387.60,323.54 L387.90,323.55 L388.20,323.61 L388.50,322.59 L388.80,322.70 L389.10,323.24 L389.40,322.91 L389.70,323.40 L390.00,323.48 L390.30,323.16 L390.60,322.63 L390.90,323.11 L391.20,323.33 L391.50,323.25 L391.80,322.82 L392.10,323.48 L392.40,323.30 L392.70,323.42 L393.00,323.33 L393.30,322.96 L393.60,323.71 L393.90,323.21 L394.20,322.73 L394.50,322.98 L394.80,323.69 L395.10,323.19 L395.40,323.58 L395.70,322.93 L396.00,323.25 L396.30,323.16 L396.60,323.30 L396.90,323.56 L397.20,323.75 L397.50,323.26 L397.80,322.71 L398.10,323.81 L398.40,323.84 L398.70,323.64 L399.00,323.20 L399.30,323.94 L399.60,323.80 L399.90,323.86 L400.20,323.21 L400.50,323.47 L400.80,322.93 L401.10,322.97 L401.40,323.28 L401.70,323.09 L402.00,322.86 L402.30,322.72 L402.60,323.81 L402.90,322.83 L403.20,323.14 L403.50,322.84 L403.80,323.21 L404.10,323.63 L404.40,323.06 L404.70,323.36 L405.00,322.78 L405.30,323.85 L405.60,323.95 L405.90,323.44 L406.20,323.02 L406.50,323.30 L406.80,323.30 L407.10,322.77 L407.40,322.85 L407.70,322.86 L408.00,323.63 L408.30,323.82 L408.60,323.23 L408.90,323.18 L409.20,322.85 L409.50,323.37 L409.80,323.59 L410.10,323.07 L410.40,323.88 L410.70,323.95 L411.00,323.07 L411.30,323.87 L411.60,323.58 L411.90,323.27 L412.20,323.29 L412.50,323.17 L412.80,322.77 L413.10,323.51 L413.40,323.17 L413.70,323.59 L414.00,323.43 L414.30,323.38 L414.60,323.54 L414.90,322.76 L415.20,322.91 L415.50,323.45 L415.80,323.59 L416.10,322.95 L416.40,323.42 L416.70,323.12 L417.00,323.97 L417.30,323.58 L417.60,323.80 L417.90,323.76 L418.20,323.77 L418.50,323.92 L418.80,322.98 L419.10,322.85 L419.40,323.34 L419.70,323.14 L420.00,323.13 L420.30,322.91 L420.60,323.91 L420.90,322.97 L421.20,323.53 L421.50,322.85 L421.80,322.76 L422.10,323.96 L422.40,323.17 L422.70,323.59" fill="none" stroke="#6cc1e2" stroke-width="1.2"/>
<path d="M246.85,320.54 L247.20,318.60 L247.55,320.44 M256.85,317.29 L257.20,309.60 L257.55,318.13 M341.05,322.45 L341.40,316.20 L341.75,322.23 M352.95,320.22 L353.30,317.10 L353.65,320.10 M362.05,314.34 L362.40,308.40 L362.75,314.59 " fill="none" stroke="#6cc1e2" stroke-width="0.85" stroke-linejoin="miter" stroke-miterlimit="10"/>
<path d="M244.00,345.19 L244.35,345.54 L244.70,345.35 L245.05,345.37 L245.40,345.37 L245.75,345.54 L246.10,345.15 L246.45,345.39 L246.80,345.32 L246.80,345.21 L247.20,345.17 L247.60,345.14 L247.85,345.43 L248.20,345.14 L248.55,345.12 L248.90,345.04 L249.25,345.21 L249.60,344.91 L249.95,345.06 L250.30,345.07 L250.65,344.58 L251.00,344.73 L251.35,344.61 L251.70,344.49 L252.05,344.55 L252.40,344.37 L252.75,344.36 L253.10,344.38 L253.45,344.24 L253.80,344.70 L254.15,343.74 L254.50,343.64 L254.85,343.71 L255.20,343.54 L255.55,343.32 L255.90,342.87 L256.25,342.58 L256.60,342.29 L256.80,342.45 L257.20,342.76 L257.60,343.20 L257.65,343.20 L258.00,343.50 L258.35,344.03 L258.70,344.07 L259.05,344.54 L259.40,344.88 L259.75,344.64 L260.10,344.78 L260.45,344.99 L260.80,344.95 L261.15,345.18 L261.50,345.30 L261.85,345.13 L262.20,345.51 L262.55,345.53 L262.90,345.48 L263.25,345.37 L263.60,345.76 L263.95,345.76 L264.30,345.46 L264.65,345.84 L265.00,345.74 L265.35,345.43 L265.70,345.62 L266.05,345.75 L266.40,345.75 L266.75,345.77 L267.10,345.71 L267.45,345.53 L267.80,345.58 L268.15,345.72 L268.50,345.66 L268.85,345.46 L269.20,345.51 L269.55,345.74 L269.90,345.54 L270.25,345.93 L270.60,345.79 L270.95,345.54 L271.30,345.63 L271.65,345.64 L272.00,345.68 L272.35,345.67 L272.70,345.67 L273.05,345.96 L273.40,345.79 L273.75,345.88 L274.10,345.55 L274.45,345.83 L274.80,345.57 L275.15,345.62 L275.50,345.75 L275.85,345.69 L276.20,345.72 L276.55,345.92 L276.90,345.59 L277.25,345.84 L277.60,345.66 L277.95,345.78 L278.30,345.90 L278.65,345.30 L279.00,345.23 L279.35,344.92 L279.70,344.08 L280.05,344.09 L280.40,343.46 L280.75,343.00 L281.10,342.73 L281.45,342.40 L281.80,342.45 L282.15,342.63 L282.50,342.51 L282.85,342.85 L283.20,343.24 L283.55,343.26 L283.90,343.77 L284.25,343.86 L284.60,344.01 L284.95,343.98 L285.30,343.93 L285.65,344.30 L286.00,344.25 L286.35,343.89 L286.70,343.75 L287.05,343.89 L287.40,343.63 L287.75,343.57 L288.10,343.51 L288.45,343.43 L288.80,343.69 L289.15,343.64 L289.50,343.55 L289.85,343.90 L290.20,344.03 L290.55,343.99 L290.90,344.20 L291.25,344.51 L291.60,344.61 L291.95,344.95 L292.30,344.90 L292.65,344.95 L293.00,345.45 L293.35,344.98 L293.70,344.92 L294.05,345.13 L294.40,345.04 L294.75,345.23 L295.10,345.56 L295.45,345.58 L295.80,345.55 L296.15,345.39 L296.50,345.66 L296.85,345.64 L297.20,345.84 L297.55,345.63 L297.90,345.75 L298.25,345.64 L298.60,345.99 L298.95,346.03 L299.30,345.73 L299.65,345.90 L300.00,346.14 L300.35,346.19 L300.70,346.17 L301.05,345.93 L301.40,346.03 L301.75,346.27 L302.10,346.14 L302.45,346.28 L302.80,346.03 L303.15,346.00 L303.50,345.91 L303.85,346.34 L304.20,346.20 L304.55,346.04 L304.90,346.12 L305.25,346.13 L305.60,346.60 L305.95,346.25 L306.30,346.25 L306.65,346.00 L307.00,346.44 L307.35,346.05 L307.70,346.38 L308.05,346.04 L308.40,346.35 L308.75,346.33 L309.10,346.45 L309.45,346.13 L309.80,346.25 L310.15,346.36 L310.50,346.14 L310.85,346.42 L311.20,346.10 L311.55,346.43 L311.90,346.22 L312.25,346.87 L312.60,346.74 L312.95,347.10 L313.30,346.08 L313.65,346.97 L314.00,345.85 L314.35,346.65 L314.70,346.80 L315.05,346.98 L315.40,346.78 L315.75,346.95 L316.10,346.52 L316.45,347.02 L316.80,346.38 L317.15,346.16 L317.50,346.50 L317.85,346.85 L318.20,346.93 L318.55,346.91 L318.90,347.23 L319.25,347.71 L319.60,345.95 L319.95,346.81 L320.30,346.58 L320.65,346.83 L321.00,347.10 L321.35,346.58 L321.70,346.80 L322.05,346.49 L322.40,346.21 L322.75,346.85 L323.10,346.21 L323.45,346.20 L323.80,346.77 L324.15,346.29 L324.50,347.45 L324.85,346.25 L325.20,346.31 L325.55,346.96 L325.90,346.48 L326.25,346.82 L326.60,346.33 L326.95,346.83 L327.30,346.16 L327.65,346.23 L328.00,346.32 L328.35,346.65 L328.70,346.29 L329.05,346.28 L329.40,346.66 L329.75,347.24 L330.10,347.43 L330.45,346.81 L330.80,348.94 L331.15,346.27 L331.50,347.76 L331.85,346.68 L332.20,347.48 L332.55,347.31 L332.90,346.96 L333.25,347.49 L333.60,346.44 L333.95,346.49 L334.30,347.06 L334.65,347.13 L335.00,347.53 L335.35,346.53 L335.70,347.49 L336.05,346.90 L336.40,347.08 L336.75,346.77 L337.10,347.35 L337.45,346.49 L337.80,347.34 L338.15,347.22 L338.50,346.59 L338.85,346.70 L339.20,346.48 L339.55,346.72 L339.90,347.01 L340.25,347.44 L340.60,346.72 L340.95,347.10 L341.00,346.58 L341.40,346.54 L341.80,346.50 L342.00,346.53 L342.35,346.00 L342.70,347.24 L343.05,347.12 L343.40,347.21 L343.75,347.71 L344.10,346.49 L344.45,347.30 L344.80,346.02 L345.15,347.19 L345.50,346.17 L345.85,346.62 L346.20,346.63 L346.55,346.47 L346.90,346.11 L347.25,346.96 L347.60,346.17 L347.95,346.34 L348.30,346.03 L348.65,346.55 L349.00,346.48 L349.35,345.97 L349.70,345.96 L350.05,346.46 L350.40,345.87 L350.75,345.98 L351.10,345.99 L351.45,346.20 L351.80,346.02 L352.15,345.90 L352.50,345.88 L352.85,345.78 L352.90,345.66 L353.30,345.57 L353.70,345.46 L353.90,345.57 L354.25,345.66 L354.60,345.13 L354.95,345.19 L355.30,344.85 L355.65,345.18 L356.00,344.91 L356.35,344.72 L356.70,344.34 L357.05,344.11 L357.40,343.91 L357.75,343.32 L358.10,342.76 L358.45,342.66 L358.80,342.25 L359.15,341.78 L359.50,341.50 L359.85,340.79 L360.20,340.78 L360.55,340.53 L360.90,340.13 L361.25,339.80 L361.60,339.46 L361.95,339.48 L362.00,339.41 L362.40,339.46 L362.80,339.54 L363.00,339.91 L363.35,339.51 L363.70,340.16 L364.05,340.06 L364.40,339.90 L364.75,340.82 L365.10,340.86 L365.45,341.13 L365.80,341.39 L366.15,341.76 L366.50,342.36 L366.85,342.35 L367.20,342.91 L367.55,343.20 L367.90,343.50 L368.25,344.27 L368.60,344.10 L368.95,343.98 L369.30,344.39 L369.65,344.20 L370.00,344.71 L370.35,344.52 L370.70,345.13 L371.05,345.31 L371.40,345.16 L371.75,345.26 L372.10,345.38 L372.38,345.47 L372.66,345.58 L372.94,345.71 L373.22,345.75 L373.50,345.92 L373.78,345.90 L374.06,346.09 L374.34,346.08 L374.62,346.16 L374.90,346.17 L375.18,346.60 L375.46,346.73 L375.74,346.60 L376.02,346.43 L376.30,346.87 L376.58,346.84 L376.86,347.00 L377.14,347.22 L377.42,347.12 L377.70,347.45 L377.98,347.55 L378.26,347.06 L378.54,347.25 L378.82,347.34 L379.10,347.77 L379.38,347.51 L379.66,347.86 L379.94,347.02 L380.22,347.17 L380.50,347.26 L380.78,347.63 L381.06,347.54 L381.34,348.10 L381.62,347.73 L381.90,347.59 L382.18,348.27 L382.46,347.91 L382.74,348.26 L383.02,348.02 L383.30,347.58 L383.58,347.30 L383.86,347.60 L384.14,348.14 L384.42,348.25 L384.70,347.37 L384.98,346.96 L385.26,347.66 L385.54,348.31 L385.82,347.42 L386.10,348.15 L386.38,348.11 L386.66,347.95 L386.94,347.37 L387.22,347.98 L387.50,347.66 L387.78,348.01 L388.06,347.51 L388.34,347.45 L388.62,348.34 L388.90,348.05 L389.18,347.81 L389.46,347.18 L389.74,347.45 L390.02,347.90 L390.30,348.00 L390.58,347.38 L390.86,347.04 L391.14,347.35 L391.42,347.15 L391.70,347.44 L391.98,348.18 L392.26,348.35 L392.54,347.95 L392.82,347.54 L393.10,348.20 L393.38,347.18 L393.66,347.92 L393.94,347.69 L394.22,347.34 L394.50,347.54 L394.78,348.05 L395.06,347.86 L395.34,347.78 L395.62,347.47 L395.90,348.43 L396.18,347.24 L396.46,347.90 L396.74,347.81 L397.02,347.24 L397.30,347.75 L397.58,347.62 L397.86,347.13 L398.14,347.06 L398.42,348.07 L398.70,347.09 L398.98,347.99 L399.26,348.40 L399.54,347.80 L399.82,347.83 L400.10,347.00 L400.38,348.17 L400.66,347.53 L400.94,347.21 L401.22,347.41 L401.50,347.12 L401.78,347.78 L402.06,347.78 L402.34,348.31 L402.62,347.98 L402.90,347.46 L403.18,348.06 L403.46,348.45 L403.74,348.43 L404.02,348.25 L404.30,348.09 L404.58,347.62 L404.86,347.71 L405.14,347.75 L405.42,348.69 L405.70,348.47 L405.98,347.66 L406.26,347.29 L406.54,348.24 L406.82,348.46 L407.10,348.14 L407.38,348.29 L407.66,348.39 L407.94,347.28 L408.22,347.81 L408.50,347.74 L408.78,347.06 L409.06,348.36 L409.34,347.76 L409.62,347.61 L409.90,347.90 L410.18,347.78 L410.46,347.72 L410.74,347.96 L411.02,347.93 L411.30,347.89 L411.58,347.99 L411.86,348.44 L412.14,347.23 L412.42,348.18 L412.70,348.39 L412.98,348.27 L413.26,347.23 L413.54,348.87 L413.82,348.27 L414.10,347.45 L414.38,347.53 L414.66,349.05 L414.94,347.48 L415.22,347.69 L415.50,348.30 L415.78,348.04 L416.06,347.10 L416.34,348.16 L416.62,348.15 L416.90,348.02 L417.18,347.81 L417.46,348.27 L417.74,348.20 L418.02,348.26 L418.30,347.67 L418.58,348.95 L418.86,348.48 L419.14,347.10 L419.42,347.43 L419.70,347.54 L419.98,347.73 L420.26,347.39 L420.54,348.20 L420.82,348.22 L421.10,347.48 L421.38,347.37 L421.66,347.34 L421.94,347.83 L422.22,348.12 L422.50,348.35 L422.78,347.15" fill="none" stroke="#8fd0e8" stroke-width="1.15" stroke-linejoin="miter" stroke-miterlimit="2"/>
<path d="M372.00,345.34 L372.30,345.46 L372.60,345.59 L372.90,345.68 L373.20,345.78 L373.50,345.88 L373.80,345.95 L374.10,346.03 L374.40,346.07 L374.70,346.41 L375.00,346.47 L375.30,346.28 L375.60,346.44 L375.90,346.52 L376.20,346.78 L376.50,346.70 L376.80,346.84 L377.10,347.15 L377.40,347.03 L377.70,346.86 L378.00,347.29 L378.30,347.29 L378.60,347.30 L378.90,347.67 L379.20,347.10 L379.50,347.13 L379.80,347.34 L380.10,347.44 L380.40,347.35 L380.70,347.62 L381.00,347.58 L381.30,347.82 L381.60,347.26 L381.90,347.66 L382.20,348.12 L382.50,347.47 L382.80,347.16 L383.10,347.27 L383.40,347.51 L383.70,348.11 L384.00,347.88 L384.30,347.97 L384.60,347.21 L384.90,347.91 L385.20,347.73 L385.50,348.13 L385.80,347.34 L386.10,347.28 L386.40,347.21 L386.70,347.48 L387.00,347.73 L387.30,347.56 L387.60,348.19 L387.90,347.35 L388.20,347.33 L388.50,347.20 L388.80,347.98 L389.10,347.67 L389.40,347.56 L389.70,347.74 L390.00,347.28 L390.30,347.87 L390.60,347.91 L390.90,348.24 L391.20,348.17 L391.50,347.32 L391.80,348.15 L392.10,347.60 L392.40,347.60 L392.70,347.31 L393.00,347.81 L393.30,348.20 L393.60,347.36 L393.90,347.83 L394.20,347.92 L394.50,347.94 L394.80,347.29 L395.10,347.50 L395.40,347.91 L395.70,347.67 L396.00,347.60 L396.30,347.69 L396.60,347.65 L396.90,348.02 L397.20,347.64 L397.50,347.87 L397.80,347.48 L398.10,347.79 L398.40,347.48 L398.70,347.83 L399.00,348.08 L399.30,348.07 L399.60,347.44 L399.90,347.32 L400.20,347.61 L400.50,347.97 L400.80,347.48 L401.10,348.30 L401.40,347.72 L401.70,348.28 L402.00,348.02 L402.30,347.64 L402.60,347.65 L402.90,347.31 L403.20,347.53 L403.50,347.62 L403.80,348.01 L404.10,347.64 L404.40,347.95 L404.70,347.28 L405.00,347.82 L405.30,348.20 L405.60,347.92 L405.90,347.87 L406.20,347.81 L406.50,347.31 L406.80,347.48 L407.10,347.81 L407.40,348.01 L407.70,348.05 L408.00,347.41 L408.30,347.87 L408.60,348.07 L408.90,348.22 L409.20,347.82 L409.50,347.33 L409.80,347.67 L410.10,347.85 L410.40,348.17 L410.70,347.45 L411.00,347.60 L411.30,348.24 L411.60,348.07 L411.90,347.31 L412.20,348.19 L412.50,347.83 L412.80,348.31 L413.10,347.64 L413.40,347.74 L413.70,347.59 L414.00,348.20 L414.30,347.48 L414.60,347.92 L414.90,347.99 L415.20,347.36 L415.50,348.27 L415.80,348.07 L416.10,347.58 L416.40,348.20 L416.70,347.45 L417.00,348.07 L417.30,348.20 L417.60,347.70 L417.90,348.14 L418.20,347.53 L418.50,348.26 L418.80,348.33 L419.10,347.74 L419.40,348.32 L419.70,347.55 L420.00,348.19 L420.30,347.84 L420.60,348.13 L420.90,347.96 L421.20,347.42 L421.50,348.11 L421.80,347.58 L422.10,347.62 L422.40,347.82 L422.70,347.47" fill="none" stroke="#8fd0e8" stroke-width="1.2"/>
<path d="M246.85,345.50 L247.20,343.30 L247.55,345.44 M256.85,342.77 L257.20,334.90 L257.55,343.44 M341.05,346.88 L341.40,341.10 L341.75,346.80 M352.95,345.95 L353.30,343.30 L353.65,345.78 M362.05,339.72 L362.40,333.00 L362.75,339.83 " fill="none" stroke="#8fd0e8" stroke-width="0.85" stroke-linejoin="miter" stroke-miterlimit="10"/>
<path d="M244.00,369.96 L244.35,370.05 L244.70,370.11 L245.05,370.03 L245.40,369.90 L245.75,370.16 L246.10,369.94 L246.45,369.84 L246.80,369.93 L246.80,369.91 L247.20,369.87 L247.60,369.83 L247.85,369.77 L248.20,369.64 L248.55,369.75 L248.90,369.73 L249.25,369.76 L249.60,369.49 L249.95,369.75 L250.30,369.75 L250.65,369.30 L251.00,369.45 L251.35,369.40 L251.70,369.36 L252.05,369.19 L252.40,369.39 L252.75,369.04 L253.10,368.79 L253.45,368.92 L253.80,368.58 L254.15,368.41 L254.50,368.49 L254.85,368.23 L255.20,368.12 L255.55,368.12 L255.90,367.70 L256.25,367.58 L256.60,367.64 L256.80,367.54 L257.20,367.79 L257.60,368.16 L257.65,368.35 L258.00,368.62 L258.35,368.99 L258.70,369.01 L259.05,369.29 L259.40,369.70 L259.75,369.55 L260.10,369.65 L260.45,369.66 L260.80,370.09 L261.15,369.81 L261.50,370.14 L261.85,370.35 L262.20,370.29 L262.55,370.10 L262.90,370.46 L263.25,370.23 L263.60,370.40 L263.95,370.25 L264.30,370.16 L264.65,370.20 L265.00,370.54 L265.35,370.44 L265.70,370.36 L266.05,370.44 L266.40,370.60 L266.75,370.36 L267.10,370.21 L267.45,370.58 L267.80,370.52 L268.15,370.36 L268.50,370.34 L268.85,370.50 L269.20,370.61 L269.55,370.60 L269.90,370.84 L270.25,370.62 L270.60,370.40 L270.95,370.27 L271.30,370.36 L271.65,370.38 L272.00,370.67 L272.35,370.50 L272.70,370.54 L273.05,370.45 L273.40,370.66 L273.75,370.26 L274.10,370.33 L274.45,370.63 L274.80,370.63 L275.15,370.32 L275.50,370.63 L275.85,370.69 L276.20,370.32 L276.55,370.59 L276.90,370.45 L277.25,370.60 L277.60,370.56 L277.95,370.40 L278.30,370.93 L278.65,370.15 L279.00,369.76 L279.35,369.38 L279.70,368.84 L280.05,368.25 L280.40,368.07 L280.75,367.48 L281.10,367.42 L281.45,367.17 L281.80,367.16 L282.15,367.03 L282.50,367.35 L282.85,368.24 L283.20,368.22 L283.55,369.01 L283.90,368.95 L284.25,369.48 L284.60,369.76 L284.95,369.68 L285.30,369.92 L285.65,369.79 L286.00,370.22 L286.35,370.27 L286.70,370.22 L287.05,369.99 L287.40,370.26 L287.75,370.15 L288.10,370.39 L288.45,370.33 L288.80,370.56 L289.15,370.60 L289.50,370.41 L289.85,370.55 L290.20,370.44 L290.55,370.45 L290.90,370.70 L291.25,370.71 L291.60,370.55 L291.95,370.86 L292.30,371.12 L292.65,371.51 L293.00,370.76 L293.35,371.08 L293.70,370.84 L294.05,370.90 L294.40,371.03 L294.75,371.03 L295.10,371.00 L295.45,371.28 L295.80,371.25 L296.15,371.22 L296.50,371.45 L296.85,371.27 L297.20,371.43 L297.55,371.27 L297.90,371.64 L298.25,371.75 L298.60,371.64 L298.95,371.74 L299.30,371.45 L299.65,371.63 L300.00,371.80 L300.35,371.97 L300.70,371.67 L301.05,371.72 L301.40,371.85 L301.75,371.91 L302.10,371.65 L302.45,371.78 L302.80,372.01 L303.15,372.43 L303.50,372.11 L303.85,372.13 L304.20,372.12 L304.55,371.76 L304.90,372.10 L305.25,371.90 L305.60,371.98 L305.95,372.00 L306.30,372.14 L306.65,372.27 L307.00,372.18 L307.35,372.00 L307.70,372.02 L308.05,371.93 L308.40,372.13 L308.75,371.93 L309.10,372.14 L309.45,372.19 L309.80,372.20 L310.15,372.36 L310.50,371.97 L310.85,372.14 L311.20,372.19 L311.55,372.25 L311.90,372.09 L312.25,372.64 L312.60,372.83 L312.95,372.15 L313.30,371.83 L313.65,372.84 L314.00,371.96 L314.35,372.33 L314.70,372.86 L315.05,372.36 L315.40,371.96 L315.75,373.49 L316.10,372.65 L316.45,372.75 L316.80,372.47 L317.15,372.63 L317.50,372.79 L317.85,372.74 L318.20,372.50 L318.55,371.86 L318.90,373.12 L319.25,372.80 L319.60,372.49 L319.95,372.16 L320.30,373.02 L320.65,372.80 L321.00,372.04 L321.35,372.25 L321.70,371.94 L322.05,373.86 L322.40,372.51 L322.75,372.07 L323.10,373.05 L323.45,373.18 L323.80,372.66 L324.15,372.95 L324.50,374.64 L324.85,372.57 L325.20,372.73 L325.55,372.80 L325.90,373.26 L326.25,372.17 L326.60,372.69 L326.95,372.82 L327.30,372.14 L327.65,373.00 L328.00,372.67 L328.35,372.86 L328.70,372.92 L329.05,372.15 L329.40,374.21 L329.75,372.98 L330.10,372.10 L330.45,372.23 L330.80,374.43 L331.15,372.61 L331.50,373.33 L331.85,372.57 L332.20,373.12 L332.55,373.23 L332.90,373.28 L333.25,373.59 L333.60,373.04 L333.95,373.30 L334.30,372.31 L334.65,372.37 L335.00,373.27 L335.35,372.15 L335.70,373.10 L336.05,372.91 L336.40,373.39 L336.75,373.87 L337.10,372.22 L337.45,372.85 L337.80,373.48 L338.15,373.12 L338.50,372.68 L338.85,372.44 L339.20,372.55 L339.55,372.12 L339.90,372.36 L340.25,372.56 L340.60,371.51 L340.95,371.64 L341.00,371.66 L341.40,371.49 L341.80,371.33 L342.00,371.38 L342.35,373.32 L342.70,371.44 L343.05,371.15 L343.40,370.60 L343.75,371.69 L344.10,371.07 L344.45,370.95 L344.80,371.63 L345.15,370.73 L345.50,370.77 L345.85,370.72 L346.20,370.91 L346.55,370.49 L346.90,370.76 L347.25,370.68 L347.60,370.46 L347.95,370.71 L348.30,370.38 L348.65,371.36 L349.00,370.52 L349.35,370.48 L349.70,370.81 L350.05,370.48 L350.40,370.74 L350.75,370.24 L351.10,370.18 L351.45,370.51 L351.80,369.99 L352.15,370.43 L352.50,369.85 L352.85,370.25 L352.90,369.99 L353.30,369.91 L353.70,369.83 L353.90,369.76 L354.25,369.54 L354.60,369.79 L354.95,369.73 L355.30,369.43 L355.65,369.34 L356.00,369.51 L356.35,368.89 L356.70,368.97 L357.05,368.72 L357.40,368.64 L357.75,368.37 L358.10,367.34 L358.45,366.94 L358.80,366.63 L359.15,366.18 L359.50,365.57 L359.85,365.71 L360.20,364.91 L360.55,364.50 L360.90,364.18 L361.25,363.87 L361.60,364.07 L361.95,363.89 L362.00,363.91 L362.40,363.96 L362.80,364.04 L363.00,364.20 L363.35,364.57 L363.70,364.39 L364.05,364.76 L364.40,364.51 L364.75,364.98 L365.10,364.98 L365.45,365.30 L365.80,366.04 L366.15,366.07 L366.50,366.82 L366.85,367.12 L367.20,367.72 L367.55,368.11 L367.90,368.14 L368.25,368.10 L368.60,368.39 L368.95,368.86 L369.30,369.46 L369.65,369.24 L370.00,369.25 L370.35,369.58 L370.70,369.98 L371.05,369.77 L371.40,370.23 L371.75,369.97 L372.10,369.91 L372.38,370.01 L372.66,370.16 L372.94,370.23 L373.22,370.37 L373.50,370.46 L373.78,370.42 L374.06,370.78 L374.34,370.70 L374.62,370.63 L374.90,370.80 L375.18,371.10 L375.46,370.97 L375.74,370.85 L376.02,370.92 L376.30,371.39 L376.58,371.07 L376.86,371.49 L377.14,371.32 L377.42,371.99 L377.70,371.90 L377.98,372.14 L378.26,371.91 L378.54,372.31 L378.82,372.37 L379.10,371.82 L379.38,371.57 L379.66,371.76 L379.94,372.00 L380.22,372.11 L380.50,371.27 L380.78,371.84 L381.06,372.55 L381.34,371.65 L381.62,371.84 L381.90,372.67 L382.18,372.63 L382.46,371.49 L382.74,372.77 L383.02,372.60 L383.30,371.42 L383.58,372.67 L383.86,372.79 L384.14,371.39 L384.42,372.00 L384.70,372.60 L384.98,372.72 L385.26,372.24 L385.54,372.19 L385.82,373.01 L386.10,372.05 L386.38,372.67 L386.66,372.38 L386.94,372.48 L387.22,373.65 L387.50,372.30 L387.78,372.81 L388.06,372.18 L388.34,371.69 L388.62,371.58 L388.90,373.00 L389.18,372.50 L389.46,372.14 L389.74,372.90 L390.02,372.00 L390.30,372.99 L390.58,371.92 L390.86,372.11 L391.14,372.67 L391.42,372.76 L391.70,371.83 L391.98,372.77 L392.26,373.12 L392.54,372.45 L392.82,372.24 L393.10,372.87 L393.38,372.84 L393.66,373.02 L393.94,373.47 L394.22,371.55 L394.50,373.03 L394.78,371.90 L395.06,372.67 L395.34,372.97 L395.62,373.24 L395.90,373.06 L396.18,371.82 L396.46,371.83 L396.74,373.08 L397.02,373.13 L397.30,371.60 L397.58,372.17 L397.86,371.92 L398.14,371.68 L398.42,372.11 L398.70,372.08 L398.98,372.53 L399.26,371.97 L399.54,373.07 L399.82,372.50 L400.10,373.00 L400.38,372.84 L400.66,372.06 L400.94,373.16 L401.22,372.64 L401.50,373.13 L401.78,372.44 L402.06,372.21 L402.34,371.64 L402.62,372.27 L402.90,372.59 L403.18,373.62 L403.46,372.32 L403.74,373.09 L404.02,373.35 L404.30,372.38 L404.58,372.41 L404.86,372.41 L405.14,372.28 L405.42,372.79 L405.70,371.87 L405.98,373.21 L406.26,372.10 L406.54,372.85 L406.82,372.55 L407.10,372.30 L407.38,372.92 L407.66,373.07 L407.94,372.26 L408.22,373.35 L408.50,372.13 L408.78,373.19 L409.06,373.30 L409.34,372.03 L409.62,373.12 L409.90,373.02 L410.18,372.53 L410.46,371.61 L410.74,373.33 L411.02,372.12 L411.30,372.50 L411.58,373.07 L411.86,372.90 L412.14,372.21 L412.42,373.38 L412.70,373.09 L412.98,372.74 L413.26,371.67 L413.54,372.39 L413.82,372.59 L414.10,372.88 L414.38,372.64 L414.66,373.03 L414.94,372.77 L415.22,373.34 L415.50,371.73 L415.78,373.03 L416.06,372.11 L416.34,372.49 L416.62,371.92 L416.90,372.63 L417.18,372.80 L417.46,372.54 L417.74,372.77 L418.02,372.17 L418.30,371.80 L418.58,372.97 L418.86,372.54 L419.14,373.35 L419.42,372.50 L419.70,372.81 L419.98,372.67 L420.26,372.04 L420.54,371.64 L420.82,372.99 L421.10,372.90 L421.38,373.17 L421.66,372.13 L421.94,371.51 L422.22,372.63 L422.50,372.67 L422.78,372.78" fill="none" stroke="#b4e0ef" stroke-width="1.15" stroke-linejoin="miter" stroke-miterlimit="2"/>
<path d="M372.00,369.85 L372.30,369.99 L372.60,370.13 L372.90,370.20 L373.20,370.30 L373.50,370.48 L373.80,370.57 L374.10,370.61 L374.40,370.77 L374.70,370.67 L375.00,370.88 L375.30,371.17 L375.60,370.90 L375.90,371.36 L376.20,371.05 L376.50,371.29 L376.80,371.64 L377.10,371.17 L377.40,371.64 L377.70,371.32 L378.00,371.93 L378.30,371.98 L378.60,372.07 L378.90,371.91 L379.20,372.02 L379.50,371.96 L379.80,371.65 L380.10,371.74 L380.40,372.40 L380.70,371.77 L381.00,371.96 L381.30,372.29 L381.60,372.85 L381.90,372.13 L382.20,372.13 L382.50,372.08 L382.80,372.31 L383.10,372.30 L383.40,372.00 L383.70,371.90 L384.00,371.72 L384.30,372.86 L384.60,372.74 L384.90,372.26 L385.20,371.70 L385.50,372.21 L385.80,372.86 L386.10,371.89 L386.40,372.14 L386.70,371.73 L387.00,371.91 L387.30,371.76 L387.60,372.11 L387.90,372.67 L388.20,372.64 L388.50,372.42 L388.80,371.78 L389.10,372.34 L389.40,372.08 L389.70,372.45 L390.00,372.03 L390.30,372.03 L390.60,372.42 L390.90,372.96 L391.20,372.40 L391.50,372.51 L391.80,372.63 L392.10,372.34 L392.40,372.72 L392.70,372.61 L393.00,371.80 L393.30,373.06 L393.60,372.60 L393.90,372.36 L394.20,372.71 L394.50,372.22 L394.80,372.45 L395.10,372.34 L395.40,371.83 L395.70,372.17 L396.00,372.62 L396.30,372.03 L396.60,371.86 L396.90,372.03 L397.20,372.24 L397.50,372.46 L397.80,372.10 L398.10,373.00 L398.40,373.08 L398.70,372.03 L399.00,372.43 L399.30,373.02 L399.60,372.13 L399.90,371.90 L400.20,372.19 L400.50,372.72 L400.80,372.19 L401.10,372.58 L401.40,372.09 L401.70,372.08 L402.00,372.81 L402.30,372.61 L402.60,372.72 L402.90,372.85 L403.20,372.20 L403.50,372.63 L403.80,372.46 L404.10,372.58 L404.40,372.39 L404.70,372.63 L405.00,372.52 L405.30,372.75 L405.60,372.67 L405.90,372.95 L406.20,373.09 L406.50,371.95 L406.80,372.07 L407.10,372.83 L407.40,372.69 L407.70,372.04 L408.00,372.83 L408.30,372.74 L408.60,372.68 L408.90,372.32 L409.20,372.35 L409.50,372.84 L409.80,373.04 L410.10,372.50 L410.40,372.13 L410.70,372.08 L411.00,372.45 L411.30,372.44 L411.60,372.55 L411.90,372.14 L412.20,372.94 L412.50,372.11 L412.80,373.09 L413.10,372.03 L413.40,372.15 L413.70,372.10 L414.00,372.77 L414.30,371.94 L414.60,372.42 L414.90,371.88 L415.20,372.11 L415.50,372.44 L415.80,372.27 L416.10,373.11 L416.40,372.72 L416.70,371.91 L417.00,372.22 L417.30,372.24 L417.60,372.10 L417.90,372.60 L418.20,372.81 L418.50,372.26 L418.80,372.48 L419.10,371.96 L419.40,372.63 L419.70,372.78 L420.00,372.81 L420.30,372.73 L420.60,372.47 L420.90,373.10 L421.20,372.13 L421.50,372.03 L421.80,372.23 L422.10,372.42 L422.40,372.81 L422.70,371.89" fill="none" stroke="#b4e0ef" stroke-width="1.2"/>
<path d="M246.85,370.20 L247.20,368.50 L247.55,370.14 M256.85,367.86 L257.20,359.60 L257.55,368.41 M341.05,371.94 L341.40,365.60 L341.75,371.65 M352.95,370.28 L353.30,367.40 L353.65,370.14 M362.05,364.22 L362.40,357.20 L362.75,364.33 " fill="none" stroke="#b4e0ef" stroke-width="0.85" stroke-linejoin="miter" stroke-miterlimit="10"/>
<path d="M244.00,395.68 L244.35,395.73 L244.70,395.90 L245.05,395.59 L245.40,395.69 L245.75,395.85 L246.10,395.96 L246.45,395.82 L246.80,395.76 L246.90,395.67 L247.30,395.66 L247.70,395.65 L247.85,395.91 L248.20,395.62 L248.55,395.59 L248.90,395.50 L249.25,395.84 L249.60,395.73 L249.95,395.43 L250.30,395.64 L250.65,395.61 L251.00,395.37 L251.35,395.31 L251.70,395.63 L252.05,395.51 L252.40,395.51 L252.75,395.19 L253.10,395.06 L253.45,394.93 L253.80,394.51 L254.15,394.52 L254.50,394.08 L254.85,393.78 L255.20,393.87 L255.55,393.34 L255.90,392.96 L256.25,393.08 L256.60,392.61 L256.95,392.84 L257.10,392.72 L257.50,393.17 L257.90,393.76 L258.00,394.06 L258.35,394.23 L258.70,394.69 L259.05,395.42 L259.40,395.74 L259.75,395.77 L260.10,395.95 L260.45,395.99 L260.80,395.86 L261.15,396.00 L261.50,395.87 L261.85,396.21 L262.20,395.94 L262.55,395.96 L262.90,396.13 L263.25,396.09 L263.60,396.35 L263.95,396.09 L264.30,396.37 L264.65,396.14 L265.00,396.47 L265.35,396.73 L265.70,396.11 L266.05,396.26 L266.40,396.42 L266.75,396.35 L267.10,396.43 L267.45,396.43 L267.80,396.55 L268.15,396.18 L268.50,396.58 L268.85,396.23 L269.20,396.47 L269.55,396.22 L269.90,396.57 L270.25,396.48 L270.60,396.48 L270.95,396.28 L271.30,396.46 L271.65,396.62 L272.00,396.59 L272.35,396.47 L272.70,396.59 L273.05,396.29 L273.40,396.35 L273.75,396.75 L274.10,396.43 L274.45,397.11 L274.80,396.33 L275.15,396.42 L275.50,396.67 L275.85,396.58 L276.20,396.67 L276.55,396.35 L276.90,396.56 L277.25,396.57 L277.60,396.79 L277.95,396.54 L278.30,396.58 L278.65,396.42 L279.00,396.44 L279.35,396.57 L279.70,396.58 L280.05,396.48 L280.40,396.71 L280.75,396.52 L281.10,396.59 L281.45,396.43 L281.80,396.60 L282.15,396.69 L282.50,396.43 L282.85,396.68 L283.20,396.58 L283.55,396.54 L283.90,396.51 L284.25,396.45 L284.60,396.47 L284.95,396.71 L285.30,396.49 L285.65,396.81 L286.00,396.53 L286.35,396.59 L286.70,396.85 L287.05,396.64 L287.40,396.49 L287.75,396.53 L288.10,396.95 L288.45,396.86 L288.80,396.74 L289.15,396.93 L289.50,396.66 L289.85,396.86 L290.20,396.79 L290.55,396.82 L290.90,396.79 L291.25,396.65 L291.60,396.94 L291.95,396.68 L292.30,397.04 L292.65,396.94 L293.00,396.80 L293.35,396.66 L293.70,396.91 L294.05,396.80 L294.40,396.99 L294.75,396.83 L295.10,396.77 L295.45,396.68 L295.80,397.45 L296.15,397.06 L296.50,397.20 L296.85,396.86 L297.20,397.42 L297.55,396.98 L297.90,397.13 L298.25,396.90 L298.60,396.91 L298.95,397.04 L299.30,396.93 L299.65,397.14 L300.00,396.97 L300.35,397.19 L300.70,397.18 L301.05,397.17 L301.40,397.17 L301.75,397.25 L302.10,397.06 L302.45,397.13 L302.80,397.16 L303.15,397.16 L303.50,397.04 L303.85,397.23 L304.20,396.97 L304.55,397.29 L304.90,397.06 L305.25,397.16 L305.60,397.28 L305.95,397.16 L306.30,397.38 L306.65,397.16 L307.00,397.12 L307.35,397.16 L307.70,397.14 L308.05,397.02 L308.40,397.09 L308.75,397.43 L309.10,397.43 L309.45,397.16 L309.80,397.12 L310.15,397.24 L310.50,397.37 L310.85,397.32 L311.20,397.35 L311.55,397.26 L311.90,397.30 L312.25,396.83 L312.60,397.30 L312.95,397.86 L313.30,397.85 L313.65,397.77 L314.00,397.97 L314.35,397.59 L314.70,398.10 L315.05,397.47 L315.40,396.89 L315.75,398.95 L316.10,397.48 L316.45,397.26 L316.80,397.93 L317.15,397.30 L317.50,397.10 L317.85,397.13 L318.20,397.46 L318.55,397.65 L318.90,397.90 L319.25,397.45 L319.60,397.63 L319.95,397.96 L320.30,397.70 L320.65,398.22 L321.00,397.31 L321.35,397.98 L321.70,398.16 L322.05,398.84 L322.40,398.22 L322.75,398.23 L323.10,398.31 L323.45,397.70 L323.80,398.30 L324.15,397.57 L324.50,398.25 L324.85,398.08 L325.20,397.66 L325.55,397.42 L325.90,397.79 L326.25,397.35 L326.60,397.63 L326.95,397.97 L327.30,398.35 L327.65,398.11 L328.00,398.43 L328.35,398.82 L328.70,397.56 L329.05,397.32 L329.40,397.96 L329.75,397.59 L330.10,397.43 L330.45,397.48 L330.80,397.65 L331.15,397.65 L331.50,398.04 L331.85,397.89 L332.20,397.35 L332.55,398.17 L332.90,397.78 L333.25,397.25 L333.60,397.44 L333.95,397.35 L334.30,397.79 L334.65,397.55 L335.00,398.25 L335.35,398.21 L335.70,398.25 L336.05,399.24 L336.40,398.17 L336.75,397.50 L337.10,397.21 L337.45,397.21 L337.80,398.15 L338.15,397.50 L338.50,398.20 L338.85,397.75 L339.20,397.90 L339.55,397.16 L339.90,398.66 L340.25,397.51 L340.60,397.81 L340.95,397.64 L341.00,397.48 L341.40,397.39 L341.80,397.29 L342.00,398.08 L342.35,397.01 L342.70,396.66 L343.05,397.07 L343.40,396.89 L343.75,397.62 L344.10,397.44 L344.45,396.82 L344.80,397.27 L345.15,396.64 L345.50,396.96 L345.85,396.49 L346.20,396.62 L346.55,396.66 L346.90,396.80 L347.25,396.71 L347.60,396.48 L347.95,396.16 L348.30,396.30 L348.65,396.19 L349.00,396.26 L349.35,396.07 L349.70,395.85 L350.05,395.72 L350.40,396.14 L350.75,395.91 L351.10,395.84 L351.45,395.35 L351.80,395.75 L352.15,395.38 L352.50,395.05 L352.85,395.04 L352.90,394.97 L353.30,394.81 L353.70,394.64 L353.90,394.54 L354.25,394.76 L354.60,394.35 L354.95,394.08 L355.30,394.04 L355.65,394.04 L356.00,393.44 L356.35,393.45 L356.70,393.09 L357.05,392.93 L357.40,393.16 L357.75,392.55 L358.10,392.59 L358.45,392.31 L358.80,391.89 L359.15,391.94 L359.50,391.46 L359.85,390.97 L360.20,391.17 L360.55,390.85 L360.90,390.69 L361.25,390.12 L361.60,390.46 L361.95,390.38 L362.20,390.20 L362.60,390.20 L363.00,390.20 L363.00,390.04 L363.35,390.11 L363.70,390.09 L364.05,390.15 L364.40,390.33 L364.75,390.39 L365.10,391.08 L365.45,391.30 L365.80,392.41 L366.15,392.39 L366.50,392.87 L366.85,393.07 L367.20,393.79 L367.55,394.07 L367.90,394.25 L368.25,394.70 L368.60,394.88 L368.95,395.51 L369.30,395.22 L369.65,394.99 L370.00,395.29 L370.35,395.28 L370.70,395.84 L371.05,395.63 L371.40,395.78 L371.75,396.11 L372.10,396.10 L372.38,396.17 L372.66,396.27 L372.94,396.35 L373.22,396.68 L373.50,396.56 L373.78,396.95 L374.06,396.65 L374.34,396.87 L374.62,397.21 L374.90,397.47 L375.18,397.64 L375.46,397.48 L375.74,397.61 L376.02,397.06 L376.30,397.86 L376.58,398.07 L376.86,398.39 L377.14,397.79 L377.42,398.50 L377.70,397.47 L377.98,398.89 L378.26,398.53 L378.54,397.80 L378.82,399.05 L379.10,398.51 L379.38,398.26 L379.66,399.28 L379.94,398.74 L380.22,399.25 L380.50,399.53 L380.78,398.81 L381.06,398.91 L381.34,399.17 L381.62,399.39 L381.90,398.65 L382.18,400.37 L382.46,399.25 L382.74,398.84 L383.02,398.31 L383.30,398.96 L383.58,397.69 L383.86,398.14 L384.14,398.59 L384.42,398.10 L384.70,399.19 L384.98,399.88 L385.26,399.04 L385.54,398.86 L385.82,399.79 L386.10,398.52 L386.38,399.60 L386.66,398.94 L386.94,398.65 L387.22,399.24 L387.50,400.24 L387.78,399.18 L388.06,398.90 L388.34,399.96 L388.62,397.86 L388.90,398.49 L389.18,398.64 L389.46,399.23 L389.74,400.20 L390.02,399.16 L390.30,397.80 L390.58,400.07 L390.86,398.55 L391.14,398.67 L391.42,398.79 L391.70,399.98 L391.98,399.10 L392.26,399.10 L392.54,398.08 L392.82,399.78 L393.10,398.72 L393.38,399.09 L393.66,398.48 L393.94,399.51 L394.22,398.95 L394.50,399.04 L394.78,398.99 L395.06,399.14 L395.34,399.42 L395.62,399.63 L395.90,399.71 L396.18,398.85 L396.46,399.33 L396.74,399.94 L397.02,397.92 L397.30,398.91 L397.58,398.84 L397.86,397.91 L398.14,400.36 L398.42,400.34 L398.70,398.94 L398.98,398.13 L399.26,398.29 L399.54,399.87 L399.82,400.29 L400.10,400.32 L400.38,400.35 L400.66,398.45 L400.94,400.06 L401.22,399.09 L401.50,400.39 L401.78,399.58 L402.06,399.42 L402.34,400.39 L402.62,399.86 L402.90,397.98 L403.18,398.30 L403.46,397.91 L403.74,399.61 L404.02,398.45 L404.30,399.38 L404.58,399.75 L404.86,399.33 L405.14,398.20 L405.42,399.84 L405.70,399.09 L405.98,398.75 L406.26,400.34 L406.54,399.12 L406.82,398.31 L407.10,399.38 L407.38,400.06 L407.66,400.09 L407.94,398.19 L408.22,398.20 L408.50,399.29 L408.78,399.56 L409.06,398.36 L409.34,399.39 L409.62,399.35 L409.90,400.00 L410.18,399.72 L410.46,399.58 L410.74,399.20 L411.02,398.15 L411.30,398.30 L411.58,398.95 L411.86,399.02 L412.14,398.92 L412.42,400.06 L412.70,400.73 L412.98,399.25 L413.26,399.50 L413.54,400.45 L413.82,399.29 L414.10,399.38 L414.38,398.60 L414.66,399.97 L414.94,399.12 L415.22,399.77 L415.50,398.43 L415.78,399.91 L416.06,399.97 L416.34,398.01 L416.62,400.31 L416.90,400.23 L417.18,400.39 L417.46,400.29 L417.74,400.28 L418.02,400.11 L418.30,399.75 L418.58,400.28 L418.86,399.10 L419.14,400.16 L419.42,398.51 L419.70,398.54 L419.98,399.56 L420.26,399.03 L420.54,398.33 L420.82,398.69 L421.10,400.02 L421.38,399.60 L421.66,398.74 L421.94,399.04 L422.22,400.00 L422.50,400.25 L422.78,399.21" fill="none" stroke="#40474a" stroke-width="1.15" stroke-linejoin="miter" stroke-miterlimit="2"/>
<path d="M372.00,396.05 L372.30,396.18 L372.60,396.32 L372.90,396.52 L373.20,396.57 L373.50,396.77 L373.80,396.67 L374.10,396.78 L374.40,396.95 L374.70,397.05 L375.00,397.45 L375.30,397.51 L375.60,397.21 L375.90,397.44 L376.20,397.39 L376.50,397.37 L376.80,397.43 L377.10,398.32 L377.40,398.04 L377.70,398.33 L378.00,397.75 L378.30,398.19 L378.60,398.42 L378.90,398.37 L379.20,398.04 L379.50,398.34 L379.80,398.88 L380.10,398.75 L380.40,398.38 L380.70,398.99 L381.00,398.08 L381.30,398.21 L381.60,399.54 L381.90,398.78 L382.20,399.10 L382.50,398.55 L382.80,398.62 L383.10,398.35 L383.40,398.69 L383.70,399.65 L384.00,399.60 L384.30,399.07 L384.60,398.77 L384.90,398.35 L385.20,399.15 L385.50,399.80 L385.80,399.05 L386.10,398.82 L386.40,398.33 L386.70,398.60 L387.00,399.39 L387.30,399.83 L387.60,398.45 L387.90,398.68 L388.20,399.71 L388.50,398.35 L388.80,399.38 L389.10,399.87 L389.40,399.89 L389.70,398.72 L390.00,398.98 L390.30,399.06 L390.60,398.47 L390.90,398.58 L391.20,399.93 L391.50,399.34 L391.80,399.35 L392.10,399.79 L392.40,399.34 L392.70,399.15 L393.00,399.61 L393.30,398.48 L393.60,399.71 L393.90,399.27 L394.20,398.30 L394.50,399.76 L394.80,399.97 L395.10,399.56 L395.40,398.95 L395.70,399.50 L396.00,399.97 L396.30,398.32 L396.60,398.58 L396.90,398.74 L397.20,398.36 L397.50,398.45 L397.80,398.40 L398.10,400.11 L398.40,399.35 L398.70,400.11 L399.00,398.41 L399.30,398.81 L399.60,398.80 L399.90,399.00 L400.20,399.80 L400.50,398.35 L400.80,399.17 L401.10,398.35 L401.40,398.82 L401.70,400.00 L402.00,399.27 L402.30,398.70 L402.60,398.41 L402.90,398.84 L403.20,399.70 L403.50,399.09 L403.80,398.88 L404.10,398.42 L404.40,398.39 L404.70,398.41 L405.00,399.53 L405.30,398.99 L405.60,398.62 L405.90,399.67 L406.20,399.54 L406.50,398.85 L406.80,399.08 L407.10,399.47 L407.40,398.60 L407.70,400.05 L408.00,398.95 L408.30,398.64 L408.60,399.27 L408.90,399.37 L409.20,399.33 L409.50,398.81 L409.80,399.92 L410.10,400.01 L410.40,399.23 L410.70,398.91 L411.00,399.71 L411.30,399.21 L411.60,398.61 L411.90,398.74 L412.20,398.80 L412.50,400.02 L412.80,399.32 L413.10,398.47 L413.40,398.83 L413.70,399.21 L414.00,399.08 L414.30,398.49 L414.60,400.04 L414.90,400.21 L415.20,399.58 L415.50,399.76 L415.80,399.13 L416.10,399.80 L416.40,400.00 L416.70,399.10 L417.00,400.18 L417.30,398.81 L417.60,398.87 L417.90,399.61 L418.20,398.66 L418.50,398.55 L418.80,399.37 L419.10,399.84 L419.40,399.67 L419.70,399.39 L420.00,400.09 L420.30,399.10 L420.60,400.20 L420.90,399.65 L421.20,398.98 L421.50,400.18 L421.80,398.50 L422.10,399.09 L422.40,399.90 L422.70,399.77" fill="none" stroke="#40474a" stroke-width="1.2"/>
<path d="M246.95,395.97 L247.30,393.00 L247.65,395.95 M257.15,393.07 L257.50,384.50 L257.85,393.99 M341.05,397.77 L341.40,390.70 L341.75,397.60 M352.95,395.25 L353.30,393.50 L353.65,394.96 M362.25,390.50 L362.60,383.10 L362.95,390.50 " fill="none" stroke="#40474a" stroke-width="0.85" stroke-linejoin="miter" stroke-miterlimit="10"/>
<line x1="242.90" y1="228.50" x2="423.90" y2="228.50" stroke="#333" stroke-width="1.0" />
<line x1="242.90" y1="405.30" x2="423.90" y2="405.30" stroke="#333" stroke-width="1.0" />
<line x1="243.40" y1="228.00" x2="243.40" y2="405.80" stroke="#4a4a4a" stroke-width="1.1" />
<line x1="423.90" y1="228.00" x2="423.90" y2="405.80" stroke="#8a8a8a" stroke-width="1.8" />
<line x1="244.30" y1="405.30" x2="244.30" y2="402.30" stroke="#333" stroke-width="0.9" />
<line x1="288.80" y1="405.30" x2="288.80" y2="402.30" stroke="#333" stroke-width="0.9" />
<line x1="333.30" y1="405.30" x2="333.30" y2="402.30" stroke="#333" stroke-width="0.9" />
<line x1="377.80" y1="405.30" x2="377.80" y2="402.30" stroke="#333" stroke-width="0.9" />
<line x1="422.30" y1="405.30" x2="422.30" y2="402.30" stroke="#333" stroke-width="0.9" />
<text x="236.58" y="417.20" font-size="12.5" textLength="15.29" lengthAdjust="spacingAndGlyphs" fill="#111" >20</text>
<text x="281.16" y="417.20" font-size="12.5" textLength="15.29" lengthAdjust="spacingAndGlyphs" fill="#111" >30</text>
<text x="325.76" y="417.20" font-size="12.5" textLength="15.29" lengthAdjust="spacingAndGlyphs" fill="#111" >40</text>
<text x="370.15" y="417.20" font-size="12.5" textLength="15.29" lengthAdjust="spacingAndGlyphs" fill="#111" >50</text>
<text x="414.57" y="417.20" font-size="12.5" textLength="15.29" lengthAdjust="spacingAndGlyphs" fill="#111" >60</text>
<text x="305.29" y="431.00" font-size="12.5" textLength="56.79" lengthAdjust="spacingAndGlyphs" fill="#111" >2θ (deg.)</text>
<text transform="translate(238.70,361.70) rotate(-90)" x="-1.33" y="0" font-size="12" textLength="91.53" lengthAdjust="spacingAndGlyphs" fill="#111">Intensity (a.u.)</text>
<text x="377.03" y="242.30" font-size="13.8" font-weight="bold" textLength="42.40" lengthAdjust="spacingAndGlyphs" fill="#000" >SHO10</text>
<text x="376.24" y="267.50" font-size="13.8" font-weight="bold" textLength="45.02" lengthAdjust="spacingAndGlyphs" fill="#000" >SHO7.5</text>
<text x="376.23" y="293.20" font-size="13.8" font-weight="bold" textLength="45.73" lengthAdjust="spacingAndGlyphs" fill="#000" >SHO5.5</text>
<text x="376.23" y="319.30" font-size="13.8" font-weight="bold" textLength="45.73" lengthAdjust="spacingAndGlyphs" fill="#000" >SHO3.5</text>
<text x="376.23" y="344.10" font-size="13.8" font-weight="bold" textLength="35.29" lengthAdjust="spacingAndGlyphs" fill="#000" >SHO2</text>
<text x="376.23" y="368.30" font-size="13.8" font-weight="bold" textLength="35.31" lengthAdjust="spacingAndGlyphs" fill="#000" >SHO0</text>
<text x="376.23" y="395.00" font-size="13.8" font-weight="bold" textLength="26.31" lengthAdjust="spacingAndGlyphs" fill="#000" >STO</text>
<text x="220.25" y="229.00" font-size="16.5" textLength="9.84" lengthAdjust="spacingAndGlyphs" fill="#000" >e</text>
<text x="248.29" y="237.70" font-size="11.5" font-weight="bold" textLength="6.81" lengthAdjust="spacingAndGlyphs" fill="#000" transform="skewX(-8) translate(32.91,0)">#</text>
<polygon points="258.5,232.1 263.4,232.1 260.95,236.8" fill="none" stroke="#111" stroke-width="0.8" stroke-linejoin="miter"/>
<line x1="258.20" y1="232.20" x2="263.70" y2="232.20" stroke="#111" stroke-width="1.3" />
<text x="268.10" y="239.50" font-size="12.5" font-weight="bold" textLength="10.75" lengthAdjust="spacingAndGlyphs" fill="#000" >m</text>
<text x="288.37" y="239.80" font-size="12.5" font-weight="bold" textLength="17.89" lengthAdjust="spacingAndGlyphs" fill="#000" >o(t)</text>
<text x="336.25" y="237.70" font-size="10.8" font-weight="bold" textLength="7.04" lengthAdjust="spacingAndGlyphs" fill="#000" >K</text>
<text x="343.21" y="240.40" font-size="6.5" font-weight="bold" textLength="5.17" lengthAdjust="spacingAndGlyphs" fill="#000" >β</text>
<polygon points="355.2,231.1 360.4,231.1 357.8,235.9" fill="none" stroke="#111" stroke-width="0.8" stroke-linejoin="miter"/>
<line x1="354.90" y1="231.20" x2="360.70" y2="231.20" stroke="#111" stroke-width="1.3" />
<text x="363.91" y="237.50" font-size="11.5" font-weight="bold" textLength="6.27" lengthAdjust="spacingAndGlyphs" fill="#000" transform="skewX(-8) translate(32.89,0)">#</text>
<line x1="499.70" y1="35.40" x2="675.60" y2="35.40" stroke="#3d6f75" stroke-width="1.0" stroke-dasharray="1.9,0.9"/>
<line x1="499.70" y1="52.40" x2="675.60" y2="52.40" stroke="#3d6f75" stroke-width="1.0" stroke-dasharray="1.9,0.9"/>
<path d="M505.30,38.50 L510.70,38.50 C511.46,38.50 511.84,36.10 512.60,36.10 L530.40,36.10 C532.44,36.10 533.46,78.00 535.50,78.00 C536.74,78.00 537.36,46.00 538.60,46.00 C539.44,46.00 539.86,91.50 540.70,91.50 C541.82,91.50 542.38,39.60 543.50,39.60 C544.58,39.60 545.12,79.50 546.20,79.50 C547.48,79.50 548.12,39.30 549.40,39.30 C550.44,39.30 550.96,91.50 552.00,91.50 C553.00,91.50 553.50,46.90 554.50,46.90 C555.58,46.90 556.12,80.00 557.20,80.00 C558.40,80.00 559.00,46.00 560.20,46.00 C561.44,46.00 562.06,127.60 563.30,127.60 C564.62,127.60 565.28,64.00 566.60,64.00 C567.32,64.00 567.68,77.00 568.40,77.00 C569.52,77.00 570.08,50.00 571.20,50.00 C572.72,50.00 573.48,160.00 575.00,160.00 C576.20,160.00 576.80,76.40 578.00,76.40 C578.92,76.40 579.38,110.00 580.30,110.00 C581.58,110.00 582.22,58.50 583.50,58.50 C584.70,58.50 585.30,158.40 586.50,158.40 C587.74,158.40 588.36,67.50 589.60,67.50 C590.84,67.50 591.46,113.50 592.70,113.50 C593.94,113.50 594.56,42.00 595.80,42.00 C596.72,42.00 597.18,85.20 598.10,85.20 C599.10,85.20 599.60,32.80 600.60,32.80 C602.08,32.80 602.82,76.00 604.30,76.00 C605.94,76.00 606.76,27.00 608.40,27.00 C609.60,27.00 610.20,84.00 611.40,84.00 C612.28,84.00 612.72,29.20 613.60,29.20 C615.36,29.20 616.24,79.70 618.00,79.70 C620.24,79.70 621.36,38.70 623.60,38.70 L647.90,38.70" fill="none" stroke="#c98fe3" stroke-width="2" stroke-linejoin="round"/>
<rect x="499.1" y="10.1" width="177.10000000000002" height="173.3" fill="none" stroke="#5a5a5a" stroke-width="1.6"/>
<line x1="499.10" y1="10.10" x2="502.10" y2="10.10" stroke="#222" stroke-width="1.0" />
<text x="481.07" y="14.30" font-size="12.5" textLength="15.57" lengthAdjust="spacingAndGlyphs" fill="#111" >10</text>
<line x1="499.10" y1="34.85" x2="502.10" y2="34.85" stroke="#222" stroke-width="1.0" />
<text x="488.90" y="39.05" font-size="12.5" textLength="7.79" lengthAdjust="spacingAndGlyphs" fill="#111" >5</text>
<line x1="499.10" y1="59.60" x2="502.10" y2="59.60" stroke="#222" stroke-width="1.0" />
<text x="488.86" y="63.80" font-size="12.5" textLength="7.79" lengthAdjust="spacingAndGlyphs" fill="#111" >0</text>
<line x1="499.10" y1="84.35" x2="502.10" y2="84.35" stroke="#222" stroke-width="1.0" />
<text x="480.73" y="88.55" font-size="12.5" textLength="15.96" lengthAdjust="spacingAndGlyphs" fill="#111" >−5</text>
<line x1="499.10" y1="109.10" x2="502.10" y2="109.10" stroke="#222" stroke-width="1.0" />
<text x="472.90" y="113.30" font-size="12.5" textLength="23.75" lengthAdjust="spacingAndGlyphs" fill="#111" >−10</text>
<line x1="499.10" y1="133.85" x2="502.10" y2="133.85" stroke="#222" stroke-width="1.0" />
<text x="472.94" y="138.05" font-size="12.5" textLength="23.75" lengthAdjust="spacingAndGlyphs" fill="#111" >−15</text>
<line x1="499.10" y1="158.60" x2="502.10" y2="158.60" stroke="#222" stroke-width="1.0" />
<text x="472.90" y="162.80" font-size="12.5" textLength="23.75" lengthAdjust="spacingAndGlyphs" fill="#111" >−20</text>
<line x1="499.10" y1="183.35" x2="502.10" y2="183.35" stroke="#222" stroke-width="1.0" />
<text x="472.94" y="187.55" font-size="12.5" textLength="23.75" lengthAdjust="spacingAndGlyphs" fill="#111" >−25</text>
<line x1="506.00" y1="183.40" x2="506.00" y2="180.40" stroke="#222" stroke-width="1.0" />
<line x1="534.37" y1="183.40" x2="534.37" y2="180.40" stroke="#222" stroke-width="1.0" />
<line x1="562.74" y1="183.40" x2="562.74" y2="180.40" stroke="#222" stroke-width="1.0" />
<line x1="591.11" y1="183.40" x2="591.11" y2="180.40" stroke="#222" stroke-width="1.0" />
<line x1="619.48" y1="183.40" x2="619.48" y2="180.40" stroke="#222" stroke-width="1.0" />
<line x1="647.85" y1="183.40" x2="647.85" y2="180.40" stroke="#222" stroke-width="1.0" />
<line x1="676.22" y1="183.40" x2="676.22" y2="180.40" stroke="#222" stroke-width="1.0" />
<text x="502.11" y="195.20" font-size="12.5" textLength="7.79" lengthAdjust="spacingAndGlyphs" fill="#111" >0</text>
<text x="526.32" y="195.20" font-size="12.5" textLength="15.57" lengthAdjust="spacingAndGlyphs" fill="#111" >10</text>
<text x="554.88" y="195.20" font-size="12.5" textLength="15.57" lengthAdjust="spacingAndGlyphs" fill="#111" >20</text>
<text x="583.33" y="195.20" font-size="12.5" textLength="15.57" lengthAdjust="spacingAndGlyphs" fill="#111" >30</text>
<text x="611.81" y="195.20" font-size="12.5" textLength="15.57" lengthAdjust="spacingAndGlyphs" fill="#111" >40</text>
<text x="640.06" y="195.20" font-size="12.5" textLength="15.57" lengthAdjust="spacingAndGlyphs" fill="#111" >50</text>
<text x="668.35" y="195.20" font-size="12.5" textLength="15.57" lengthAdjust="spacingAndGlyphs" fill="#111" >60</text>
<rect x="504.0" y="15.3" width="60.3" height="17.6" rx="2.5" fill="#fff" fill-opacity="0.8" stroke="#d8d8d8" stroke-width="0.8"/>
<line x1="507.80" y1="23.50" x2="530.00" y2="23.50" stroke="#c98fe3" stroke-width="1.6" />
<text x="537.49" y="27.20" font-size="11" textLength="19.75" lengthAdjust="spacingAndGlyphs" fill="#222" >SRO</text>
<text x="560.61" y="27.00" font-size="12.5" font-weight="bold" textLength="39.87" lengthAdjust="spacingAndGlyphs" fill="#000" >3.28eV</text>
<g stroke="#111" stroke-width="0.9" fill="none"><line x1="570.4" y1="35.6" x2="570.4" y2="50.0"/><polyline points="566.9,40.4 570.4,35.4 573.9,40.4"/><polyline points="566.9,45.2 570.4,50.2 573.9,45.2"/><line x1="574.3" y1="45.0" x2="584.0" y2="28.8"/><polyline points="580.0,30.5 584.2,28.5 584.2,33.2"/></g>
<circle cx="570.4" cy="35.4" r="0.9" fill="#111"/><circle cx="570.8" cy="50.2" r="0.9" fill="#111"/>
<text transform="translate(467.80,132.20) rotate(-90)" x="-1.12" y="0" font-size="12.5" textLength="73.07" lengthAdjust="spacingAndGlyphs" fill="#111">Energy (eV)</text>
<text x="543.46" y="207.60" font-size="12.5" textLength="87.94" lengthAdjust="spacingAndGlyphs" fill="#111" >Distance point</text>
<text x="448.95" y="11.80" font-size="16.5" textLength="8.81" lengthAdjust="spacingAndGlyphs" fill="#000" >c</text>
<line x1="501.20" y1="250.00" x2="682.00" y2="250.00" stroke="#7aaab5" stroke-width="1.0" stroke-dasharray="1.6,1.0"/>
<line x1="501.20" y1="283.60" x2="682.00" y2="283.60" stroke="#7aaab5" stroke-width="1.0" stroke-dasharray="1.6,1.0"/>
<path d="M508.1,248.7 L536.2,248.7 C538.4,248.7 539.2,252 539.5,262 L541.2,300 C541.7,330 542.0,373 542.7,373 C543.82,373.00 544.38,304.00 545.50,304.00 C546.82,304.00 547.48,397.60 548.80,397.60 C550.16,397.60 550.84,293.00 552.20,293.00 C553.40,293.00 554.00,375.50 555.20,375.50 C556.48,375.50 557.12,293.00 558.40,293.00 C559.76,293.00 560.44,397.60 561.80,397.60 C563.24,397.60 563.96,293.00 565.40,293.00 C566.56,293.00 567.14,375.50 568.30,375.50 C569.58,375.50 570.22,293.00 571.50,293.00 C572.86,293.00 573.54,397.60 574.90,397.60 C576.30,397.60 577.00,293.00 578.40,293.00 C579.56,293.00 580.14,375.50 581.30,375.50 C582.62,375.50 583.28,293.00 584.60,293.00 C585.92,293.00 586.58,397.60 587.90,397.60 C589.22,397.60 589.88,293.00 591.20,293.00 C592.44,293.00 593.06,375.50 594.30,375.50 C595.58,375.50 596.22,293.00 597.50,293.00 C598.86,293.00 599.54,397.60 600.90,397.60 C602.26,397.60 602.94,293.00 604.30,293.00 C605.50,293.00 606.10,375.50 607.30,375.50 C608.62,375.50 609.28,293.00 610.60,293.00 C611.92,293.00 612.58,397.60 613.90,397.60 C615.34,397.60 616.06,293.00 617.50,293.00 C618.70,293.00 619.30,375.50 620.50,375.50 C621.82,375.50 622.48,293.00 623.80,293.00 C625.08,293.00 625.72,397.60 627.00,397.60 C628.44,397.60 629.16,303.50 630.60,303.50 C631.60,303.50 632.10,373.00 633.10,373.00 C633.6,373 633.9,330 634.2,310 L636.2,262 C636.6,252 637.5,248.7 640.3,248.7 L674.9,248.7" fill="none" stroke="#c98fe3" stroke-width="2" stroke-linejoin="round"/>
<rect x="500.6" y="228.8" width="182.0" height="178.89999999999998" fill="none" stroke="#5a5a5a" stroke-width="1.6"/>
<line x1="500.60" y1="229.80" x2="503.60" y2="229.80" stroke="#222" stroke-width="1.0" />
<text x="482.57" y="234.00" font-size="12.5" textLength="15.57" lengthAdjust="spacingAndGlyphs" fill="#111" >10</text>
<line x1="500.60" y1="265.40" x2="503.60" y2="265.40" stroke="#222" stroke-width="1.0" />
<text x="490.40" y="269.60" font-size="12.5" textLength="7.79" lengthAdjust="spacingAndGlyphs" fill="#111" >5</text>
<line x1="500.60" y1="301.00" x2="503.60" y2="301.00" stroke="#222" stroke-width="1.0" />
<text x="490.36" y="305.20" font-size="12.5" textLength="7.79" lengthAdjust="spacingAndGlyphs" fill="#111" >0</text>
<line x1="500.60" y1="336.60" x2="503.60" y2="336.60" stroke="#222" stroke-width="1.0" />
<text x="482.23" y="340.80" font-size="12.5" textLength="15.96" lengthAdjust="spacingAndGlyphs" fill="#111" >−5</text>
<line x1="500.60" y1="372.20" x2="503.60" y2="372.20" stroke="#222" stroke-width="1.0" />
<text x="474.40" y="376.40" font-size="12.5" textLength="23.75" lengthAdjust="spacingAndGlyphs" fill="#111" >−10</text>
<line x1="500.60" y1="407.80" x2="503.60" y2="407.80" stroke="#222" stroke-width="1.0" />
<text x="474.44" y="412.00" font-size="12.5" textLength="23.75" lengthAdjust="spacingAndGlyphs" fill="#111" >−15</text>
<line x1="508.80" y1="407.70" x2="508.80" y2="404.70" stroke="#222" stroke-width="1.0" />
<line x1="541.80" y1="407.70" x2="541.80" y2="404.70" stroke="#222" stroke-width="1.0" />
<line x1="574.80" y1="407.70" x2="574.80" y2="404.70" stroke="#222" stroke-width="1.0" />
<line x1="640.80" y1="407.70" x2="640.80" y2="404.70" stroke="#222" stroke-width="1.0" />
<line x1="673.80" y1="407.70" x2="673.80" y2="404.70" stroke="#222" stroke-width="1.0" />
<text x="504.91" y="419.50" font-size="12.5" textLength="7.79" lengthAdjust="spacingAndGlyphs" fill="#111" >0</text>
<text x="533.75" y="419.50" font-size="12.5" textLength="15.57" lengthAdjust="spacingAndGlyphs" fill="#111" >10</text>
<text x="566.94" y="419.50" font-size="12.5" textLength="15.57" lengthAdjust="spacingAndGlyphs" fill="#111" >20</text>
<text x="633.13" y="419.50" font-size="12.5" textLength="15.57" lengthAdjust="spacingAndGlyphs" fill="#111" >40</text>
<text x="666.01" y="419.50" font-size="12.5" textLength="15.57" lengthAdjust="spacingAndGlyphs" fill="#111" >50</text>
<rect x="556.7" y="234.6" width="69.7" height="18.8" rx="2.5" fill="#fff" fill-opacity="0.8" stroke="#d8d8d8" stroke-width="0.8"/>
<line x1="560.10" y1="242.70" x2="583.40" y2="242.70" stroke="#c98fe3" stroke-width="1.6" />
<text x="590.91" y="247.00" font-size="11" textLength="30.60" lengthAdjust="spacingAndGlyphs" fill="#222" >LSMO</text>
<text x="551.41" y="273.90" font-size="12.5" font-weight="bold" textLength="40.68" lengthAdjust="spacingAndGlyphs" fill="#000" >4.83eV</text>
<g stroke="#111" stroke-width="0.9" fill="none"><line x1="546.5" y1="248.8" x2="546.5" y2="286.2"/><polyline points="542.9,254.0 546.5,248.5 550.1,254.0"/><polyline points="542.9,281.0 546.5,286.5 550.1,281.0"/></g>
<text transform="translate(468.80,353.90) rotate(-90)" x="-1.14" y="0" font-size="12.5" textLength="74.31" lengthAdjust="spacingAndGlyphs" fill="#111">Energy (eV)</text>
<text x="545.32" y="432.20" font-size="12.5" textLength="91.08" lengthAdjust="spacingAndGlyphs" fill="#111" >Distance point</text>
<text x="450.93" y="229.00" font-size="16.5" textLength="5.34" lengthAdjust="spacingAndGlyphs" fill="#000" >f</text>
</svg></body></html>
